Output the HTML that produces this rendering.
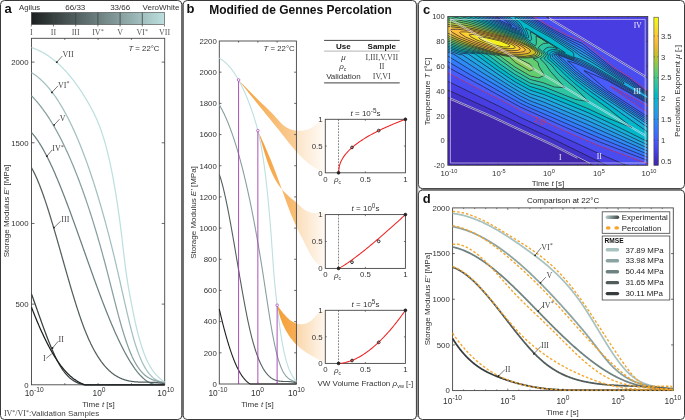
<!DOCTYPE html>
<html><head><meta charset="utf-8"><style>
html,body{margin:0;padding:0;background:#fff;}
svg{display:block;will-change:transform;}
</style></head><body>
<svg width="685" height="420" viewBox="0 0 685 420" font-family='"Liberation Sans", sans-serif'>
<rect width="685" height="420" fill="#fff"/>
<rect x="181.8" y="3" width="1.4" height="414" fill="#a0a0a0"/>
<rect x="416.4" y="3" width="2.0" height="414" fill="#a0a0a0"/>
<rect x="421" y="188.6" width="261" height="1.5" fill="#a0a0a0"/>
<rect x="0.5" y="0.5" width="181.3" height="419" rx="4" ry="4" fill="none" stroke="#3a3a3a" stroke-width="1"/>
<rect x="183.2" y="0.5" width="233.2" height="419" rx="4" ry="4" fill="none" stroke="#3a3a3a" stroke-width="1"/>
<rect x="418.4" y="0.5" width="266.1" height="188.1" rx="4" ry="4" fill="none" stroke="#3a3a3a" stroke-width="1"/>
<rect x="418.4" y="190.1" width="266.1" height="229.4" rx="4" ry="4" fill="none" stroke="#3a3a3a" stroke-width="1"/>
<text x="4.5" y="13" font-size="13" text-anchor="start" fill="#111" font-weight="bold" font-family='"Liberation Sans", sans-serif' >a</text>
<defs><linearGradient id="gA" x1="0" x2="1" y1="0" y2="0"><stop offset="0" stop-color="#1c1f1f"/><stop offset="1" stop-color="#bddfdf"/></linearGradient>
<linearGradient id="fan" x1="0" x2="1" y1="0" y2="0"><stop offset="0" stop-color="#f5a432"/><stop offset="0.5" stop-color="#fbc98a"/><stop offset="1" stop-color="#fde9d2" stop-opacity="0.9"/></linearGradient>
<linearGradient id="gExp" x1="0" x2="1" y1="0" y2="0"><stop offset="0" stop-color="#b7cfcf"/><stop offset="1" stop-color="#3a4242"/></linearGradient>
</defs>
<rect x="31.3" y="12.5" width="133.2" height="12" fill="url(#gA)" stroke="#444" stroke-width="0.6"/>
<line x1="31.3" y1="24.5" x2="31.3" y2="26.5" stroke="#444" stroke-width="0.7" />
<line x1="53.5" y1="12.5" x2="53.5" y2="24.5" stroke="#3c4444" stroke-width="0.8" />
<line x1="53.5" y1="24.5" x2="53.5" y2="26.5" stroke="#444" stroke-width="0.7" />
<line x1="75.7" y1="12.5" x2="75.7" y2="24.5" stroke="#3c4444" stroke-width="0.8" />
<line x1="75.7" y1="24.5" x2="75.7" y2="26.5" stroke="#444" stroke-width="0.7" />
<line x1="97.9" y1="12.5" x2="97.9" y2="24.5" stroke="#3c4444" stroke-width="0.8" />
<line x1="97.9" y1="24.5" x2="97.9" y2="26.5" stroke="#444" stroke-width="0.7" />
<line x1="120.1" y1="12.5" x2="120.1" y2="24.5" stroke="#3c4444" stroke-width="0.8" />
<line x1="120.1" y1="24.5" x2="120.1" y2="26.5" stroke="#444" stroke-width="0.7" />
<line x1="142.3" y1="12.5" x2="142.3" y2="24.5" stroke="#3c4444" stroke-width="0.8" />
<line x1="142.3" y1="24.5" x2="142.3" y2="26.5" stroke="#444" stroke-width="0.7" />
<line x1="164.5" y1="24.5" x2="164.5" y2="26.5" stroke="#444" stroke-width="0.7" />
<text x="31.3" y="34.6" font-size="8" text-anchor="middle" fill="#555" font-weight="normal" font-family='"Liberation Serif", serif' >I</text>
<text x="53.5" y="34.6" font-size="8" text-anchor="middle" fill="#555" font-weight="normal" font-family='"Liberation Serif", serif' >II</text>
<text x="75.7" y="34.6" font-size="8" text-anchor="middle" fill="#555" font-weight="normal" font-family='"Liberation Serif", serif' >III</text>
<text x="97.9" y="34.6" font-size="8" text-anchor="middle" fill="#555" font-weight="normal" font-family='"Liberation Serif", serif' >IV<tspan font-size="6" dy="-2">*</tspan></text>
<text x="120.1" y="34.6" font-size="8" text-anchor="middle" fill="#555" font-weight="normal" font-family='"Liberation Serif", serif' >V</text>
<text x="142.3" y="34.6" font-size="8" text-anchor="middle" fill="#555" font-weight="normal" font-family='"Liberation Serif", serif' >VI<tspan font-size="6" dy="-2">*</tspan></text>
<text x="164.5" y="34.6" font-size="8" text-anchor="middle" fill="#555" font-weight="normal" font-family='"Liberation Serif", serif' >VII</text>
<text x="19" y="10.2" font-size="7.8" text-anchor="start" fill="#333" font-weight="normal" font-family='"Liberation Sans", sans-serif' >Agilus</text>
<text x="75.3" y="10.2" font-size="8" text-anchor="middle" fill="#333" font-weight="normal" font-family='"Liberation Sans", sans-serif' >66/33</text>
<text x="120.2" y="10.2" font-size="8" text-anchor="middle" fill="#333" font-weight="normal" font-family='"Liberation Sans", sans-serif' >33/66</text>
<text x="142.6" y="10.2" font-size="8" text-anchor="start" fill="#333" font-weight="normal" font-family='"Liberation Sans", sans-serif' >VeroWhite</text>
<rect x="31.5" y="38.3" width="133.2" height="346.5" fill="none" stroke="#444" stroke-width="0.9"/>
<line x1="64.8" y1="384.8" x2="64.8" y2="383.2" stroke="#444" stroke-width="0.8" />
<line x1="64.8" y1="38.3" x2="64.8" y2="39.9" stroke="#444" stroke-width="0.8" />
<line x1="98.1" y1="384.8" x2="98.1" y2="383.2" stroke="#444" stroke-width="0.8" />
<line x1="98.1" y1="38.3" x2="98.1" y2="39.9" stroke="#444" stroke-width="0.8" />
<line x1="131.4" y1="384.8" x2="131.4" y2="383.2" stroke="#444" stroke-width="0.8" />
<line x1="131.4" y1="38.3" x2="131.4" y2="39.9" stroke="#444" stroke-width="0.8" />
<text x="28.5" y="387.6" font-size="7.8" text-anchor="end" fill="#333" font-weight="normal" font-family='"Liberation Sans", sans-serif' >0</text>
<line x1="31.5" y1="304.12" x2="34.5" y2="304.12" stroke="#444" stroke-width="0.8" />
<line x1="164.7" y1="304.12" x2="161.7" y2="304.12" stroke="#444" stroke-width="0.8" />
<text x="28.5" y="306.93" font-size="7.8" text-anchor="end" fill="#333" font-weight="normal" font-family='"Liberation Sans", sans-serif' >500</text>
<line x1="31.5" y1="223.45" x2="34.5" y2="223.45" stroke="#444" stroke-width="0.8" />
<line x1="164.7" y1="223.45" x2="161.7" y2="223.45" stroke="#444" stroke-width="0.8" />
<text x="28.5" y="226.25" font-size="7.8" text-anchor="end" fill="#333" font-weight="normal" font-family='"Liberation Sans", sans-serif' >1000</text>
<line x1="31.5" y1="142.78" x2="34.5" y2="142.78" stroke="#444" stroke-width="0.8" />
<line x1="164.7" y1="142.78" x2="161.7" y2="142.78" stroke="#444" stroke-width="0.8" />
<text x="28.5" y="145.58" font-size="7.8" text-anchor="end" fill="#333" font-weight="normal" font-family='"Liberation Sans", sans-serif' >1500</text>
<line x1="31.5" y1="62.1" x2="34.5" y2="62.1" stroke="#444" stroke-width="0.8" />
<line x1="164.7" y1="62.1" x2="161.7" y2="62.1" stroke="#444" stroke-width="0.8" />
<text x="28.5" y="64.9" font-size="7.8" text-anchor="end" fill="#333" font-weight="normal" font-family='"Liberation Sans", sans-serif' >2000</text>
<text x="34.2" y="396.2" font-size="8.4" text-anchor="middle" fill="#333" font-family='"Liberation Sans", sans-serif'>10<tspan font-size="6.7" dy="-3.8">-10</tspan></text>
<text x="99" y="396.2" font-size="8.4" text-anchor="middle" fill="#333" font-family='"Liberation Sans", sans-serif'>10<tspan font-size="6.7" dy="-3.8">0</tspan></text>
<text x="165.7" y="396.2" font-size="8.4" text-anchor="middle" fill="#333" font-family='"Liberation Sans", sans-serif'>10<tspan font-size="6.7" dy="-3.8">10</tspan></text>
<text x="98.5" y="407.3" font-size="8" text-anchor="middle" fill="#333" font-family='"Liberation Sans", sans-serif'>Time <tspan font-style="italic">t</tspan> [s]</text>
<text transform="translate(9.2,211) rotate(-90)" font-size="8" text-anchor="middle" fill="#333" font-family='"Liberation Sans", sans-serif'>Storage Modulus <tspan font-style="italic">E'</tspan> [MPa]</text>
<text x="159.5" y="50.8" font-size="7.8" text-anchor="end" fill="#333" font-family='"Liberation Sans", sans-serif'><tspan font-style="italic">T</tspan> = 22°C</text>
<text x="3.9" y="416" font-size="8" fill="#444" font-family='"Liberation Serif", serif'>IV<tspan font-size="6" dy="-2">*</tspan><tspan dy="2">/VI</tspan><tspan font-size="6" dy="-2">*</tspan><tspan dy="2">:</tspan><tspan font-family='"Liberation Sans", sans-serif'>Validation Samples</tspan></text>
<path d="M31.5,47.6 L31.83,47.71 L32.17,47.82 L32.5,47.93 L32.84,48.05 L33.17,48.17 L33.5,48.29 L33.84,48.41 L34.17,48.54 L34.5,48.66 L34.84,48.79 L35.17,48.93 L35.51,49.06 L35.84,49.19 L36.17,49.33 L36.51,49.47 L36.84,49.61 L37.18,49.76 L37.51,49.91 L37.84,50.05 L38.18,50.21 L38.51,50.36 L38.84,50.51 L39.18,50.67 L39.51,50.83 L39.85,50.99 L40.18,51.16 L40.51,51.33 L40.85,51.5 L41.18,51.67 L41.52,51.84 L41.85,52.02 L42.18,52.19 L42.52,52.38 L42.85,52.56 L43.18,52.74 L43.52,52.93 L43.85,53.12 L44.19,53.31 L44.52,53.51 L44.85,53.71 L45.19,53.91 L45.52,54.11 L45.85,54.31 L46.19,54.52 L46.52,54.73 L46.86,54.94 L47.19,55.16 L47.52,55.37 L47.86,55.59 L48.19,55.81 L48.53,56.04 L48.86,56.27 L49.19,56.49 L49.53,56.73 L49.86,56.96 L50.19,57.2 L50.53,57.44 L50.86,57.68 L51.2,57.92 L51.53,58.17 L51.86,58.42 L52.2,58.67 L52.53,58.93 L52.87,59.18 L53.2,59.44 L53.53,59.71 L53.87,59.97 L54.2,60.24 L54.53,60.51 L54.87,60.78 L55.2,61.06 L55.54,61.34 L55.87,61.62 L56.2,61.9 L56.54,62.19 L56.87,62.48 L57.21,62.77 L57.54,63.06 L57.87,63.36 L58.21,63.66 L58.54,63.96 L58.87,64.27 L59.21,64.58 L59.54,64.89 L59.88,65.2 L60.21,65.52 L60.54,65.84 L60.88,66.16 L61.21,66.48 L61.55,66.81 L61.88,67.14 L62.21,67.47 L62.55,67.81 L62.88,68.15 L63.21,68.49 L63.55,68.83 L63.88,69.18 L64.22,69.53 L64.55,69.89 L64.88,70.24 L65.22,70.6 L65.55,70.96 L65.88,71.33 L66.22,71.7 L66.55,72.07 L66.89,72.44 L67.22,72.82 L67.55,73.2 L67.89,73.58 L68.22,73.96 L68.56,74.35 L68.89,74.74 L69.22,75.14 L69.56,75.54 L69.89,75.94 L70.22,76.34 L70.56,76.75 L70.89,77.16 L71.23,77.57 L71.56,77.98 L71.89,78.4 L72.23,78.82 L72.56,79.25 L72.9,79.68 L73.23,80.11 L73.56,80.54 L73.9,80.98 L74.23,81.42 L74.56,81.86 L74.9,82.31 L75.23,82.76 L75.57,83.21 L75.9,83.67 L76.23,84.13 L76.57,84.59 L76.9,85.06 L77.24,85.52 L77.57,86 L77.9,86.47 L78.24,86.95 L78.57,87.43 L78.9,87.92 L79.24,88.4 L79.57,88.9 L79.91,89.39 L80.24,89.89 L80.57,90.39 L80.91,90.89 L81.24,91.4 L81.58,91.91 L81.91,92.43 L82.24,92.95 L82.58,93.47 L82.91,93.99 L83.24,94.52 L83.58,95.05 L83.91,95.58 L84.25,96.12 L84.58,96.66 L84.91,97.21 L85.25,97.76 L85.58,98.31 L85.92,98.86 L86.25,99.42 L86.58,99.98 L86.92,100.55 L87.25,101.12 L87.58,101.69 L87.92,102.26 L88.25,102.84 L88.59,103.42 L88.92,104.01 L89.25,104.6 L89.59,105.19 L89.92,105.79 L90.25,106.39 L90.59,106.99 L90.92,107.6 L91.26,108.22 L91.59,108.84 L91.92,109.46 L92.26,110.09 L92.59,110.73 L92.93,111.38 L93.26,112.03 L93.59,112.69 L93.93,113.36 L94.26,114.04 L94.59,114.72 L94.93,115.42 L95.26,116.12 L95.6,116.84 L95.93,117.56 L96.26,118.3 L96.6,119.05 L96.93,119.8 L97.27,120.58 L97.6,121.36 L97.93,122.16 L98.27,122.96 L98.6,123.79 L98.93,124.62 L99.27,125.48 L99.6,126.34 L99.94,127.22 L100.27,128.12 L100.6,129.03 L100.94,129.96 L101.27,130.91 L101.61,131.87 L101.94,132.85 L102.27,133.84 L102.61,134.86 L102.94,135.89 L103.27,136.95 L103.61,138.02 L103.94,139.11 L104.28,140.22 L104.61,141.36 L104.94,142.51 L105.28,143.69 L105.61,144.88 L105.95,146.1 L106.28,147.34 L106.61,148.61 L106.95,149.89 L107.28,151.2 L107.61,152.54 L107.95,153.9 L108.28,155.28 L108.62,156.69 L108.95,158.13 L109.28,159.59 L109.62,161.07 L109.95,162.59 L110.28,164.13 L110.62,165.69 L110.95,167.29 L111.29,168.91 L111.62,170.57 L111.95,172.25 L112.29,173.96 L112.62,175.7 L112.96,177.47 L113.29,179.27 L113.62,181.1 L113.96,182.97 L114.29,184.86 L114.62,186.79 L114.96,188.75 L115.29,190.74 L115.63,192.77 L115.96,194.83 L116.29,196.92 L116.63,199.05 L116.96,201.22 L117.3,203.41 L117.63,205.65 L117.96,207.92 L118.3,210.22 L118.63,212.57 L118.96,214.95 L119.3,217.37 L119.63,219.83 L119.97,222.33 L120.3,224.87 L120.63,227.45 L120.97,230.07 L121.3,232.74 L121.64,235.45 L121.97,238.2 L122.3,241 L122.64,243.84 L122.97,246.72 L123.3,249.61 L123.64,252.49 L123.97,255.37 L124.31,258.21 L124.64,261 L124.97,263.74 L125.31,266.4 L125.64,268.96 L125.98,271.44 L126.31,273.83 L126.64,276.13 L126.98,278.37 L127.31,280.53 L127.64,282.62 L127.98,284.66 L128.31,286.64 L128.65,288.57 L128.98,290.45 L129.31,292.3 L129.65,294.11 L129.98,295.9 L130.32,297.66 L130.65,299.41 L130.98,301.14 L131.32,302.87 L131.65,304.59 L131.98,306.3 L132.32,308 L132.65,309.68 L132.99,311.36 L133.32,313.01 L133.65,314.65 L133.99,316.27 L134.32,317.87 L134.65,319.44 L134.99,320.99 L135.32,322.52 L135.66,324.02 L135.99,325.49 L136.32,326.94 L136.66,328.35 L136.99,329.74 L137.33,331.1 L137.66,332.44 L137.99,333.75 L138.33,335.03 L138.66,336.29 L138.99,337.53 L139.33,338.74 L139.66,339.92 L140,341.08 L140.33,342.22 L140.66,343.33 L141,344.42 L141.33,345.49 L141.67,346.54 L142,347.56 L142.33,348.56 L142.67,349.54 L143,350.5 L143.33,351.43 L143.67,352.35 L144,353.24 L144.34,354.12 L144.67,354.98 L145,355.81 L145.34,356.63 L145.67,357.43 L146.01,358.21 L146.34,358.97 L146.67,359.72 L147.01,360.44 L147.34,361.15 L147.67,361.85 L148.01,362.52 L148.34,363.18 L148.68,363.83 L149.01,364.45 L149.34,365.07 L149.68,365.67 L150.01,366.25 L150.35,366.82 L150.68,367.37 L151.01,367.91 L151.35,368.44 L151.68,368.96 L152.01,369.46 L152.35,369.95 L152.68,370.43 L153.02,370.89 L153.35,371.35 L153.68,371.79 L154.02,372.22 L154.35,372.64 L154.68,373.05 L155.02,373.46 L155.35,373.85 L155.69,374.23 L156.02,374.6 L156.35,374.97 L156.69,375.32 L157.02,375.67 L157.36,376.01 L157.69,376.35 L158.02,376.67 L158.36,376.99 L158.69,377.31 L159.02,377.61 L159.36,377.91 L159.69,378.21 L160.03,378.5 L160.36,378.78 L160.69,379.07 L161.03,379.34 L161.36,379.61 L161.7,379.88 L162.03,380.15 L162.36,380.41 L162.7,380.67 L163.03,380.93 L163.36,381.19 L163.7,381.44 L164.03,381.69 L164.37,381.94 L164.7,382.19" fill="none" stroke="#bddfdf" stroke-width="1.25"/>
<path d="M31.5,72.68 L31.83,72.88 L32.17,73.08 L32.5,73.29 L32.84,73.5 L33.17,73.71 L33.5,73.93 L33.84,74.15 L34.17,74.38 L34.5,74.61 L34.84,74.84 L35.17,75.08 L35.51,75.32 L35.84,75.56 L36.17,75.81 L36.51,76.06 L36.84,76.32 L37.18,76.58 L37.51,76.84 L37.84,77.11 L38.18,77.38 L38.51,77.65 L38.84,77.93 L39.18,78.21 L39.51,78.5 L39.85,78.79 L40.18,79.08 L40.51,79.38 L40.85,79.68 L41.18,79.99 L41.52,80.3 L41.85,80.61 L42.18,80.93 L42.52,81.25 L42.85,81.57 L43.18,81.9 L43.52,82.24 L43.85,82.57 L44.19,82.91 L44.52,83.26 L44.85,83.61 L45.19,83.96 L45.52,84.32 L45.85,84.68 L46.19,85.04 L46.52,85.41 L46.86,85.79 L47.19,86.16 L47.52,86.55 L47.86,86.93 L48.19,87.32 L48.53,87.71 L48.86,88.11 L49.19,88.51 L49.53,88.92 L49.86,89.33 L50.19,89.74 L50.53,90.16 L50.86,90.59 L51.2,91.01 L51.53,91.44 L51.86,91.88 L52.2,92.32 L52.53,92.76 L52.87,93.21 L53.2,93.66 L53.53,94.12 L53.87,94.58 L54.2,95.04 L54.53,95.51 L54.87,95.99 L55.2,96.46 L55.54,96.95 L55.87,97.43 L56.2,97.92 L56.54,98.42 L56.87,98.92 L57.21,99.42 L57.54,99.93 L57.87,100.44 L58.21,100.96 L58.54,101.48 L58.87,102 L59.21,102.53 L59.54,103.07 L59.88,103.61 L60.21,104.15 L60.54,104.7 L60.88,105.25 L61.21,105.81 L61.55,106.37 L61.88,106.93 L62.21,107.5 L62.55,108.08 L62.88,108.65 L63.21,109.24 L63.55,109.83 L63.88,110.42 L64.22,111.01 L64.55,111.62 L64.88,112.22 L65.22,112.83 L65.55,113.45 L65.88,114.07 L66.22,114.69 L66.55,115.32 L66.89,115.95 L67.22,116.59 L67.55,117.23 L67.89,117.88 L68.22,118.53 L68.56,119.19 L68.89,119.85 L69.22,120.52 L69.56,121.19 L69.89,121.86 L70.22,122.54 L70.56,123.23 L70.89,123.92 L71.23,124.61 L71.56,125.31 L71.89,126.01 L72.23,126.72 L72.56,127.43 L72.9,128.15 L73.23,128.87 L73.56,129.6 L73.9,130.33 L74.23,131.07 L74.56,131.81 L74.9,132.56 L75.23,133.31 L75.57,134.07 L75.9,134.83 L76.23,135.6 L76.57,136.37 L76.9,137.14 L77.24,137.92 L77.57,138.71 L77.9,139.5 L78.24,140.29 L78.57,141.09 L78.9,141.9 L79.24,142.71 L79.57,143.52 L79.91,144.34 L80.24,145.17 L80.57,146 L80.91,146.83 L81.24,147.68 L81.58,148.52 L81.91,149.37 L82.24,150.23 L82.58,151.09 L82.91,151.95 L83.24,152.82 L83.58,153.7 L83.91,154.58 L84.25,155.46 L84.58,156.35 L84.91,157.25 L85.25,158.15 L85.58,159.05 L85.92,159.97 L86.25,160.88 L86.58,161.8 L86.92,162.73 L87.25,163.66 L87.58,164.6 L87.92,165.54 L88.25,166.49 L88.59,167.44 L88.92,168.4 L89.25,169.36 L89.59,170.33 L89.92,171.3 L90.25,172.28 L90.59,173.26 L90.92,174.25 L91.26,175.24 L91.59,176.24 L91.92,177.25 L92.26,178.26 L92.59,179.27 L92.93,180.29 L93.26,181.32 L93.59,182.35 L93.93,183.39 L94.26,184.43 L94.59,185.48 L94.93,186.53 L95.26,187.59 L95.6,188.65 L95.93,189.72 L96.26,190.8 L96.6,191.88 L96.93,192.96 L97.27,194.05 L97.6,195.15 L97.93,196.25 L98.27,197.36 L98.6,198.47 L98.93,199.59 L99.27,200.71 L99.6,201.84 L99.94,202.97 L100.27,204.11 L100.6,205.26 L100.94,206.41 L101.27,207.57 L101.61,208.73 L101.94,209.89 L102.27,211.07 L102.61,212.25 L102.94,213.43 L103.27,214.62 L103.61,215.82 L103.94,217.02 L104.28,218.22 L104.61,219.44 L104.94,220.65 L105.28,221.88 L105.61,223.11 L105.95,224.34 L106.28,225.58 L106.61,226.83 L106.95,228.08 L107.28,229.34 L107.61,230.6 L107.95,231.87 L108.28,233.15 L108.62,234.43 L108.95,235.72 L109.28,237.01 L109.62,238.31 L109.95,239.61 L110.28,240.92 L110.62,242.23 L110.95,243.56 L111.29,244.88 L111.62,246.22 L111.95,247.55 L112.29,248.9 L112.62,250.25 L112.96,251.61 L113.29,252.97 L113.62,254.34 L113.96,255.71 L114.29,257.09 L114.62,258.48 L114.96,259.87 L115.29,261.26 L115.63,262.67 L115.96,264.08 L116.29,265.49 L116.63,266.91 L116.96,268.34 L117.3,269.77 L117.63,271.21 L117.96,272.66 L118.3,274.11 L118.63,275.56 L118.96,277.02 L119.3,278.49 L119.63,279.95 L119.97,281.42 L120.3,282.9 L120.63,284.37 L120.97,285.85 L121.3,287.33 L121.64,288.81 L121.97,290.29 L122.3,291.77 L122.64,293.25 L122.97,294.73 L123.3,296.21 L123.64,297.69 L123.97,299.16 L124.31,300.64 L124.64,302.11 L124.97,303.58 L125.31,305.05 L125.64,306.51 L125.98,307.97 L126.31,309.42 L126.64,310.86 L126.98,312.3 L127.31,313.73 L127.64,315.16 L127.98,316.57 L128.31,317.98 L128.65,319.37 L128.98,320.76 L129.31,322.13 L129.65,323.49 L129.98,324.84 L130.32,326.18 L130.65,327.5 L130.98,328.81 L131.32,330.1 L131.65,331.38 L131.98,332.64 L132.32,333.89 L132.65,335.11 L132.99,336.32 L133.32,337.51 L133.65,338.68 L133.99,339.83 L134.32,340.96 L134.65,342.07 L134.99,343.16 L135.32,344.23 L135.66,345.28 L135.99,346.31 L136.32,347.32 L136.66,348.32 L136.99,349.29 L137.33,350.25 L137.66,351.19 L137.99,352.11 L138.33,353.02 L138.66,353.9 L138.99,354.77 L139.33,355.62 L139.66,356.45 L140,357.27 L140.33,358.07 L140.66,358.85 L141,359.62 L141.33,360.37 L141.67,361.1 L142,361.82 L142.33,362.52 L142.67,363.21 L143,363.88 L143.33,364.53 L143.67,365.18 L144,365.8 L144.34,366.41 L144.67,367.01 L145,367.59 L145.34,368.16 L145.67,368.71 L146.01,369.25 L146.34,369.77 L146.67,370.28 L147.01,370.78 L147.34,371.27 L147.67,371.74 L148.01,372.2 L148.34,372.64 L148.68,373.08 L149.01,373.5 L149.34,373.91 L149.68,374.3 L150.01,374.69 L150.35,375.06 L150.68,375.42 L151.01,375.77 L151.35,376.11 L151.68,376.44 L152.01,376.75 L152.35,377.06 L152.68,377.36 L153.02,377.64 L153.35,377.92 L153.68,378.18 L154.02,378.43 L154.35,378.68 L154.68,378.92 L155.02,379.14 L155.35,379.36 L155.69,379.57 L156.02,379.77 L156.35,379.96 L156.69,380.14 L157.02,380.31 L157.36,380.48 L157.69,380.63 L158.02,380.78 L158.36,380.93 L158.69,381.06 L159.02,381.19 L159.36,381.31 L159.69,381.42 L160.03,381.53 L160.36,381.63 L160.69,381.72 L161.03,381.81 L161.36,381.89 L161.7,381.96 L162.03,382.03 L162.36,382.09 L162.7,382.15 L163.03,382.2 L163.36,382.25 L163.7,382.29 L164.03,382.33 L164.37,382.37 L164.7,382.39" fill="none" stroke="#a2bfbf" stroke-width="1.25"/>
<path d="M31.5,95.77 L31.83,96.11 L32.17,96.45 L32.5,96.8 L32.84,97.15 L33.17,97.51 L33.5,97.87 L33.84,98.23 L34.17,98.59 L34.5,98.96 L34.84,99.33 L35.17,99.7 L35.51,100.08 L35.84,100.46 L36.17,100.85 L36.51,101.23 L36.84,101.62 L37.18,102.02 L37.51,102.41 L37.84,102.81 L38.18,103.22 L38.51,103.63 L38.84,104.04 L39.18,104.45 L39.51,104.87 L39.85,105.29 L40.18,105.71 L40.51,106.14 L40.85,106.57 L41.18,107 L41.52,107.44 L41.85,107.88 L42.18,108.33 L42.52,108.77 L42.85,109.22 L43.18,109.68 L43.52,110.14 L43.85,110.6 L44.19,111.06 L44.52,111.53 L44.85,112 L45.19,112.48 L45.52,112.96 L45.85,113.44 L46.19,113.93 L46.52,114.42 L46.86,114.91 L47.19,115.41 L47.52,115.91 L47.86,116.41 L48.19,116.92 L48.53,117.43 L48.86,117.95 L49.19,118.46 L49.53,118.99 L49.86,119.51 L50.19,120.04 L50.53,120.57 L50.86,121.11 L51.2,121.65 L51.53,122.2 L51.86,122.74 L52.2,123.29 L52.53,123.85 L52.87,124.41 L53.2,124.97 L53.53,125.54 L53.87,126.11 L54.2,126.68 L54.53,127.26 L54.87,127.84 L55.2,128.43 L55.54,129.02 L55.87,129.61 L56.2,130.2 L56.54,130.81 L56.87,131.41 L57.21,132.02 L57.54,132.63 L57.87,133.25 L58.21,133.86 L58.54,134.49 L58.87,135.12 L59.21,135.75 L59.54,136.38 L59.88,137.02 L60.21,137.66 L60.54,138.31 L60.88,138.96 L61.21,139.62 L61.55,140.28 L61.88,140.94 L62.21,141.61 L62.55,142.28 L62.88,142.95 L63.21,143.63 L63.55,144.31 L63.88,145 L64.22,145.69 L64.55,146.39 L64.88,147.08 L65.22,147.79 L65.55,148.49 L65.88,149.21 L66.22,149.92 L66.55,150.64 L66.89,151.36 L67.22,152.09 L67.55,152.82 L67.89,153.56 L68.22,154.3 L68.56,155.04 L68.89,155.79 L69.22,156.54 L69.56,157.3 L69.89,158.06 L70.22,158.82 L70.56,159.59 L70.89,160.37 L71.23,161.14 L71.56,161.93 L71.89,162.71 L72.23,163.5 L72.56,164.3 L72.9,165.09 L73.23,165.9 L73.56,166.7 L73.9,167.52 L74.23,168.33 L74.56,169.15 L74.9,169.98 L75.23,170.81 L75.57,171.64 L75.9,172.48 L76.23,173.32 L76.57,174.16 L76.9,175.01 L77.24,175.87 L77.57,176.73 L77.9,177.59 L78.24,178.46 L78.57,179.33 L78.9,180.21 L79.24,181.09 L79.57,181.98 L79.91,182.87 L80.24,183.76 L80.57,184.66 L80.91,185.56 L81.24,186.47 L81.58,187.39 L81.91,188.3 L82.24,189.22 L82.58,190.15 L82.91,191.08 L83.24,192.02 L83.58,192.96 L83.91,193.9 L84.25,194.85 L84.58,195.8 L84.91,196.76 L85.25,197.72 L85.58,198.69 L85.92,199.66 L86.25,200.64 L86.58,201.62 L86.92,202.61 L87.25,203.6 L87.58,204.59 L87.92,205.59 L88.25,206.6 L88.59,207.61 L88.92,208.62 L89.25,209.64 L89.59,210.66 L89.92,211.69 L90.25,212.72 L90.59,213.76 L90.92,214.8 L91.26,215.85 L91.59,216.9 L91.92,217.96 L92.26,219.02 L92.59,220.09 L92.93,221.16 L93.26,222.23 L93.59,223.31 L93.93,224.4 L94.26,225.49 L94.59,226.58 L94.93,227.68 L95.26,228.79 L95.6,229.9 L95.93,231.01 L96.26,232.13 L96.6,233.26 L96.93,234.38 L97.27,235.52 L97.6,236.66 L97.93,237.8 L98.27,238.95 L98.6,240.11 L98.93,241.26 L99.27,242.43 L99.6,243.6 L99.94,244.77 L100.27,245.95 L100.6,247.13 L100.94,248.32 L101.27,249.52 L101.61,250.72 L101.94,251.92 L102.27,253.13 L102.61,254.34 L102.94,255.56 L103.27,256.79 L103.61,258.01 L103.94,259.25 L104.28,260.49 L104.61,261.73 L104.94,262.98 L105.28,264.24 L105.61,265.5 L105.95,266.76 L106.28,268.03 L106.61,269.31 L106.95,270.59 L107.28,271.88 L107.61,273.17 L107.95,274.46 L108.28,275.76 L108.62,277.07 L108.95,278.38 L109.28,279.69 L109.62,281 L109.95,282.32 L110.28,283.64 L110.62,284.96 L110.95,286.28 L111.29,287.61 L111.62,288.93 L111.95,290.25 L112.29,291.58 L112.62,292.9 L112.96,294.22 L113.29,295.54 L113.62,296.86 L113.96,298.17 L114.29,299.49 L114.62,300.8 L114.96,302.1 L115.29,303.41 L115.63,304.7 L115.96,306 L116.29,307.28 L116.63,308.57 L116.96,309.84 L117.3,311.11 L117.63,312.37 L117.96,313.63 L118.3,314.88 L118.63,316.12 L118.96,317.35 L119.3,318.57 L119.63,319.78 L119.97,320.99 L120.3,322.18 L120.63,323.36 L120.97,324.53 L121.3,325.7 L121.64,326.85 L121.97,327.98 L122.3,329.11 L122.64,330.23 L122.97,331.33 L123.3,332.42 L123.64,333.5 L123.97,334.57 L124.31,335.63 L124.64,336.67 L124.97,337.7 L125.31,338.72 L125.64,339.72 L125.98,340.72 L126.31,341.7 L126.64,342.67 L126.98,343.62 L127.31,344.56 L127.64,345.49 L127.98,346.4 L128.31,347.3 L128.65,348.19 L128.98,349.06 L129.31,349.92 L129.65,350.77 L129.98,351.6 L130.32,352.41 L130.65,353.21 L130.98,354 L131.32,354.77 L131.65,355.53 L131.98,356.28 L132.32,357 L132.65,357.72 L132.99,358.41 L133.32,359.1 L133.65,359.77 L133.99,360.42 L134.32,361.06 L134.65,361.69 L134.99,362.3 L135.32,362.9 L135.66,363.49 L135.99,364.06 L136.32,364.62 L136.66,365.17 L136.99,365.71 L137.33,366.23 L137.66,366.74 L137.99,367.24 L138.33,367.72 L138.66,368.2 L138.99,368.66 L139.33,369.11 L139.66,369.55 L140,369.98 L140.33,370.4 L140.66,370.8 L141,371.2 L141.33,371.59 L141.67,371.96 L142,372.33 L142.33,372.68 L142.67,373.03 L143,373.37 L143.33,373.69 L143.67,374.01 L144,374.32 L144.34,374.62 L144.67,374.91 L145,375.19 L145.34,375.47 L145.67,375.74 L146.01,375.99 L146.34,376.24 L146.67,376.49 L147.01,376.72 L147.34,376.95 L147.67,377.17 L148.01,377.38 L148.34,377.59 L148.68,377.79 L149.01,377.98 L149.34,378.17 L149.68,378.35 L150.01,378.53 L150.35,378.7 L150.68,378.86 L151.01,379.02 L151.35,379.17 L151.68,379.32 L152.01,379.46 L152.35,379.6 L152.68,379.74 L153.02,379.87 L153.35,379.99 L153.68,380.11 L154.02,380.23 L154.35,380.34 L154.68,380.45 L155.02,380.56 L155.35,380.66 L155.69,380.76 L156.02,380.86 L156.35,380.96 L156.69,381.05 L157.02,381.14 L157.36,381.23 L157.69,381.31 L158.02,381.4 L158.36,381.48 L158.69,381.56 L159.02,381.64 L159.36,381.72 L159.69,381.79 L160.03,381.87 L160.36,381.95 L160.69,382.02 L161.03,382.1 L161.36,382.17 L161.7,382.25 L162.03,382.32 L162.36,382.4 L162.7,382.48 L163.03,382.55 L163.36,382.63 L163.7,382.71 L164.03,382.79 L164.37,382.87 L164.7,382.95" fill="none" stroke="#879f9f" stroke-width="1.25"/>
<path d="M31.5,132.56 L31.83,132.92 L32.17,133.3 L32.5,133.68 L32.84,134.07 L33.17,134.46 L33.5,134.86 L33.84,135.27 L34.17,135.69 L34.5,136.11 L34.84,136.54 L35.17,136.98 L35.51,137.42 L35.84,137.87 L36.17,138.33 L36.51,138.8 L36.84,139.27 L37.18,139.75 L37.51,140.23 L37.84,140.72 L38.18,141.22 L38.51,141.72 L38.84,142.23 L39.18,142.75 L39.51,143.27 L39.85,143.8 L40.18,144.34 L40.51,144.88 L40.85,145.43 L41.18,145.98 L41.52,146.54 L41.85,147.11 L42.18,147.68 L42.52,148.26 L42.85,148.84 L43.18,149.43 L43.52,150.02 L43.85,150.62 L44.19,151.23 L44.52,151.84 L44.85,152.46 L45.19,153.08 L45.52,153.71 L45.85,154.35 L46.19,154.98 L46.52,155.63 L46.86,156.28 L47.19,156.93 L47.52,157.59 L47.86,158.26 L48.19,158.93 L48.53,159.61 L48.86,160.29 L49.19,160.97 L49.53,161.66 L49.86,162.36 L50.19,163.06 L50.53,163.76 L50.86,164.47 L51.2,165.19 L51.53,165.91 L51.86,166.63 L52.2,167.36 L52.53,168.09 L52.87,168.83 L53.2,169.57 L53.53,170.31 L53.87,171.06 L54.2,171.82 L54.53,172.58 L54.87,173.34 L55.2,174.11 L55.54,174.88 L55.87,175.65 L56.2,176.43 L56.54,177.21 L56.87,178 L57.21,178.79 L57.54,179.58 L57.87,180.38 L58.21,181.18 L58.54,181.99 L58.87,182.8 L59.21,183.61 L59.54,184.43 L59.88,185.24 L60.21,186.07 L60.54,186.89 L60.88,187.72 L61.21,188.55 L61.55,189.39 L61.88,190.23 L62.21,191.07 L62.55,191.92 L62.88,192.76 L63.21,193.62 L63.55,194.47 L63.88,195.33 L64.22,196.19 L64.55,197.05 L64.88,197.91 L65.22,198.78 L65.55,199.65 L65.88,200.53 L66.22,201.4 L66.55,202.28 L66.89,203.16 L67.22,204.04 L67.55,204.93 L67.89,205.82 L68.22,206.71 L68.56,207.6 L68.89,208.49 L69.22,209.39 L69.56,210.29 L69.89,211.19 L70.22,212.09 L70.56,213 L70.89,213.9 L71.23,214.81 L71.56,215.72 L71.89,216.63 L72.23,217.55 L72.56,218.46 L72.9,219.38 L73.23,220.3 L73.56,221.22 L73.9,222.14 L74.23,223.06 L74.56,223.99 L74.9,224.91 L75.23,225.84 L75.57,226.77 L75.9,227.7 L76.23,228.63 L76.57,229.56 L76.9,230.49 L77.24,231.42 L77.57,232.36 L77.9,233.29 L78.24,234.23 L78.57,235.17 L78.9,236.11 L79.24,237.05 L79.57,237.98 L79.91,238.92 L80.24,239.86 L80.57,240.81 L80.91,241.75 L81.24,242.69 L81.58,243.63 L81.91,244.57 L82.24,245.52 L82.58,246.46 L82.91,247.4 L83.24,248.35 L83.58,249.29 L83.91,250.24 L84.25,251.18 L84.58,252.12 L84.91,253.07 L85.25,254.01 L85.58,254.95 L85.92,255.9 L86.25,256.84 L86.58,257.78 L86.92,258.72 L87.25,259.67 L87.58,260.61 L87.92,261.55 L88.25,262.49 L88.59,263.43 L88.92,264.37 L89.25,265.31 L89.59,266.24 L89.92,267.18 L90.25,268.12 L90.59,269.05 L90.92,269.99 L91.26,270.92 L91.59,271.85 L91.92,272.78 L92.26,273.71 L92.59,274.64 L92.93,275.57 L93.26,276.5 L93.59,277.42 L93.93,278.35 L94.26,279.27 L94.59,280.19 L94.93,281.11 L95.26,282.03 L95.6,282.94 L95.93,283.86 L96.26,284.77 L96.6,285.68 L96.93,286.59 L97.27,287.5 L97.6,288.4 L97.93,289.31 L98.27,290.21 L98.6,291.11 L98.93,292.01 L99.27,292.9 L99.6,293.8 L99.94,294.69 L100.27,295.58 L100.6,296.47 L100.94,297.35 L101.27,298.23 L101.61,299.11 L101.94,299.99 L102.27,300.86 L102.61,301.74 L102.94,302.61 L103.27,303.47 L103.61,304.34 L103.94,305.2 L104.28,306.06 L104.61,306.92 L104.94,307.77 L105.28,308.62 L105.61,309.47 L105.95,310.31 L106.28,311.15 L106.61,311.99 L106.95,312.83 L107.28,313.66 L107.61,314.49 L107.95,315.32 L108.28,316.14 L108.62,316.96 L108.95,317.78 L109.28,318.59 L109.62,319.4 L109.95,320.21 L110.28,321.02 L110.62,321.82 L110.95,322.61 L111.29,323.41 L111.62,324.2 L111.95,324.99 L112.29,325.77 L112.62,326.55 L112.96,327.32 L113.29,328.1 L113.62,328.87 L113.96,329.63 L114.29,330.39 L114.62,331.15 L114.96,331.9 L115.29,332.65 L115.63,333.4 L115.96,334.14 L116.29,334.88 L116.63,335.61 L116.96,336.34 L117.3,337.07 L117.63,337.79 L117.96,338.51 L118.3,339.22 L118.63,339.93 L118.96,340.63 L119.3,341.34 L119.63,342.03 L119.97,342.72 L120.3,343.41 L120.63,344.09 L120.97,344.77 L121.3,345.45 L121.64,346.12 L121.97,346.78 L122.3,347.44 L122.64,348.1 L122.97,348.75 L123.3,349.4 L123.64,350.04 L123.97,350.68 L124.31,351.31 L124.64,351.94 L124.97,352.56 L125.31,353.18 L125.64,353.79 L125.98,354.4 L126.31,355 L126.64,355.6 L126.98,356.19 L127.31,356.78 L127.64,357.36 L127.98,357.94 L128.31,358.51 L128.65,359.08 L128.98,359.64 L129.31,360.2 L129.65,360.75 L129.98,361.29 L130.32,361.83 L130.65,362.37 L130.98,362.9 L131.32,363.42 L131.65,363.94 L131.98,364.45 L132.32,364.96 L132.65,365.46 L132.99,365.96 L133.32,366.44 L133.65,366.93 L133.99,367.41 L134.32,367.88 L134.65,368.35 L134.99,368.81 L135.32,369.26 L135.66,369.71 L135.99,370.15 L136.32,370.59 L136.66,371.02 L136.99,371.45 L137.33,371.86 L137.66,372.28 L137.99,372.68 L138.33,373.08 L138.66,373.48 L138.99,373.86 L139.33,374.24 L139.66,374.62 L140,374.99 L140.33,375.35 L140.66,375.7 L141,376.05 L141.33,376.39 L141.67,376.73 L142,377.06 L142.33,377.38 L142.67,377.7 L143,378.01 L143.33,378.31 L143.67,378.6 L144,378.89 L144.34,379.17 L144.67,379.45 L145,379.71 L145.34,379.98 L145.67,380.23 L146.01,380.48 L146.34,380.72 L146.67,380.95 L147.01,381.17 L147.34,381.39 L147.67,381.6 L148.01,381.81 L148.34,382 L148.68,382.19 L149.01,382.37 L149.34,382.55 L149.68,382.71 L150.01,382.87 L150.35,383.03 L150.68,383.17 L151.01,383.31 L151.35,383.44 L151.68,383.56 L152.01,383.67 L152.35,383.78 L152.68,383.88 L153.02,383.97 L153.35,384.05 L153.68,384.13 L154.02,384.19 L154.35,384.25 L154.68,384.31 L155.02,384.35 L155.35,384.39 L155.69,384.41 L156.02,384.43 L156.35,384.44 L156.69,384.45 L157.02,384.45 L157.36,384.45 L157.69,384.45 L158.02,384.45 L158.36,384.45 L158.69,384.45 L159.02,384.45 L159.36,384.45 L159.69,384.45 L160.03,384.45 L160.36,384.45 L160.69,384.45 L161.03,384.45 L161.36,384.45 L161.7,384.45 L162.03,384.45 L162.36,384.45 L162.7,384.45 L163.03,384.45 L163.36,384.45 L163.7,384.45 L164.03,384.45 L164.37,384.45 L164.7,384.45" fill="none" stroke="#6c7f7f" stroke-width="1.25"/>
<path d="M31.5,167.81 L31.83,168.38 L32.17,168.97 L32.5,169.57 L32.84,170.19 L33.17,170.82 L33.5,171.46 L33.84,172.11 L34.17,172.77 L34.5,173.45 L34.84,174.14 L35.17,174.84 L35.51,175.55 L35.84,176.27 L36.17,177.01 L36.51,177.75 L36.84,178.51 L37.18,179.28 L37.51,180.06 L37.84,180.84 L38.18,181.64 L38.51,182.45 L38.84,183.27 L39.18,184.11 L39.51,184.95 L39.85,185.8 L40.18,186.66 L40.51,187.52 L40.85,188.4 L41.18,189.29 L41.52,190.19 L41.85,191.09 L42.18,192.01 L42.52,192.93 L42.85,193.86 L43.18,194.8 L43.52,195.75 L43.85,196.71 L44.19,197.67 L44.52,198.64 L44.85,199.62 L45.19,200.61 L45.52,201.6 L45.85,202.61 L46.19,203.61 L46.52,204.63 L46.86,205.65 L47.19,206.68 L47.52,207.72 L47.86,208.76 L48.19,209.81 L48.53,210.86 L48.86,211.92 L49.19,212.99 L49.53,214.06 L49.86,215.13 L50.19,216.22 L50.53,217.3 L50.86,218.4 L51.2,219.49 L51.53,220.59 L51.86,221.7 L52.2,222.81 L52.53,223.93 L52.87,225.05 L53.2,226.17 L53.53,227.3 L53.87,228.43 L54.2,229.56 L54.53,230.7 L54.87,231.84 L55.2,232.99 L55.54,234.14 L55.87,235.29 L56.2,236.44 L56.54,237.6 L56.87,238.75 L57.21,239.92 L57.54,241.08 L57.87,242.24 L58.21,243.41 L58.54,244.58 L58.87,245.75 L59.21,246.92 L59.54,248.09 L59.88,249.27 L60.21,250.44 L60.54,251.62 L60.88,252.79 L61.21,253.97 L61.55,255.15 L61.88,256.33 L62.21,257.51 L62.55,258.68 L62.88,259.86 L63.21,261.04 L63.55,262.22 L63.88,263.39 L64.22,264.57 L64.55,265.75 L64.88,266.92 L65.22,268.09 L65.55,269.26 L65.88,270.43 L66.22,271.6 L66.55,272.77 L66.89,273.94 L67.22,275.1 L67.55,276.26 L67.89,277.42 L68.22,278.58 L68.56,279.73 L68.89,280.88 L69.22,282.03 L69.56,283.17 L69.89,284.32 L70.22,285.45 L70.56,286.59 L70.89,287.72 L71.23,288.85 L71.56,289.97 L71.89,291.09 L72.23,292.21 L72.56,293.32 L72.9,294.43 L73.23,295.53 L73.56,296.63 L73.9,297.72 L74.23,298.81 L74.56,299.89 L74.9,300.97 L75.23,302.04 L75.57,303.11 L75.9,304.17 L76.23,305.23 L76.57,306.27 L76.9,307.32 L77.24,308.35 L77.57,309.38 L77.9,310.41 L78.24,311.42 L78.57,312.43 L78.9,313.44 L79.24,314.43 L79.57,315.42 L79.91,316.4 L80.24,317.37 L80.57,318.34 L80.91,319.3 L81.24,320.25 L81.58,321.19 L81.91,322.12 L82.24,323.04 L82.58,323.96 L82.91,324.87 L83.24,325.77 L83.58,326.66 L83.91,327.54 L84.25,328.41 L84.58,329.27 L84.91,330.12 L85.25,330.96 L85.58,331.8 L85.92,332.62 L86.25,333.44 L86.58,334.24 L86.92,335.04 L87.25,335.83 L87.58,336.61 L87.92,337.38 L88.25,338.14 L88.59,338.89 L88.92,339.64 L89.25,340.38 L89.59,341.1 L89.92,341.82 L90.25,342.53 L90.59,343.23 L90.92,343.93 L91.26,344.61 L91.59,345.29 L91.92,345.96 L92.26,346.62 L92.59,347.27 L92.93,347.92 L93.26,348.55 L93.59,349.18 L93.93,349.8 L94.26,350.42 L94.59,351.02 L94.93,351.62 L95.26,352.21 L95.6,352.79 L95.93,353.36 L96.26,353.93 L96.6,354.49 L96.93,355.04 L97.27,355.59 L97.6,356.12 L97.93,356.65 L98.27,357.17 L98.6,357.69 L98.93,358.2 L99.27,358.7 L99.6,359.19 L99.94,359.68 L100.27,360.16 L100.6,360.63 L100.94,361.1 L101.27,361.56 L101.61,362.01 L101.94,362.46 L102.27,362.89 L102.61,363.33 L102.94,363.75 L103.27,364.17 L103.61,364.59 L103.94,364.99 L104.28,365.39 L104.61,365.79 L104.94,366.17 L105.28,366.56 L105.61,366.93 L105.95,367.3 L106.28,367.66 L106.61,368.02 L106.95,368.37 L107.28,368.72 L107.61,369.06 L107.95,369.39 L108.28,369.72 L108.62,370.04 L108.95,370.36 L109.28,370.67 L109.62,370.97 L109.95,371.27 L110.28,371.57 L110.62,371.86 L110.95,372.14 L111.29,372.42 L111.62,372.69 L111.95,372.96 L112.29,373.22 L112.62,373.48 L112.96,373.73 L113.29,373.98 L113.62,374.22 L113.96,374.46 L114.29,374.7 L114.62,374.92 L114.96,375.15 L115.29,375.37 L115.63,375.58 L115.96,375.79 L116.29,376 L116.63,376.2 L116.96,376.39 L117.3,376.58 L117.63,376.77 L117.96,376.96 L118.3,377.13 L118.63,377.31 L118.96,377.48 L119.3,377.65 L119.63,377.81 L119.97,377.97 L120.3,378.12 L120.63,378.27 L120.97,378.42 L121.3,378.56 L121.64,378.7 L121.97,378.84 L122.3,378.97 L122.64,379.1 L122.97,379.22 L123.3,379.34 L123.64,379.46 L123.97,379.58 L124.31,379.69 L124.64,379.8 L124.97,379.9 L125.31,380 L125.64,380.1 L125.98,380.2 L126.31,380.29 L126.64,380.38 L126.98,380.47 L127.31,380.55 L127.64,380.63 L127.98,380.71 L128.31,380.78 L128.65,380.86 L128.98,380.93 L129.31,380.99 L129.65,381.06 L129.98,381.12 L130.32,381.18 L130.65,381.24 L130.98,381.3 L131.32,381.35 L131.65,381.4 L131.98,381.45 L132.32,381.49 L132.65,381.54 L132.99,381.58 L133.32,381.62 L133.65,381.66 L133.99,381.7 L134.32,381.73 L134.65,381.77 L134.99,381.8 L135.32,381.83 L135.66,381.86 L135.99,381.88 L136.32,381.91 L136.66,381.93 L136.99,381.95 L137.33,381.97 L137.66,381.99 L137.99,382.01 L138.33,382.03 L138.66,382.05 L138.99,382.06 L139.33,382.07 L139.66,382.09 L140,382.1 L140.33,382.11 L140.66,382.12 L141,382.13 L141.33,382.14 L141.67,382.15 L142,382.15 L142.33,382.16 L142.67,382.17 L143,382.17 L143.33,382.18 L143.67,382.18 L144,382.19 L144.34,382.19 L144.67,382.19 L145,382.2 L145.34,382.2 L145.67,382.2 L146.01,382.21 L146.34,382.21 L146.67,382.21 L147.01,382.22 L147.34,382.22 L147.67,382.22 L148.01,382.23 L148.34,382.23 L148.68,382.24 L149.01,382.24 L149.34,382.25 L149.68,382.25 L150.01,382.26 L150.35,382.27 L150.68,382.28 L151.01,382.28 L151.35,382.29 L151.68,382.3 L152.01,382.32 L152.35,382.33 L152.68,382.34 L153.02,382.35 L153.35,382.37 L153.68,382.39 L154.02,382.4 L154.35,382.42 L154.68,382.44 L155.02,382.46 L155.35,382.48 L155.69,382.51 L156.02,382.53 L156.35,382.56 L156.69,382.59 L157.02,382.62 L157.36,382.65 L157.69,382.68 L158.02,382.72 L158.36,382.76 L158.69,382.79 L159.02,382.83 L159.36,382.88 L159.69,382.92 L160.03,382.97 L160.36,383.02 L160.69,383.07 L161.03,383.12 L161.36,383.18 L161.7,383.24 L162.03,383.3 L162.36,383.36 L162.7,383.42 L163.03,383.49 L163.36,383.56 L163.7,383.63 L164.03,383.71 L164.37,383.79 L164.7,383.87" fill="none" stroke="#525f5f" stroke-width="1.25"/>
<path d="M31.5,293.95 L31.83,294.88 L32.17,295.81 L32.5,296.74 L32.84,297.67 L33.17,298.61 L33.5,299.54 L33.84,300.48 L34.17,301.42 L34.5,302.36 L34.84,303.3 L35.17,304.25 L35.51,305.19 L35.84,306.14 L36.17,307.08 L36.51,308.02 L36.84,308.97 L37.18,309.91 L37.51,310.86 L37.84,311.8 L38.18,312.75 L38.51,313.69 L38.84,314.63 L39.18,315.57 L39.51,316.51 L39.85,317.45 L40.18,318.38 L40.51,319.32 L40.85,320.25 L41.18,321.18 L41.52,322.11 L41.85,323.04 L42.18,323.96 L42.52,324.89 L42.85,325.81 L43.18,326.72 L43.52,327.64 L43.85,328.55 L44.19,329.45 L44.52,330.35 L44.85,331.25 L45.19,332.15 L45.52,333.04 L45.85,333.93 L46.19,334.81 L46.52,335.69 L46.86,336.56 L47.19,337.43 L47.52,338.3 L47.86,339.16 L48.19,340.01 L48.53,340.86 L48.86,341.7 L49.19,342.54 L49.53,343.37 L49.86,344.2 L50.19,345.02 L50.53,345.83 L50.86,346.64 L51.2,347.44 L51.53,348.23 L51.86,349.01 L52.2,349.79 L52.53,350.56 L52.87,351.33 L53.2,352.09 L53.53,352.83 L53.87,353.58 L54.2,354.31 L54.53,355.03 L54.87,355.75 L55.2,356.46 L55.54,357.16 L55.87,357.85 L56.2,358.53 L56.54,359.2 L56.87,359.86 L57.21,360.52 L57.54,361.16 L57.87,361.79 L58.21,362.42 L58.54,363.03 L58.87,363.63 L59.21,364.23 L59.54,364.81 L59.88,365.38 L60.21,365.94 L60.54,366.49 L60.88,367.03 L61.21,367.56 L61.55,368.08 L61.88,368.59 L62.21,369.09 L62.55,369.57 L62.88,370.05 L63.21,370.52 L63.55,370.98 L63.88,371.43 L64.22,371.86 L64.55,372.29 L64.88,372.71 L65.22,373.12 L65.55,373.52 L65.88,373.92 L66.22,374.3 L66.55,374.67 L66.89,375.04 L67.22,375.39 L67.55,375.74 L67.89,376.08 L68.22,376.41 L68.56,376.74 L68.89,377.05 L69.22,377.36 L69.56,377.66 L69.89,377.95 L70.22,378.24 L70.56,378.52 L70.89,378.79 L71.23,379.05 L71.56,379.3 L71.89,379.55 L72.23,379.79 L72.56,380.03 L72.9,380.26 L73.23,380.48 L73.56,380.69 L73.9,380.9 L74.23,381.1 L74.56,381.3 L74.9,381.49 L75.23,381.67 L75.57,381.85 L75.9,382.02 L76.23,382.19 L76.57,382.35 L76.9,382.51 L77.24,382.66 L77.57,382.81 L77.9,382.95 L78.24,383.09 L78.57,383.22 L78.9,383.34 L79.24,383.47 L79.57,383.58 L79.91,383.7 L80.24,383.81 L80.57,383.91 L80.91,384.01 L81.24,384.11 L81.58,384.2 L81.91,384.3 L82.24,384.38 L82.58,384.46 L82.91,384.54 L83.24,384.62 L83.58,384.69 L83.91,384.77 L84.25,384.8 L84.58,384.8 L84.91,384.8 L85.25,384.8 L85.58,384.8 L85.92,384.8 L86.25,384.8 L86.58,384.8 L86.92,384.8 L87.25,384.8 L87.58,384.8 L87.92,384.8 L88.25,384.8 L88.59,384.8 L88.92,384.8 L89.25,384.8 L89.59,384.8 L89.92,384.8 L90.25,384.8 L90.59,384.8 L90.92,384.8 L91.26,384.8 L91.59,384.8 L91.92,384.8 L92.26,384.8 L92.59,384.8 L92.93,384.8 L93.26,384.8 L93.59,384.8 L93.93,384.8 L94.26,384.8 L94.59,384.8 L94.93,384.8 L95.26,384.8 L95.6,384.8 L95.93,384.8 L96.26,384.8 L96.6,384.8 L96.93,384.8 L97.27,384.8 L97.6,384.8 L97.93,384.8 L98.27,384.8 L98.6,384.8 L98.93,384.8 L99.27,384.8 L99.6,384.8 L99.94,384.8 L100.27,384.8 L100.6,384.8 L100.94,384.8 L101.27,384.8 L101.61,384.8 L101.94,384.8 L102.27,384.8 L102.61,384.8 L102.94,384.8 L103.27,384.8 L103.61,384.8 L103.94,384.8 L104.28,384.8 L104.61,384.8 L104.94,384.8 L105.28,384.8 L105.61,384.8 L105.95,384.8 L106.28,384.8 L106.61,384.8 L106.95,384.8 L107.28,384.8 L107.61,384.8 L107.95,384.8 L108.28,384.8 L108.62,384.8 L108.95,384.8 L109.28,384.8 L109.62,384.8 L109.95,384.8 L110.28,384.8 L110.62,384.8 L110.95,384.8 L111.29,384.8 L111.62,384.8 L111.95,384.8 L112.29,384.8 L112.62,384.8 L112.96,384.8 L113.29,384.8 L113.62,384.8 L113.96,384.8 L114.29,384.8 L114.62,384.8 L114.96,384.8 L115.29,384.8 L115.63,384.8 L115.96,384.8 L116.29,384.8 L116.63,384.8 L116.96,384.8 L117.3,384.8 L117.63,384.8 L117.96,384.8 L118.3,384.8 L118.63,384.8 L118.96,384.8 L119.3,384.8 L119.63,384.8 L119.97,384.8 L120.3,384.8 L120.63,384.8 L120.97,384.8 L121.3,384.8 L121.64,384.8 L121.97,384.8 L122.3,384.8 L122.64,384.8 L122.97,384.8 L123.3,384.8 L123.64,384.8 L123.97,384.8 L124.31,384.8 L124.64,384.8 L124.97,384.8 L125.31,384.8 L125.64,384.8 L125.98,384.8 L126.31,384.8 L126.64,384.8 L126.98,384.8 L127.31,384.8 L127.64,384.8 L127.98,384.8 L128.31,384.8 L128.65,384.8 L128.98,384.8 L129.31,384.8 L129.65,384.8 L129.98,384.8 L130.32,384.8 L130.65,384.8 L130.98,384.8 L131.32,384.8 L131.65,384.8 L131.98,384.8 L132.32,384.8 L132.65,384.8 L132.99,384.8 L133.32,384.8 L133.65,384.8 L133.99,384.8 L134.32,384.8 L134.65,384.8 L134.99,384.8 L135.32,384.8 L135.66,384.8 L135.99,384.8 L136.32,384.8 L136.66,384.8 L136.99,384.8 L137.33,384.8 L137.66,384.8 L137.99,384.8 L138.33,384.8 L138.66,384.8 L138.99,384.8 L139.33,384.8 L139.66,384.8 L140,384.8 L140.33,384.8 L140.66,384.8 L141,384.8 L141.33,384.8 L141.67,384.8 L142,384.8 L142.33,384.8 L142.67,384.8 L143,384.8 L143.33,384.8 L143.67,384.8 L144,384.8 L144.34,384.8 L144.67,384.8 L145,384.8 L145.34,384.8 L145.67,384.8 L146.01,384.8 L146.34,384.8 L146.67,384.8 L147.01,384.8 L147.34,384.8 L147.67,384.8 L148.01,384.8 L148.34,384.8 L148.68,384.8 L149.01,384.8 L149.34,384.8 L149.68,384.8 L150.01,384.8 L150.35,384.8 L150.68,384.8 L151.01,384.8 L151.35,384.8 L151.68,384.8 L152.01,384.8 L152.35,384.8 L152.68,384.8 L153.02,384.8 L153.35,384.8 L153.68,384.8 L154.02,384.8 L154.35,384.8 L154.68,384.8 L155.02,384.8 L155.35,384.8 L155.69,384.8 L156.02,384.8 L156.35,384.8 L156.69,384.8 L157.02,384.8 L157.36,384.8 L157.69,384.8 L158.02,384.8 L158.36,384.8 L158.69,384.8 L159.02,384.8 L159.36,384.8 L159.69,384.8 L160.03,384.8 L160.36,384.8 L160.69,384.8 L161.03,384.8 L161.36,384.8 L161.7,384.8 L162.03,384.8 L162.36,384.8 L162.7,384.8 L163.03,384.8 L163.36,384.8 L163.7,384.8 L164.03,384.8 L164.37,384.8 L164.7,384.8" fill="none" stroke="#373f3f" stroke-width="1.25"/>
<path d="M31.5,307.33 L31.83,308.2 L32.17,309.06 L32.5,309.91 L32.84,310.77 L33.17,311.62 L33.5,312.46 L33.84,313.3 L34.17,314.14 L34.5,314.97 L34.84,315.79 L35.17,316.62 L35.51,317.44 L35.84,318.25 L36.17,319.06 L36.51,319.86 L36.84,320.67 L37.18,321.46 L37.51,322.25 L37.84,323.04 L38.18,323.82 L38.51,324.6 L38.84,325.38 L39.18,326.15 L39.51,326.91 L39.85,327.67 L40.18,328.43 L40.51,329.18 L40.85,329.92 L41.18,330.67 L41.52,331.4 L41.85,332.14 L42.18,332.86 L42.52,333.59 L42.85,334.3 L43.18,335.02 L43.52,335.73 L43.85,336.43 L44.19,337.13 L44.52,337.83 L44.85,338.52 L45.19,339.2 L45.52,339.88 L45.85,340.56 L46.19,341.23 L46.52,341.89 L46.86,342.55 L47.19,343.21 L47.52,343.86 L47.86,344.51 L48.19,345.15 L48.53,345.78 L48.86,346.42 L49.19,347.04 L49.53,347.66 L49.86,348.28 L50.19,348.89 L50.53,349.5 L50.86,350.1 L51.2,350.69 L51.53,351.28 L51.86,351.87 L52.2,352.45 L52.53,353.03 L52.87,353.6 L53.2,354.16 L53.53,354.72 L53.87,355.28 L54.2,355.83 L54.53,356.37 L54.87,356.91 L55.2,357.44 L55.54,357.97 L55.87,358.5 L56.2,359.01 L56.54,359.53 L56.87,360.03 L57.21,360.54 L57.54,361.03 L57.87,361.52 L58.21,362.01 L58.54,362.49 L58.87,362.97 L59.21,363.44 L59.54,363.9 L59.88,364.36 L60.21,364.81 L60.54,365.26 L60.88,365.7 L61.21,366.14 L61.55,366.57 L61.88,366.99 L62.21,367.41 L62.55,367.83 L62.88,368.24 L63.21,368.64 L63.55,369.04 L63.88,369.43 L64.22,369.82 L64.55,370.21 L64.88,370.58 L65.22,370.95 L65.55,371.32 L65.88,371.68 L66.22,372.04 L66.55,372.39 L66.89,372.74 L67.22,373.08 L67.55,373.42 L67.89,373.75 L68.22,374.08 L68.56,374.4 L68.89,374.72 L69.22,375.03 L69.56,375.34 L69.89,375.64 L70.22,375.94 L70.56,376.23 L70.89,376.52 L71.23,376.8 L71.56,377.08 L71.89,377.36 L72.23,377.63 L72.56,377.9 L72.9,378.16 L73.23,378.41 L73.56,378.67 L73.9,378.91 L74.23,379.16 L74.56,379.4 L74.9,379.63 L75.23,379.86 L75.57,380.09 L75.9,380.31 L76.23,380.53 L76.57,380.74 L76.9,380.95 L77.24,381.16 L77.57,381.36 L77.9,381.56 L78.24,381.75 L78.57,381.94 L78.9,382.13 L79.24,382.31 L79.57,382.49 L79.91,382.66 L80.24,382.83 L80.57,383 L80.91,383.16 L81.24,383.32 L81.58,383.47 L81.91,383.62 L82.24,383.77 L82.58,383.91 L82.91,384.06 L83.24,384.19 L83.58,384.33 L83.91,384.46 L84.25,384.58 L84.58,384.7 L84.91,384.8 L85.25,384.8 L85.58,384.8 L85.92,384.8 L86.25,384.8 L86.58,384.8 L86.92,384.8 L87.25,384.8 L87.58,384.8 L87.92,384.8 L88.25,384.8 L88.59,384.8 L88.92,384.8 L89.25,384.8 L89.59,384.8 L89.92,384.8 L90.25,384.8 L90.59,384.8 L90.92,384.8 L91.26,384.8 L91.59,384.8 L91.92,384.8 L92.26,384.8 L92.59,384.8 L92.93,384.8 L93.26,384.8 L93.59,384.8 L93.93,384.8 L94.26,384.8 L94.59,384.8 L94.93,384.8 L95.26,384.8 L95.6,384.8 L95.93,384.8 L96.26,384.8 L96.6,384.8 L96.93,384.8 L97.27,384.8 L97.6,384.8 L97.93,384.8 L98.27,384.8 L98.6,384.8 L98.93,384.8 L99.27,384.8 L99.6,384.8 L99.94,384.8 L100.27,384.8 L100.6,384.8 L100.94,384.8 L101.27,384.8 L101.61,384.8 L101.94,384.8 L102.27,384.8 L102.61,384.8 L102.94,384.8 L103.27,384.8 L103.61,384.8 L103.94,384.8 L104.28,384.8 L104.61,384.8 L104.94,384.8 L105.28,384.8 L105.61,384.8 L105.95,384.8 L106.28,384.8 L106.61,384.8 L106.95,384.8 L107.28,384.8 L107.61,384.8 L107.95,384.8 L108.28,384.8 L108.62,384.8 L108.95,384.8 L109.28,384.8 L109.62,384.8 L109.95,384.8 L110.28,384.8 L110.62,384.8 L110.95,384.8 L111.29,384.8 L111.62,384.8 L111.95,384.8 L112.29,384.8 L112.62,384.8 L112.96,384.8 L113.29,384.8 L113.62,384.8 L113.96,384.8 L114.29,384.8 L114.62,384.8 L114.96,384.8 L115.29,384.8 L115.63,384.8 L115.96,384.8 L116.29,384.8 L116.63,384.8 L116.96,384.8 L117.3,384.8 L117.63,384.8 L117.96,384.8 L118.3,384.8 L118.63,384.8 L118.96,384.8 L119.3,384.8 L119.63,384.8 L119.97,384.8 L120.3,384.8 L120.63,384.8 L120.97,384.8 L121.3,384.8 L121.64,384.8 L121.97,384.8 L122.3,384.8 L122.64,384.8 L122.97,384.8 L123.3,384.8 L123.64,384.8 L123.97,384.8 L124.31,384.8 L124.64,384.8 L124.97,384.8 L125.31,384.8 L125.64,384.8 L125.98,384.8 L126.31,384.8 L126.64,384.8 L126.98,384.8 L127.31,384.8 L127.64,384.8 L127.98,384.8 L128.31,384.8 L128.65,384.8 L128.98,384.8 L129.31,384.8 L129.65,384.8 L129.98,384.8 L130.32,384.8 L130.65,384.8 L130.98,384.8 L131.32,384.8 L131.65,384.8 L131.98,384.8 L132.32,384.8 L132.65,384.8 L132.99,384.8 L133.32,384.8 L133.65,384.8 L133.99,384.8 L134.32,384.8 L134.65,384.8 L134.99,384.8 L135.32,384.8 L135.66,384.8 L135.99,384.8 L136.32,384.8 L136.66,384.8 L136.99,384.8 L137.33,384.8 L137.66,384.8 L137.99,384.8 L138.33,384.8 L138.66,384.8 L138.99,384.8 L139.33,384.8 L139.66,384.8 L140,384.8 L140.33,384.8 L140.66,384.8 L141,384.8 L141.33,384.8 L141.67,384.8 L142,384.8 L142.33,384.8 L142.67,384.8 L143,384.8 L143.33,384.8 L143.67,384.8 L144,384.8 L144.34,384.8 L144.67,384.8 L145,384.8 L145.34,384.8 L145.67,384.8 L146.01,384.8 L146.34,384.8 L146.67,384.8 L147.01,384.8 L147.34,384.8 L147.67,384.8 L148.01,384.8 L148.34,384.8 L148.68,384.8 L149.01,384.8 L149.34,384.8 L149.68,384.8 L150.01,384.8 L150.35,384.8 L150.68,384.8 L151.01,384.8 L151.35,384.8 L151.68,384.8 L152.01,384.8 L152.35,384.8 L152.68,384.8 L153.02,384.8 L153.35,384.8 L153.68,384.8 L154.02,384.8 L154.35,384.8 L154.68,384.8 L155.02,384.8 L155.35,384.8 L155.69,384.8 L156.02,384.8 L156.35,384.8 L156.69,384.8 L157.02,384.8 L157.36,384.8 L157.69,384.8 L158.02,384.8 L158.36,384.8 L158.69,384.8 L159.02,384.8 L159.36,384.8 L159.69,384.8 L160.03,384.8 L160.36,384.8 L160.69,384.8 L161.03,384.8 L161.36,384.8 L161.7,384.8 L162.03,384.8 L162.36,384.8 L162.7,384.8 L163.03,384.8 L163.36,384.8 L163.7,384.8 L164.03,384.8 L164.37,384.8 L164.7,384.8" fill="none" stroke="#1c1f1f" stroke-width="1.25"/>
<line x1="56.8" y1="62.2" x2="62.3" y2="56" stroke="#222" stroke-width="0.6" />
<circle cx="56.8" cy="62.2" r="0.9" fill="#222"/>
<text x="62.5" y="57.3" font-size="8" text-anchor="start" fill="#444" font-weight="normal" font-family='"Liberation Serif", serif' >VII</text>
<line x1="51.9" y1="92.4" x2="58" y2="85.8" stroke="#222" stroke-width="0.6" />
<circle cx="51.9" cy="92.4" r="0.9" fill="#222"/>
<text x="58" y="87.7" font-size="8" text-anchor="start" fill="#444" font-weight="normal" font-family='"Liberation Serif", serif' >VI<tspan font-size="6" dy="-2.5">*</tspan></text>
<line x1="54.2" y1="124.9" x2="59.5" y2="119.2" stroke="#222" stroke-width="0.6" />
<circle cx="54.2" cy="124.9" r="0.9" fill="#222"/>
<text x="59.8" y="121.1" font-size="8" text-anchor="start" fill="#444" font-weight="normal" font-family='"Liberation Serif", serif' >V</text>
<line x1="46.9" y1="156.2" x2="52.2" y2="149.8" stroke="#222" stroke-width="0.6" />
<circle cx="46.9" cy="156.2" r="0.9" fill="#222"/>
<text x="52.3" y="151.2" font-size="8" text-anchor="start" fill="#444" font-weight="normal" font-family='"Liberation Serif", serif' >IV<tspan font-size="6" dy="-2.5">*</tspan></text>
<line x1="54" y1="227.6" x2="60.8" y2="221" stroke="#222" stroke-width="0.6" />
<circle cx="54" cy="227.6" r="0.9" fill="#222"/>
<text x="61.3" y="222.3" font-size="8" text-anchor="start" fill="#444" font-weight="normal" font-family='"Liberation Serif", serif' >III</text>
<line x1="52.5" y1="348" x2="58.3" y2="341.2" stroke="#222" stroke-width="0.6" />
<circle cx="52.5" cy="348" r="0.9" fill="#222"/>
<text x="58.6" y="342.1" font-size="8" text-anchor="start" fill="#444" font-weight="normal" font-family='"Liberation Serif", serif' >II</text>
<line x1="46.2" y1="358.3" x2="51.8" y2="353.8" stroke="#222" stroke-width="0.6" />
<text x="42.9" y="361" font-size="8" text-anchor="start" fill="#444" font-weight="normal" font-family='"Liberation Serif", serif' >I</text>
<text x="186.5" y="13.1" font-size="13" text-anchor="start" fill="#111" font-weight="bold" font-family='"Liberation Sans", sans-serif' >b</text>
<text x="300.5" y="13.7" font-size="12" text-anchor="middle" fill="#111" font-weight="bold" font-family='"Liberation Sans", sans-serif' >Modified de Gennes Percolation</text>
<defs><clipPath id="cin"><rect x="200" y="0" width="96.5" height="420"/></clipPath><clipPath id="cout"><rect x="296.5" y="0" width="40" height="420"/></clipPath>
<linearGradient id="fi0" gradientUnits="userSpaceOnUse" x1="238.5" x2="296.5" y1="0" y2="0"><stop offset="0" stop-color="#f59e35" stop-opacity="1"/><stop offset="1" stop-color="#f59e35" stop-opacity="0.50"/></linearGradient>
<linearGradient id="fo0" gradientUnits="userSpaceOnUse" x1="296.5" x2="325.3" y1="0" y2="0"><stop offset="0" stop-color="#f59e35" stop-opacity="0.27"/><stop offset="1" stop-color="#f59e35" stop-opacity="0.04"/></linearGradient>
<linearGradient id="fi1" gradientUnits="userSpaceOnUse" x1="257.9" x2="296.5" y1="0" y2="0"><stop offset="0" stop-color="#f59e35" stop-opacity="1"/><stop offset="1" stop-color="#f59e35" stop-opacity="0.66"/></linearGradient>
<linearGradient id="fo1" gradientUnits="userSpaceOnUse" x1="296.5" x2="325.3" y1="0" y2="0"><stop offset="0" stop-color="#f59e35" stop-opacity="0.34"/><stop offset="1" stop-color="#f59e35" stop-opacity="0.06"/></linearGradient>
<linearGradient id="fi2" gradientUnits="userSpaceOnUse" x1="277.5" x2="296.5" y1="0" y2="0"><stop offset="0" stop-color="#f59e35" stop-opacity="1"/><stop offset="1" stop-color="#f59e35" stop-opacity="0.83"/></linearGradient>
<linearGradient id="fo2" gradientUnits="userSpaceOnUse" x1="296.5" x2="325.3" y1="0" y2="0"><stop offset="0" stop-color="#f59e35" stop-opacity="0.42"/><stop offset="1" stop-color="#f59e35" stop-opacity="0.08"/></linearGradient>
</defs>
<path d="M238.57,79.96 L240.53,81.99 L242.48,84.01 L244.44,86.03 L246.41,88.05 L248.39,90.07 L250.37,92.07 L252.36,94.08 L254.36,96.07 L256.36,98.05 L258.38,100.02 L260.4,101.97 L262.43,103.91 L264.47,105.84 L266.51,107.76 L268.54,109.7 L270.56,111.67 L272.54,113.68 L274.5,115.75 L276.41,117.88 L278.31,120.03 L280.24,122.15 L282.25,124.14 L284.37,125.97 L286.65,127.54 L289.14,128.81 L291.79,129.76 L294.57,130.41 L297.43,130.76 L300.32,130.83 L303.19,130.6 L305.98,130.04 L308.65,129.13 L311.15,127.86 L313.49,126.28 L315.74,124.56 L317.99,122.85 L320.33,121.3 L322.84,120.06 L325.6,119.3 L325.6,172.8 L322.47,171.63 L319.44,170.27 L316.53,168.74 L313.71,167.04 L310.99,165.19 L308.36,163.21 L305.82,161.11 L303.36,158.91 L300.98,156.62 L298.68,154.24 L296.44,151.81 L294.27,149.33 L292.14,146.8 L290.06,144.25 L288.01,141.67 L285.98,139.08 L283.95,136.48 L281.92,133.89 L279.87,131.31 L277.81,128.74 L275.73,126.18 L273.65,123.63 L271.57,121.08 L269.48,118.53 L267.39,115.98 L265.31,113.43 L263.23,110.87 L261.15,108.31 L259.08,105.75 L257.01,103.19 L254.94,100.62 L252.88,98.05 L250.83,95.48 L248.77,92.9 L246.72,90.32 L244.68,87.74 L242.64,85.15 L240.61,82.56 L238.57,79.96Z" fill="url(#fi0)" clip-path="url(#cin)"/>
<path d="M238.57,79.96 L240.53,81.99 L242.48,84.01 L244.44,86.03 L246.41,88.05 L248.39,90.07 L250.37,92.07 L252.36,94.08 L254.36,96.07 L256.36,98.05 L258.38,100.02 L260.4,101.97 L262.43,103.91 L264.47,105.84 L266.51,107.76 L268.54,109.7 L270.56,111.67 L272.54,113.68 L274.5,115.75 L276.41,117.88 L278.31,120.03 L280.24,122.15 L282.25,124.14 L284.37,125.97 L286.65,127.54 L289.14,128.81 L291.79,129.76 L294.57,130.41 L297.43,130.76 L300.32,130.83 L303.19,130.6 L305.98,130.04 L308.65,129.13 L311.15,127.86 L313.49,126.28 L315.74,124.56 L317.99,122.85 L320.33,121.3 L322.84,120.06 L325.6,119.3 L325.6,172.8 L322.47,171.63 L319.44,170.27 L316.53,168.74 L313.71,167.04 L310.99,165.19 L308.36,163.21 L305.82,161.11 L303.36,158.91 L300.98,156.62 L298.68,154.24 L296.44,151.81 L294.27,149.33 L292.14,146.8 L290.06,144.25 L288.01,141.67 L285.98,139.08 L283.95,136.48 L281.92,133.89 L279.87,131.31 L277.81,128.74 L275.73,126.18 L273.65,123.63 L271.57,121.08 L269.48,118.53 L267.39,115.98 L265.31,113.43 L263.23,110.87 L261.15,108.31 L259.08,105.75 L257.01,103.19 L254.94,100.62 L252.88,98.05 L250.83,95.48 L248.77,92.9 L246.72,90.32 L244.68,87.74 L242.64,85.15 L240.61,82.56 L238.57,79.96Z" fill="url(#fo0)" clip-path="url(#cout)"/>
<path d="M257.85,130.6 L258.73,133.33 L259.6,136.1 L260.45,138.92 L261.29,141.77 L262.13,144.65 L262.98,147.55 L263.84,150.47 L264.72,153.39 L265.63,156.31 L266.57,159.22 L267.55,162.11 L268.59,164.98 L269.67,167.81 L270.82,170.61 L272.03,173.37 L273.33,176.07 L274.7,178.71 L276.16,181.28 L277.72,183.77 L279.38,186.18 L281.15,188.51 L283.04,190.73 L285.05,192.85 L287.19,194.87 L289.41,196.81 L291.69,198.71 L293.97,200.62 L296.23,202.57 L298.42,204.58 L300.62,206.59 L302.89,208.48 L305.34,210.14 L308.01,211.48 L310.86,212.42 L313.79,212.91 L316.75,212.92 L319.71,212.64 L322.66,212.26 L325.6,212 L325.6,268.4 L321.68,266.77 L318.35,264.56 L315.52,261.87 L313.08,258.8 L310.95,255.45 L309.02,251.92 L307.2,248.3 L305.39,244.69 L303.57,241.11 L301.75,237.56 L299.96,234.01 L298.2,230.45 L296.49,226.86 L294.84,223.23 L293.26,219.57 L291.73,215.88 L290.24,212.17 L288.8,208.44 L287.4,204.7 L286.03,200.95 L284.67,197.2 L283.33,193.44 L281.99,189.68 L280.65,185.93 L279.3,182.17 L277.94,178.42 L276.54,174.69 L275.12,170.96 L273.68,167.23 L272.21,163.52 L270.71,159.82 L269.19,156.13 L267.65,152.45 L266.08,148.78 L264.48,145.12 L262.86,141.48 L261.21,137.84 L259.54,134.21 L257.85,130.6Z" fill="url(#fi1)" clip-path="url(#cin)"/>
<path d="M257.85,130.6 L258.73,133.33 L259.6,136.1 L260.45,138.92 L261.29,141.77 L262.13,144.65 L262.98,147.55 L263.84,150.47 L264.72,153.39 L265.63,156.31 L266.57,159.22 L267.55,162.11 L268.59,164.98 L269.67,167.81 L270.82,170.61 L272.03,173.37 L273.33,176.07 L274.7,178.71 L276.16,181.28 L277.72,183.77 L279.38,186.18 L281.15,188.51 L283.04,190.73 L285.05,192.85 L287.19,194.87 L289.41,196.81 L291.69,198.71 L293.97,200.62 L296.23,202.57 L298.42,204.58 L300.62,206.59 L302.89,208.48 L305.34,210.14 L308.01,211.48 L310.86,212.42 L313.79,212.91 L316.75,212.92 L319.71,212.64 L322.66,212.26 L325.6,212 L325.6,268.4 L321.68,266.77 L318.35,264.56 L315.52,261.87 L313.08,258.8 L310.95,255.45 L309.02,251.92 L307.2,248.3 L305.39,244.69 L303.57,241.11 L301.75,237.56 L299.96,234.01 L298.2,230.45 L296.49,226.86 L294.84,223.23 L293.26,219.57 L291.73,215.88 L290.24,212.17 L288.8,208.44 L287.4,204.7 L286.03,200.95 L284.67,197.2 L283.33,193.44 L281.99,189.68 L280.65,185.93 L279.3,182.17 L277.94,178.42 L276.54,174.69 L275.12,170.96 L273.68,167.23 L272.21,163.52 L270.71,159.82 L269.19,156.13 L267.65,152.45 L266.08,148.78 L264.48,145.12 L262.86,141.48 L261.21,137.84 L259.54,134.21 L257.85,130.6Z" fill="url(#fo1)" clip-path="url(#cout)"/>
<path d="M277.12,305.25 L278,306.34 L278.89,307.49 L279.8,308.68 L280.73,309.9 L281.69,311.14 L282.67,312.39 L283.68,313.64 L284.72,314.87 L285.8,316.07 L286.91,317.23 L288.06,318.35 L289.25,319.4 L290.49,320.38 L291.78,321.27 L293.11,322.07 L294.5,322.76 L295.94,323.33 L297.44,323.77 L298.99,324.07 L300.57,324.22 L302.15,324.22 L303.71,324.06 L305.23,323.74 L306.69,323.25 L308.09,322.6 L309.42,321.81 L310.7,320.91 L311.92,319.91 L313.09,318.84 L314.22,317.7 L315.31,316.53 L316.37,315.36 L317.44,314.22 L318.55,313.15 L319.72,312.2 L320.99,311.39 L322.37,310.79 L323.9,310.41 L325.6,310.3 L325.6,363.4 L323.83,362.41 L322.05,361.44 L320.26,360.48 L318.47,359.52 L316.69,358.55 L314.9,357.58 L313.12,356.6 L311.36,355.6 L309.61,354.57 L307.88,353.51 L306.17,352.41 L304.49,351.27 L302.84,350.09 L301.22,348.85 L299.65,347.57 L298.12,346.23 L296.64,344.84 L295.21,343.4 L293.84,341.9 L292.52,340.36 L291.26,338.76 L290.05,337.13 L288.89,335.45 L287.78,333.73 L286.73,331.98 L285.72,330.19 L284.77,328.38 L283.87,326.54 L283.01,324.67 L282.21,322.78 L281.45,320.87 L280.75,318.95 L280.09,317.01 L279.48,315.06 L278.92,313.1 L278.4,311.14 L277.93,309.18 L277.5,307.21 L277.12,305.25Z" fill="url(#fi2)" clip-path="url(#cin)"/>
<path d="M277.12,305.25 L278,306.34 L278.89,307.49 L279.8,308.68 L280.73,309.9 L281.69,311.14 L282.67,312.39 L283.68,313.64 L284.72,314.87 L285.8,316.07 L286.91,317.23 L288.06,318.35 L289.25,319.4 L290.49,320.38 L291.78,321.27 L293.11,322.07 L294.5,322.76 L295.94,323.33 L297.44,323.77 L298.99,324.07 L300.57,324.22 L302.15,324.22 L303.71,324.06 L305.23,323.74 L306.69,323.25 L308.09,322.6 L309.42,321.81 L310.7,320.91 L311.92,319.91 L313.09,318.84 L314.22,317.7 L315.31,316.53 L316.37,315.36 L317.44,314.22 L318.55,313.15 L319.72,312.2 L320.99,311.39 L322.37,310.79 L323.9,310.41 L325.6,310.3 L325.6,363.4 L323.83,362.41 L322.05,361.44 L320.26,360.48 L318.47,359.52 L316.69,358.55 L314.9,357.58 L313.12,356.6 L311.36,355.6 L309.61,354.57 L307.88,353.51 L306.17,352.41 L304.49,351.27 L302.84,350.09 L301.22,348.85 L299.65,347.57 L298.12,346.23 L296.64,344.84 L295.21,343.4 L293.84,341.9 L292.52,340.36 L291.26,338.76 L290.05,337.13 L288.89,335.45 L287.78,333.73 L286.73,331.98 L285.72,330.19 L284.77,328.38 L283.87,326.54 L283.01,324.67 L282.21,322.78 L281.45,320.87 L280.75,318.95 L280.09,317.01 L279.48,315.06 L278.92,313.1 L278.4,311.14 L277.93,309.18 L277.5,307.21 L277.12,305.25Z" fill="url(#fo2)" clip-path="url(#cout)"/>
<rect x="219.3" y="41.0" width="77.09999999999997" height="343.0" fill="none" stroke="#444" stroke-width="0.9"/>
<line x1="238.57" y1="384" x2="238.57" y2="382.4" stroke="#444" stroke-width="0.8" />
<line x1="238.57" y1="41" x2="238.57" y2="42.6" stroke="#444" stroke-width="0.8" />
<line x1="257.85" y1="384" x2="257.85" y2="382.4" stroke="#444" stroke-width="0.8" />
<line x1="257.85" y1="41" x2="257.85" y2="42.6" stroke="#444" stroke-width="0.8" />
<line x1="277.12" y1="384" x2="277.12" y2="382.4" stroke="#444" stroke-width="0.8" />
<line x1="277.12" y1="41" x2="277.12" y2="42.6" stroke="#444" stroke-width="0.8" />
<text x="216.8" y="386.8" font-size="7.8" text-anchor="end" fill="#333" font-weight="normal" font-family='"Liberation Sans", sans-serif' >0</text>
<line x1="219.3" y1="352.82" x2="221.5" y2="352.82" stroke="#444" stroke-width="0.8" />
<line x1="296.4" y1="352.82" x2="294.2" y2="352.82" stroke="#444" stroke-width="0.8" />
<text x="216.8" y="355.62" font-size="7.8" text-anchor="end" fill="#333" font-weight="normal" font-family='"Liberation Sans", sans-serif' >200</text>
<line x1="219.3" y1="321.64" x2="221.5" y2="321.64" stroke="#444" stroke-width="0.8" />
<line x1="296.4" y1="321.64" x2="294.2" y2="321.64" stroke="#444" stroke-width="0.8" />
<text x="216.8" y="324.44" font-size="7.8" text-anchor="end" fill="#333" font-weight="normal" font-family='"Liberation Sans", sans-serif' >400</text>
<line x1="219.3" y1="290.45" x2="221.5" y2="290.45" stroke="#444" stroke-width="0.8" />
<line x1="296.4" y1="290.45" x2="294.2" y2="290.45" stroke="#444" stroke-width="0.8" />
<text x="216.8" y="293.25" font-size="7.8" text-anchor="end" fill="#333" font-weight="normal" font-family='"Liberation Sans", sans-serif' >600</text>
<line x1="219.3" y1="259.27" x2="221.5" y2="259.27" stroke="#444" stroke-width="0.8" />
<line x1="296.4" y1="259.27" x2="294.2" y2="259.27" stroke="#444" stroke-width="0.8" />
<text x="216.8" y="262.07" font-size="7.8" text-anchor="end" fill="#333" font-weight="normal" font-family='"Liberation Sans", sans-serif' >800</text>
<line x1="219.3" y1="228.09" x2="221.5" y2="228.09" stroke="#444" stroke-width="0.8" />
<line x1="296.4" y1="228.09" x2="294.2" y2="228.09" stroke="#444" stroke-width="0.8" />
<text x="216.8" y="230.89" font-size="7.8" text-anchor="end" fill="#333" font-weight="normal" font-family='"Liberation Sans", sans-serif' >1000</text>
<line x1="219.3" y1="196.91" x2="221.5" y2="196.91" stroke="#444" stroke-width="0.8" />
<line x1="296.4" y1="196.91" x2="294.2" y2="196.91" stroke="#444" stroke-width="0.8" />
<text x="216.8" y="199.71" font-size="7.8" text-anchor="end" fill="#333" font-weight="normal" font-family='"Liberation Sans", sans-serif' >1200</text>
<line x1="219.3" y1="165.73" x2="221.5" y2="165.73" stroke="#444" stroke-width="0.8" />
<line x1="296.4" y1="165.73" x2="294.2" y2="165.73" stroke="#444" stroke-width="0.8" />
<text x="216.8" y="168.53" font-size="7.8" text-anchor="end" fill="#333" font-weight="normal" font-family='"Liberation Sans", sans-serif' >1400</text>
<line x1="219.3" y1="134.55" x2="221.5" y2="134.55" stroke="#444" stroke-width="0.8" />
<line x1="296.4" y1="134.55" x2="294.2" y2="134.55" stroke="#444" stroke-width="0.8" />
<text x="216.8" y="137.35" font-size="7.8" text-anchor="end" fill="#333" font-weight="normal" font-family='"Liberation Sans", sans-serif' >1600</text>
<line x1="219.3" y1="103.36" x2="221.5" y2="103.36" stroke="#444" stroke-width="0.8" />
<line x1="296.4" y1="103.36" x2="294.2" y2="103.36" stroke="#444" stroke-width="0.8" />
<text x="216.8" y="106.16" font-size="7.8" text-anchor="end" fill="#333" font-weight="normal" font-family='"Liberation Sans", sans-serif' >1800</text>
<line x1="219.3" y1="72.18" x2="221.5" y2="72.18" stroke="#444" stroke-width="0.8" />
<line x1="296.4" y1="72.18" x2="294.2" y2="72.18" stroke="#444" stroke-width="0.8" />
<text x="216.8" y="74.98" font-size="7.8" text-anchor="end" fill="#333" font-weight="normal" font-family='"Liberation Sans", sans-serif' >2000</text>
<text x="216.8" y="43.8" font-size="7.8" text-anchor="end" fill="#333" font-weight="normal" font-family='"Liberation Sans", sans-serif' >2200</text>
<text x="217.9" y="396.2" font-size="8.4" text-anchor="middle" fill="#333" font-family='"Liberation Sans", sans-serif'>10<tspan font-size="6.7" dy="-3.8">-10</tspan></text>
<text x="257.55" y="396.2" font-size="8.4" text-anchor="middle" fill="#333" font-family='"Liberation Sans", sans-serif'>10<tspan font-size="6.7" dy="-3.8">0</tspan></text>
<text x="296.4" y="396.2" font-size="8.4" text-anchor="middle" fill="#333" font-family='"Liberation Sans", sans-serif'>10<tspan font-size="6.7" dy="-3.8">10</tspan></text>
<text x="257.5" y="407.1" font-size="8" text-anchor="middle" fill="#333" font-family='"Liberation Sans", sans-serif'>Time <tspan font-style="italic">t</tspan> [s]</text>
<text transform="translate(195.8,212.5) rotate(-90)" font-size="8" text-anchor="middle" fill="#333" font-family='"Liberation Sans", sans-serif'>Storage Modulus <tspan font-style="italic">E'</tspan> [MPa]</text>
<text x="294.7" y="50.8" font-size="7.8" text-anchor="end" fill="#333" font-family='"Liberation Sans", sans-serif'><tspan font-style="italic">T</tspan> = 22°C</text>
<path d="M219.3,58.17 L219.56,58.31 L219.82,58.46 L220.07,58.61 L220.33,58.76 L220.59,58.92 L220.85,59.08 L221.11,59.24 L221.36,59.41 L221.62,59.58 L221.88,59.76 L222.14,59.94 L222.39,60.12 L222.65,60.31 L222.91,60.5 L223.17,60.69 L223.43,60.89 L223.68,61.09 L223.94,61.3 L224.2,61.51 L224.46,61.72 L224.72,61.94 L224.97,62.16 L225.23,62.39 L225.49,62.62 L225.75,62.85 L226,63.09 L226.26,63.33 L226.52,63.57 L226.78,63.82 L227.04,64.08 L227.29,64.34 L227.55,64.6 L227.81,64.87 L228.07,65.14 L228.33,65.41 L228.58,65.69 L228.84,65.97 L229.1,66.26 L229.36,66.55 L229.61,66.85 L229.87,67.15 L230.13,67.46 L230.39,67.76 L230.65,68.08 L230.9,68.4 L231.16,68.72 L231.42,69.05 L231.68,69.38 L231.94,69.71 L232.19,70.05 L232.45,70.4 L232.71,70.75 L232.97,71.1 L233.22,71.46 L233.48,71.82 L233.74,72.19 L234,72.56 L234.26,72.94 L234.51,73.32 L234.77,73.71 L235.03,74.1 L235.29,74.49 L235.55,74.9 L235.8,75.3 L236.06,75.71 L236.32,76.13 L236.58,76.55 L236.83,76.97 L237.09,77.4 L237.35,77.83 L237.61,78.27 L237.87,78.72 L238.12,79.17 L238.38,79.62 L238.64,80.08 L238.9,80.54 L239.16,81.01 L239.41,81.48 L239.67,81.96 L239.93,82.45 L240.19,82.94 L240.44,83.43 L240.7,83.93 L240.96,84.43 L241.22,84.94 L241.48,85.46 L241.73,85.98 L241.99,86.5 L242.25,87.03 L242.51,87.57 L242.77,88.11 L243.02,88.66 L243.28,89.21 L243.54,89.77 L243.8,90.33 L244.05,90.9 L244.31,91.47 L244.57,92.05 L244.83,92.63 L245.09,93.22 L245.34,93.81 L245.6,94.41 L245.86,95.02 L246.12,95.63 L246.38,96.25 L246.63,96.87 L246.89,97.5 L247.15,98.13 L247.41,98.77 L247.66,99.42 L247.92,100.07 L248.18,100.72 L248.44,101.38 L248.7,102.05 L248.95,102.72 L249.21,103.4 L249.47,104.09 L249.73,104.78 L249.99,105.47 L250.24,106.18 L250.5,106.88 L250.76,107.6 L251.02,108.32 L251.27,109.04 L251.53,109.77 L251.79,110.51 L252.05,111.26 L252.31,112 L252.56,112.76 L252.82,113.52 L253.08,114.29 L253.34,115.06 L253.6,115.84 L253.85,116.63 L254.11,117.43 L254.37,118.24 L254.63,119.06 L254.88,119.89 L255.14,120.74 L255.4,121.6 L255.66,122.47 L255.92,123.36 L256.17,124.26 L256.43,125.18 L256.69,126.12 L256.95,127.08 L257.21,128.06 L257.46,129.06 L257.72,130.08 L257.98,131.13 L258.24,132.19 L258.49,133.28 L258.75,134.4 L259.01,135.54 L259.27,136.71 L259.53,137.91 L259.78,139.14 L260.04,140.39 L260.3,141.68 L260.56,143 L260.82,144.35 L261.07,145.73 L261.33,147.15 L261.59,148.6 L261.85,150.09 L262.1,151.61 L262.36,153.18 L262.62,154.78 L262.88,156.42 L263.14,158.1 L263.39,159.82 L263.65,161.58 L263.91,163.39 L264.17,165.24 L264.43,167.14 L264.68,169.08 L264.94,171.06 L265.2,173.1 L265.46,175.18 L265.71,177.31 L265.97,179.5 L266.23,181.73 L266.49,184.01 L266.75,186.35 L267,188.74 L267.26,191.19 L267.52,193.69 L267.78,196.25 L268.04,198.86 L268.29,201.53 L268.55,204.27 L268.81,207.06 L269.07,209.91 L269.32,212.82 L269.58,215.8 L269.84,218.84 L270.1,221.95 L270.36,225.12 L270.61,228.36 L270.87,231.68 L271.13,235.06 L271.39,238.52 L271.65,242.06 L271.9,245.67 L272.16,249.35 L272.42,253.07 L272.68,256.8 L272.93,260.49 L273.19,264.11 L273.45,267.63 L273.71,271.01 L273.97,274.23 L274.22,277.31 L274.48,280.24 L274.74,283.05 L275,285.74 L275.26,288.34 L275.51,290.84 L275.77,293.27 L276.03,295.64 L276.29,297.95 L276.54,300.22 L276.8,302.47 L277.06,304.7 L277.32,306.91 L277.58,309.11 L277.83,311.29 L278.09,313.44 L278.35,315.57 L278.61,317.66 L278.87,319.72 L279.12,321.74 L279.38,323.71 L279.64,325.64 L279.9,327.53 L280.15,329.36 L280.41,331.15 L280.67,332.89 L280.93,334.59 L281.19,336.24 L281.44,337.85 L281.7,339.42 L281.96,340.94 L282.22,342.43 L282.48,343.87 L282.73,345.27 L282.99,346.63 L283.25,347.96 L283.51,349.25 L283.76,350.5 L284.02,351.71 L284.28,352.89 L284.54,354.03 L284.8,355.14 L285.05,356.22 L285.31,357.26 L285.57,358.27 L285.83,359.25 L286.09,360.2 L286.34,361.12 L286.6,362.01 L286.86,362.87 L287.12,363.71 L287.37,364.52 L287.63,365.3 L287.89,366.05 L288.15,366.79 L288.41,367.49 L288.66,368.18 L288.92,368.84 L289.18,369.48 L289.44,370.1 L289.7,370.7 L289.95,371.27 L290.21,371.83 L290.47,372.38 L290.73,372.9 L290.98,373.41 L291.24,373.9 L291.5,374.38 L291.76,374.84 L292.02,375.28 L292.27,375.72 L292.53,376.14 L292.79,376.55 L293.05,376.95 L293.31,377.34 L293.56,377.72 L293.82,378.09 L294.08,378.46 L294.34,378.81 L294.59,379.16 L294.85,379.5 L295.11,379.84 L295.37,380.18 L295.63,380.51 L295.88,380.83 L296.14,381.16 L296.4,381.48" fill="none" stroke="#bddfdf" stroke-width="1.1"/>
<path d="M219.3,104.71 L219.56,105.15 L219.82,105.6 L220.07,106.05 L220.33,106.51 L220.59,106.98 L220.85,107.45 L221.11,107.92 L221.36,108.4 L221.62,108.89 L221.88,109.38 L222.14,109.87 L222.39,110.38 L222.65,110.89 L222.91,111.4 L223.17,111.92 L223.43,112.45 L223.68,112.98 L223.94,113.51 L224.2,114.06 L224.46,114.61 L224.72,115.16 L224.97,115.72 L225.23,116.29 L225.49,116.86 L225.75,117.44 L226,118.02 L226.26,118.61 L226.52,119.21 L226.78,119.81 L227.04,120.42 L227.29,121.03 L227.55,121.65 L227.81,122.28 L228.07,122.91 L228.33,123.55 L228.58,124.19 L228.84,124.85 L229.1,125.5 L229.36,126.17 L229.61,126.84 L229.87,127.51 L230.13,128.19 L230.39,128.88 L230.65,129.58 L230.9,130.28 L231.16,130.98 L231.42,131.7 L231.68,132.42 L231.94,133.15 L232.19,133.88 L232.45,134.62 L232.71,135.36 L232.97,136.12 L233.22,136.87 L233.48,137.64 L233.74,138.41 L234,139.19 L234.26,139.98 L234.51,140.77 L234.77,141.57 L235.03,142.37 L235.29,143.18 L235.55,144 L235.8,144.83 L236.06,145.66 L236.32,146.5 L236.58,147.34 L236.83,148.2 L237.09,149.06 L237.35,149.92 L237.61,150.8 L237.87,151.68 L238.12,152.56 L238.38,153.46 L238.64,154.36 L238.9,155.26 L239.16,156.18 L239.41,157.1 L239.67,158.03 L239.93,158.97 L240.19,159.91 L240.44,160.86 L240.7,161.82 L240.96,162.78 L241.22,163.75 L241.48,164.73 L241.73,165.72 L241.99,166.71 L242.25,167.71 L242.51,168.72 L242.77,169.73 L243.02,170.75 L243.28,171.78 L243.54,172.82 L243.8,173.86 L244.05,174.92 L244.31,175.98 L244.57,177.04 L244.83,178.12 L245.09,179.2 L245.34,180.29 L245.6,181.38 L245.86,182.49 L246.12,183.6 L246.38,184.72 L246.63,185.84 L246.89,186.98 L247.15,188.12 L247.41,189.27 L247.66,190.43 L247.92,191.59 L248.18,192.76 L248.44,193.94 L248.7,195.13 L248.95,196.33 L249.21,197.53 L249.47,198.74 L249.73,199.96 L249.99,201.19 L250.24,202.43 L250.5,203.67 L250.76,204.92 L251.02,206.18 L251.27,207.45 L251.53,208.72 L251.79,210.01 L252.05,211.3 L252.31,212.6 L252.56,213.9 L252.82,215.22 L253.08,216.54 L253.34,217.87 L253.6,219.21 L253.85,220.56 L254.11,221.92 L254.37,223.28 L254.63,224.65 L254.88,226.03 L255.14,227.42 L255.4,228.82 L255.66,230.23 L255.92,231.64 L256.17,233.06 L256.43,234.49 L256.69,235.93 L256.95,237.38 L257.21,238.84 L257.46,240.3 L257.72,241.77 L257.98,243.26 L258.24,244.75 L258.49,246.24 L258.75,247.75 L259.01,249.27 L259.27,250.79 L259.53,252.32 L259.78,253.87 L260.04,255.42 L260.3,256.98 L260.56,258.54 L260.82,260.12 L261.07,261.71 L261.33,263.3 L261.59,264.9 L261.85,266.51 L262.1,268.13 L262.36,269.76 L262.62,271.4 L262.88,273.05 L263.14,274.71 L263.39,276.37 L263.65,278.04 L263.91,279.72 L264.17,281.41 L264.43,283.1 L264.68,284.8 L264.94,286.5 L265.2,288.21 L265.46,289.91 L265.71,291.62 L265.97,293.33 L266.23,295.03 L266.49,296.74 L266.75,298.44 L267,300.13 L267.26,301.83 L267.52,303.51 L267.78,305.19 L268.04,306.87 L268.29,308.53 L268.55,310.19 L268.81,311.83 L269.07,313.47 L269.32,315.09 L269.58,316.7 L269.84,318.29 L270.1,319.87 L270.36,321.43 L270.61,322.98 L270.87,324.51 L271.13,326.02 L271.39,327.51 L271.65,328.98 L271.9,330.43 L272.16,331.87 L272.42,333.28 L272.68,334.67 L272.93,336.04 L273.19,337.39 L273.45,338.72 L273.71,340.03 L273.97,341.31 L274.22,342.57 L274.48,343.82 L274.74,345.03 L275,346.23 L275.26,347.4 L275.51,348.55 L275.77,349.67 L276.03,350.77 L276.29,351.85 L276.54,352.9 L276.8,353.92 L277.06,354.93 L277.32,355.9 L277.58,356.85 L277.83,357.77 L278.09,358.67 L278.35,359.55 L278.61,360.4 L278.87,361.22 L279.12,362.02 L279.38,362.8 L279.64,363.55 L279.9,364.29 L280.15,365 L280.41,365.69 L280.67,366.35 L280.93,367 L281.19,367.62 L281.44,368.23 L281.7,368.81 L281.96,369.38 L282.22,369.93 L282.48,370.45 L282.73,370.96 L282.99,371.46 L283.25,371.93 L283.51,372.39 L283.76,372.83 L284.02,373.25 L284.28,373.66 L284.54,374.05 L284.8,374.43 L285.05,374.79 L285.31,375.14 L285.57,375.48 L285.83,375.8 L286.09,376.11 L286.34,376.4 L286.6,376.69 L286.86,376.96 L287.12,377.22 L287.37,377.47 L287.63,377.71 L287.89,377.93 L288.15,378.15 L288.41,378.36 L288.66,378.56 L288.92,378.75 L289.18,378.93 L289.44,379.1 L289.7,379.27 L289.95,379.43 L290.21,379.58 L290.47,379.73 L290.73,379.87 L290.98,380 L291.24,380.13 L291.5,380.25 L291.76,380.37 L292.02,380.49 L292.27,380.6 L292.53,380.71 L292.79,380.82 L293.05,380.92 L293.31,381.02 L293.56,381.12 L293.82,381.22 L294.08,381.31 L294.34,381.41 L294.59,381.51 L294.85,381.61 L295.11,381.7 L295.37,381.8 L295.63,381.9 L295.88,382.01 L296.14,382.11 L296.4,382.22" fill="none" stroke="#879f9f" stroke-width="1.1"/>
<path d="M219.3,174.33 L219.56,175.07 L219.82,175.84 L220.07,176.63 L220.33,177.44 L220.59,178.27 L220.85,179.13 L221.11,180 L221.36,180.9 L221.62,181.81 L221.88,182.75 L222.14,183.7 L222.39,184.68 L222.65,185.67 L222.91,186.68 L223.17,187.71 L223.43,188.76 L223.68,189.82 L223.94,190.9 L224.2,192 L224.46,193.11 L224.72,194.25 L224.97,195.39 L225.23,196.56 L225.49,197.73 L225.75,198.93 L226,200.13 L226.26,201.35 L226.52,202.59 L226.78,203.84 L227.04,205.1 L227.29,206.37 L227.55,207.66 L227.81,208.96 L228.07,210.27 L228.33,211.59 L228.58,212.93 L228.84,214.27 L229.1,215.63 L229.36,216.99 L229.61,218.37 L229.87,219.76 L230.13,221.15 L230.39,222.55 L230.65,223.97 L230.9,225.39 L231.16,226.81 L231.42,228.25 L231.68,229.69 L231.94,231.14 L232.19,232.6 L232.45,234.06 L232.71,235.53 L232.97,237 L233.22,238.48 L233.48,239.97 L233.74,241.46 L234,242.95 L234.26,244.45 L234.51,245.95 L234.77,247.45 L235.03,248.96 L235.29,250.47 L235.55,251.98 L235.8,253.5 L236.06,255.01 L236.32,256.53 L236.58,258.05 L236.83,259.57 L237.09,261.09 L237.35,262.61 L237.61,264.12 L237.87,265.64 L238.12,267.16 L238.38,268.68 L238.64,270.19 L238.9,271.7 L239.16,273.21 L239.41,274.72 L239.67,276.22 L239.93,277.72 L240.19,279.22 L240.44,280.72 L240.7,282.2 L240.96,283.69 L241.22,285.17 L241.48,286.64 L241.73,288.11 L241.99,289.57 L242.25,291.03 L242.51,292.48 L242.77,293.92 L243.02,295.36 L243.28,296.79 L243.54,298.21 L243.8,299.62 L244.05,301.02 L244.31,302.42 L244.57,303.8 L244.83,305.18 L245.09,306.54 L245.34,307.9 L245.6,309.24 L245.86,310.58 L246.12,311.9 L246.38,313.21 L246.63,314.51 L246.89,315.8 L247.15,317.07 L247.41,318.34 L247.66,319.58 L247.92,320.82 L248.18,322.04 L248.44,323.25 L248.7,324.44 L248.95,325.62 L249.21,326.78 L249.47,327.93 L249.73,329.06 L249.99,330.17 L250.24,331.27 L250.5,332.36 L250.76,333.42 L251.02,334.48 L251.27,335.51 L251.53,336.53 L251.79,337.54 L252.05,338.53 L252.31,339.5 L252.56,340.47 L252.82,341.41 L253.08,342.34 L253.34,343.26 L253.6,344.16 L253.85,345.05 L254.11,345.92 L254.37,346.78 L254.63,347.63 L254.88,348.46 L255.14,349.27 L255.4,350.08 L255.66,350.87 L255.92,351.65 L256.17,352.41 L256.43,353.16 L256.69,353.9 L256.95,354.62 L257.21,355.33 L257.46,356.03 L257.72,356.72 L257.98,357.39 L258.24,358.05 L258.49,358.7 L258.75,359.34 L259.01,359.96 L259.27,360.57 L259.53,361.17 L259.78,361.76 L260.04,362.34 L260.3,362.91 L260.56,363.46 L260.82,364.01 L261.07,364.54 L261.33,365.06 L261.59,365.57 L261.85,366.07 L262.1,366.56 L262.36,367.04 L262.62,367.51 L262.88,367.96 L263.14,368.41 L263.39,368.85 L263.65,369.28 L263.91,369.69 L264.17,370.1 L264.43,370.5 L264.68,370.89 L264.94,371.27 L265.2,371.64 L265.46,372 L265.71,372.35 L265.97,372.7 L266.23,373.03 L266.49,373.36 L266.75,373.67 L267,373.98 L267.26,374.28 L267.52,374.57 L267.78,374.86 L268.04,375.13 L268.29,375.4 L268.55,375.66 L268.81,375.92 L269.07,376.16 L269.32,376.4 L269.58,376.63 L269.84,376.85 L270.1,377.07 L270.36,377.28 L270.61,377.48 L270.87,377.68 L271.13,377.87 L271.39,378.05 L271.65,378.22 L271.9,378.39 L272.16,378.56 L272.42,378.72 L272.68,378.87 L272.93,379.01 L273.19,379.16 L273.45,379.29 L273.71,379.42 L273.97,379.54 L274.22,379.66 L274.48,379.78 L274.74,379.89 L275,379.99 L275.26,380.09 L275.51,380.18 L275.77,380.27 L276.03,380.36 L276.29,380.44 L276.54,380.52 L276.8,380.59 L277.06,380.66 L277.32,380.73 L277.58,380.79 L277.83,380.85 L278.09,380.9 L278.35,380.95 L278.61,381 L278.87,381.04 L279.12,381.09 L279.38,381.13 L279.64,381.16 L279.9,381.2 L280.15,381.23 L280.41,381.25 L280.67,381.28 L280.93,381.31 L281.19,381.33 L281.44,381.35 L281.7,381.37 L281.96,381.38 L282.22,381.4 L282.48,381.41 L282.73,381.42 L282.99,381.43 L283.25,381.44 L283.51,381.45 L283.76,381.46 L284.02,381.46 L284.28,381.47 L284.54,381.48 L284.8,381.48 L285.05,381.49 L285.31,381.49 L285.57,381.49 L285.83,381.5 L286.09,381.5 L286.34,381.51 L286.6,381.51 L286.86,381.52 L287.12,381.52 L287.37,381.53 L287.63,381.54 L287.89,381.55 L288.15,381.56 L288.41,381.57 L288.66,381.58 L288.92,381.59 L289.18,381.61 L289.44,381.62 L289.7,381.64 L289.95,381.66 L290.21,381.68 L290.47,381.71 L290.73,381.73 L290.98,381.76 L291.24,381.79 L291.5,381.83 L291.76,381.86 L292.02,381.9 L292.27,381.94 L292.53,381.99 L292.79,382.04 L293.05,382.09 L293.31,382.14 L293.56,382.2 L293.82,382.26 L294.08,382.33 L294.34,382.4 L294.59,382.47 L294.85,382.55 L295.11,382.63 L295.37,382.71 L295.63,382.8 L295.88,382.9 L296.14,383 L296.4,383.1" fill="none" stroke="#525f5f" stroke-width="1.1"/>
<path d="M219.3,309.14 L219.56,310.26 L219.82,311.37 L220.07,312.47 L220.33,313.56 L220.59,314.65 L220.85,315.72 L221.11,316.8 L221.36,317.86 L221.62,318.92 L221.88,319.96 L222.14,321 L222.39,322.04 L222.65,323.06 L222.91,324.08 L223.17,325.09 L223.43,326.1 L223.68,327.09 L223.94,328.08 L224.2,329.06 L224.46,330.03 L224.72,330.99 L224.97,331.95 L225.23,332.89 L225.49,333.83 L225.75,334.76 L226,335.69 L226.26,336.6 L226.52,337.51 L226.78,338.41 L227.04,339.3 L227.29,340.18 L227.55,341.05 L227.81,341.92 L228.07,342.78 L228.33,343.63 L228.58,344.47 L228.84,345.3 L229.1,346.12 L229.36,346.94 L229.61,347.74 L229.87,348.54 L230.13,349.33 L230.39,350.11 L230.65,350.88 L230.9,351.64 L231.16,352.4 L231.42,353.14 L231.68,353.88 L231.94,354.61 L232.19,355.32 L232.45,356.03 L232.71,356.73 L232.97,357.43 L233.22,358.11 L233.48,358.78 L233.74,359.45 L234,360.1 L234.26,360.75 L234.51,361.38 L234.77,362.01 L235.03,362.63 L235.29,363.24 L235.55,363.84 L235.8,364.43 L236.06,365.01 L236.32,365.58 L236.58,366.14 L236.83,366.69 L237.09,367.23 L237.35,367.76 L237.61,368.29 L237.87,368.8 L238.12,369.31 L238.38,369.8 L238.64,370.29 L238.9,370.77 L239.16,371.24 L239.41,371.7 L239.67,372.15 L239.93,372.6 L240.19,373.03 L240.44,373.46 L240.7,373.88 L240.96,374.29 L241.22,374.69 L241.48,375.08 L241.73,375.46 L241.99,375.84 L242.25,376.21 L242.51,376.57 L242.77,376.92 L243.02,377.27 L243.28,377.61 L243.54,377.94 L243.8,378.26 L244.05,378.57 L244.31,378.88 L244.57,379.18 L244.83,379.47 L245.09,379.76 L245.34,380.03 L245.6,380.31 L245.86,380.57 L246.12,380.83 L246.38,381.08 L246.63,381.32 L246.89,381.55 L247.15,381.78 L247.41,382.01 L247.66,382.22 L247.92,382.43 L248.18,382.64 L248.44,382.83 L248.7,383.02 L248.95,383.21 L249.21,383.39 L249.47,383.56 L249.73,383.72 L249.99,383.88 L250.24,384 L250.5,384 L250.76,384 L251.02,384 L251.27,384 L251.53,384 L251.79,384 L252.05,384 L252.31,384 L252.56,384 L252.82,384 L253.08,384 L253.34,384 L253.6,384 L253.85,384 L254.11,384 L254.37,384 L254.63,384 L254.88,384 L255.14,384 L255.4,384 L255.66,384 L255.92,384 L256.17,384 L256.43,384 L256.69,384 L256.95,384 L257.21,384 L257.46,384 L257.72,384 L257.98,384 L258.24,384 L258.49,384 L258.75,384 L259.01,384 L259.27,384 L259.53,384 L259.78,384 L260.04,384 L260.3,384 L260.56,384 L260.82,384 L261.07,384 L261.33,384 L261.59,384 L261.85,384 L262.1,384 L262.36,384 L262.62,384 L262.88,384 L263.14,384 L263.39,384 L263.65,384 L263.91,384 L264.17,384 L264.43,384 L264.68,384 L264.94,384 L265.2,384 L265.46,384 L265.71,384 L265.97,384 L266.23,384 L266.49,384 L266.75,384 L267,384 L267.26,384 L267.52,384 L267.78,384 L268.04,384 L268.29,384 L268.55,384 L268.81,384 L269.07,384 L269.32,384 L269.58,384 L269.84,384 L270.1,384 L270.36,384 L270.61,384 L270.87,384 L271.13,384 L271.39,384 L271.65,384 L271.9,384 L272.16,384 L272.42,384 L272.68,384 L272.93,384 L273.19,384 L273.45,384 L273.71,384 L273.97,384 L274.22,384 L274.48,384 L274.74,384 L275,384 L275.26,384 L275.51,384 L275.77,384 L276.03,384 L276.29,384 L276.54,384 L276.8,384 L277.06,384 L277.32,384 L277.58,384 L277.83,384 L278.09,384 L278.35,384 L278.61,384 L278.87,384 L279.12,384 L279.38,384 L279.64,384 L279.9,384 L280.15,384 L280.41,384 L280.67,384 L280.93,384 L281.19,384 L281.44,384 L281.7,384 L281.96,384 L282.22,384 L282.48,384 L282.73,384 L282.99,384 L283.25,384 L283.51,384 L283.76,384 L284.02,384 L284.28,384 L284.54,384 L284.8,384 L285.05,384 L285.31,384 L285.57,384 L285.83,384 L286.09,384 L286.34,384 L286.6,384 L286.86,384 L287.12,384 L287.37,384 L287.63,384 L287.89,384 L288.15,384 L288.41,384 L288.66,384 L288.92,384 L289.18,384 L289.44,384 L289.7,384 L289.95,384 L290.21,384 L290.47,384 L290.73,384 L290.98,384 L291.24,384 L291.5,384 L291.76,384 L292.02,384 L292.27,384 L292.53,384 L292.79,384 L293.05,384 L293.31,384 L293.56,384 L293.82,384 L294.08,384 L294.34,384 L294.59,384 L294.85,384 L295.11,384 L295.37,384 L295.63,384 L295.88,384 L296.14,384 L296.4,384" fill="none" stroke="#1c1f1f" stroke-width="1.1"/>
<line x1="238.57" y1="79.96" x2="238.57" y2="384" stroke="#a040b0" stroke-width="0.9" />
<circle cx="238.57" cy="79.96" r="1.3" fill="#fff" stroke="#a040b0" stroke-width="0.7"/>
<line x1="257.85" y1="130.6" x2="257.85" y2="384" stroke="#a040b0" stroke-width="0.9" />
<circle cx="257.85" cy="130.6" r="1.3" fill="#fff" stroke="#a040b0" stroke-width="0.7"/>
<line x1="277.12" y1="305.25" x2="277.12" y2="384" stroke="#a040b0" stroke-width="0.9" />
<circle cx="277.12" cy="305.25" r="1.3" fill="#fff" stroke="#a040b0" stroke-width="0.7"/>
<rect x="325.3" y="119.3" width="80.1" height="53.5" fill="#fff" stroke="#444" stroke-width="0.9"/>
<line x1="365.35" y1="172.8" x2="365.35" y2="171.3" stroke="#444" stroke-width="0.7" />
<line x1="365.35" y1="119.3" x2="365.35" y2="120.8" stroke="#444" stroke-width="0.7" />
<line x1="325.3" y1="146.05" x2="326.8" y2="146.05" stroke="#444" stroke-width="0.7" />
<line x1="405.4" y1="146.05" x2="403.9" y2="146.05" stroke="#444" stroke-width="0.7" />
<line x1="338.52" y1="119.3" x2="338.52" y2="172.8" stroke="#444" stroke-width="0.65" stroke-dasharray="1.8,1.2"/>
<path d="M338.52,172.8 L339.36,165.94 L340.21,163.29 L341.06,161.3 L341.9,159.63 L342.75,158.18 L343.6,156.87 L344.44,155.67 L345.29,154.56 L346.14,153.53 L346.98,152.55 L347.83,151.62 L348.68,150.74 L349.52,149.89 L350.37,149.08 L351.22,148.3 L352.06,147.54 L352.91,146.81 L353.76,146.1 L354.6,145.42 L355.45,144.75 L356.3,144.1 L357.14,143.46 L357.99,142.84 L358.84,142.24 L359.68,141.65 L360.53,141.07 L361.38,140.5 L362.22,139.94 L363.07,139.4 L363.92,138.86 L364.76,138.33 L365.61,137.81 L366.46,137.3 L367.3,136.8 L368.15,136.31 L369,135.82 L369.84,135.34 L370.69,134.87 L371.53,134.41 L372.38,133.95 L373.23,133.49 L374.07,133.04 L374.92,132.6 L375.77,132.17 L376.61,131.73 L377.46,131.31 L378.31,130.89 L379.15,130.47 L380,130.06 L380.85,129.65 L381.69,129.25 L382.54,128.85 L383.39,128.45 L384.23,128.06 L385.08,127.67 L385.93,127.29 L386.77,126.91 L387.62,126.53 L388.47,126.16 L389.31,125.79 L390.16,125.42 L391.01,125.06 L391.85,124.7 L392.7,124.34 L393.55,123.99 L394.39,123.64 L395.24,123.29 L396.09,122.94 L396.93,122.6 L397.78,122.26 L398.63,121.92 L399.47,121.58 L400.32,121.25 L401.17,120.92 L402.01,120.59 L402.86,120.26 L403.71,119.94 L404.55,119.62 L405.4,119.3" fill="none" stroke="#ee2222" stroke-width="1.05"/>
<circle cx="338.52" cy="172.8" r="1.35" fill="#222" stroke="#222" stroke-width="0.95"/>
<circle cx="352" cy="147.43" r="1.35" fill="none" stroke="#222" stroke-width="0.95"/>
<circle cx="378.7" cy="130.61" r="1.35" fill="none" stroke="#222" stroke-width="0.95"/>
<circle cx="405.4" cy="119.3" r="1.35" fill="#222" stroke="#222" stroke-width="0.95"/>
<text x="322.6" y="175.6" font-size="7.8" text-anchor="end" fill="#333" font-weight="normal" font-family='"Liberation Sans", sans-serif' >0</text>
<text x="322.6" y="148.85" font-size="7.8" text-anchor="end" fill="#333" font-weight="normal" font-family='"Liberation Sans", sans-serif' >0.5</text>
<text x="322.6" y="122.1" font-size="7.8" text-anchor="end" fill="#333" font-weight="normal" font-family='"Liberation Sans", sans-serif' >1</text>
<text x="365.5" y="116" font-size="8" text-anchor="middle" fill="#333" font-family='"Liberation Sans", sans-serif'><tspan font-style="italic">t</tspan> = 10<tspan font-size="6.4" dy="-3.4">-5</tspan><tspan dy="3.4">s</tspan></text>
<text x="325.3" y="181.6" font-size="7.8" text-anchor="middle" fill="#333" font-weight="normal" font-family='"Liberation Sans", sans-serif' >0</text>
<text x="365.35" y="181.6" font-size="7.8" text-anchor="middle" fill="#333" font-weight="normal" font-family='"Liberation Sans", sans-serif' >0.5</text>
<text x="405.4" y="181.6" font-size="7.8" text-anchor="middle" fill="#333" font-weight="normal" font-family='"Liberation Sans", sans-serif' >1</text>
<text x="337.52" y="182.1" font-size="8" text-anchor="middle" fill="#333" font-family='"Liberation Sans", sans-serif' font-style="italic">ρ<tspan font-size="5" dy="2" font-style="normal">c</tspan></text>
<rect x="325.3" y="214.6" width="80.1" height="53.8" fill="#fff" stroke="#444" stroke-width="0.9"/>
<line x1="365.35" y1="268.4" x2="365.35" y2="266.9" stroke="#444" stroke-width="0.7" />
<line x1="365.35" y1="214.6" x2="365.35" y2="216.1" stroke="#444" stroke-width="0.7" />
<line x1="325.3" y1="241.5" x2="326.8" y2="241.5" stroke="#444" stroke-width="0.7" />
<line x1="405.4" y1="241.5" x2="403.9" y2="241.5" stroke="#444" stroke-width="0.7" />
<line x1="338.52" y1="214.6" x2="338.52" y2="268.4" stroke="#444" stroke-width="0.65" stroke-dasharray="1.8,1.2"/>
<path d="M338.52,268.4 L339.36,268.05 L340.21,267.62 L341.06,267.15 L341.9,266.66 L342.75,266.15 L343.6,265.62 L344.44,265.09 L345.29,264.54 L346.14,263.98 L346.98,263.41 L347.83,262.83 L348.68,262.24 L349.52,261.65 L350.37,261.05 L351.22,260.44 L352.06,259.82 L352.91,259.21 L353.76,258.58 L354.6,257.95 L355.45,257.32 L356.3,256.68 L357.14,256.03 L357.99,255.38 L358.84,254.73 L359.68,254.07 L360.53,253.41 L361.38,252.75 L362.22,252.08 L363.07,251.41 L363.92,250.73 L364.76,250.05 L365.61,249.37 L366.46,248.68 L367.3,248 L368.15,247.3 L369,246.61 L369.84,245.91 L370.69,245.21 L371.53,244.51 L372.38,243.8 L373.23,243.09 L374.07,242.38 L374.92,241.67 L375.77,240.95 L376.61,240.24 L377.46,239.51 L378.31,238.79 L379.15,238.07 L380,237.34 L380.85,236.61 L381.69,235.88 L382.54,235.14 L383.39,234.4 L384.23,233.67 L385.08,232.92 L385.93,232.18 L386.77,231.44 L387.62,230.69 L388.47,229.94 L389.31,229.19 L390.16,228.44 L391.01,227.68 L391.85,226.93 L392.7,226.17 L393.55,225.41 L394.39,224.65 L395.24,223.89 L396.09,223.12 L396.93,222.35 L397.78,221.59 L398.63,220.82 L399.47,220.04 L400.32,219.27 L401.17,218.5 L402.01,217.72 L402.86,216.94 L403.71,216.16 L404.55,215.38 L405.4,214.6" fill="none" stroke="#ee2222" stroke-width="1.05"/>
<circle cx="338.52" cy="268.4" r="1.35" fill="#222" stroke="#222" stroke-width="0.95"/>
<circle cx="352" cy="262.21" r="1.35" fill="none" stroke="#222" stroke-width="0.95"/>
<circle cx="378.7" cy="241.36" r="1.35" fill="none" stroke="#222" stroke-width="0.95"/>
<circle cx="405.4" cy="214.6" r="1.35" fill="#222" stroke="#222" stroke-width="0.95"/>
<text x="322.6" y="271.2" font-size="7.8" text-anchor="end" fill="#333" font-weight="normal" font-family='"Liberation Sans", sans-serif' >0</text>
<text x="322.6" y="244.3" font-size="7.8" text-anchor="end" fill="#333" font-weight="normal" font-family='"Liberation Sans", sans-serif' >0.5</text>
<text x="322.6" y="217.4" font-size="7.8" text-anchor="end" fill="#333" font-weight="normal" font-family='"Liberation Sans", sans-serif' >1</text>
<text x="365.5" y="211.3" font-size="8" text-anchor="middle" fill="#333" font-family='"Liberation Sans", sans-serif'><tspan font-style="italic">t</tspan> = 10<tspan font-size="6.4" dy="-3.4">0</tspan><tspan dy="3.4">s</tspan></text>
<text x="325.3" y="277.2" font-size="7.8" text-anchor="middle" fill="#333" font-weight="normal" font-family='"Liberation Sans", sans-serif' >0</text>
<text x="365.35" y="277.2" font-size="7.8" text-anchor="middle" fill="#333" font-weight="normal" font-family='"Liberation Sans", sans-serif' >0.5</text>
<text x="405.4" y="277.2" font-size="7.8" text-anchor="middle" fill="#333" font-weight="normal" font-family='"Liberation Sans", sans-serif' >1</text>
<text x="337.52" y="277.7" font-size="8" text-anchor="middle" fill="#333" font-family='"Liberation Sans", sans-serif' font-style="italic">ρ<tspan font-size="5" dy="2" font-style="normal">c</tspan></text>
<rect x="325.3" y="310.3" width="80.1" height="53.1" fill="#fff" stroke="#444" stroke-width="0.9"/>
<line x1="365.35" y1="363.4" x2="365.35" y2="361.9" stroke="#444" stroke-width="0.7" />
<line x1="365.35" y1="310.3" x2="365.35" y2="311.8" stroke="#444" stroke-width="0.7" />
<line x1="325.3" y1="336.85" x2="326.8" y2="336.85" stroke="#444" stroke-width="0.7" />
<line x1="405.4" y1="336.85" x2="403.9" y2="336.85" stroke="#444" stroke-width="0.7" />
<line x1="338.52" y1="310.3" x2="338.52" y2="363.4" stroke="#444" stroke-width="0.65" stroke-dasharray="1.8,1.2"/>
<path d="M338.52,363.4 L339.36,363.38 L340.21,363.33 L341.06,363.25 L341.9,363.15 L342.75,363.03 L343.6,362.89 L344.44,362.72 L345.29,362.54 L346.14,362.34 L346.98,362.11 L347.83,361.87 L348.68,361.61 L349.52,361.34 L350.37,361.04 L351.22,360.73 L352.06,360.4 L352.91,360.06 L353.76,359.69 L354.6,359.32 L355.45,358.92 L356.3,358.51 L357.14,358.08 L357.99,357.64 L358.84,357.18 L359.68,356.71 L360.53,356.22 L361.38,355.71 L362.22,355.19 L363.07,354.66 L363.92,354.11 L364.76,353.54 L365.61,352.96 L366.46,352.37 L367.3,351.76 L368.15,351.13 L369,350.5 L369.84,349.84 L370.69,349.18 L371.53,348.5 L372.38,347.8 L373.23,347.09 L374.07,346.37 L374.92,345.63 L375.77,344.88 L376.61,344.12 L377.46,343.34 L378.31,342.55 L379.15,341.74 L380,340.92 L380.85,340.09 L381.69,339.25 L382.54,338.39 L383.39,337.51 L384.23,336.63 L385.08,335.73 L385.93,334.82 L386.77,333.89 L387.62,332.95 L388.47,332 L389.31,331.04 L390.16,330.06 L391.01,329.07 L391.85,328.07 L392.7,327.05 L393.55,326.02 L394.39,324.98 L395.24,323.93 L396.09,322.86 L396.93,321.78 L397.78,320.69 L398.63,319.58 L399.47,318.47 L400.32,317.34 L401.17,316.2 L402.01,315.04 L402.86,313.87 L403.71,312.7 L404.55,311.5 L405.4,310.3" fill="none" stroke="#ee2222" stroke-width="1.05"/>
<circle cx="338.52" cy="363.4" r="1.35" fill="#222" stroke="#222" stroke-width="0.95"/>
<circle cx="352" cy="360.52" r="1.35" fill="none" stroke="#222" stroke-width="0.95"/>
<circle cx="378.7" cy="342.39" r="1.35" fill="none" stroke="#222" stroke-width="0.95"/>
<circle cx="405.4" cy="310.3" r="1.35" fill="#222" stroke="#222" stroke-width="0.95"/>
<text x="322.6" y="366.2" font-size="7.8" text-anchor="end" fill="#333" font-weight="normal" font-family='"Liberation Sans", sans-serif' >0</text>
<text x="322.6" y="339.65" font-size="7.8" text-anchor="end" fill="#333" font-weight="normal" font-family='"Liberation Sans", sans-serif' >0.5</text>
<text x="322.6" y="313.1" font-size="7.8" text-anchor="end" fill="#333" font-weight="normal" font-family='"Liberation Sans", sans-serif' >1</text>
<text x="365.5" y="307" font-size="8" text-anchor="middle" fill="#333" font-family='"Liberation Sans", sans-serif'><tspan font-style="italic">t</tspan> = 10<tspan font-size="6.4" dy="-3.4">5</tspan><tspan dy="3.4">s</tspan></text>
<text x="325.3" y="372.2" font-size="7.8" text-anchor="middle" fill="#333" font-weight="normal" font-family='"Liberation Sans", sans-serif' >0</text>
<text x="365.35" y="372.2" font-size="7.8" text-anchor="middle" fill="#333" font-weight="normal" font-family='"Liberation Sans", sans-serif' >0.5</text>
<text x="405.4" y="372.2" font-size="7.8" text-anchor="middle" fill="#333" font-weight="normal" font-family='"Liberation Sans", sans-serif' >1</text>
<text x="337.52" y="372.7" font-size="8" text-anchor="middle" fill="#333" font-family='"Liberation Sans", sans-serif' font-style="italic">ρ<tspan font-size="5" dy="2" font-style="normal">c</tspan></text>
<text x="365.3" y="385.6" font-size="8" text-anchor="middle" fill="#333" font-family='"Liberation Sans", sans-serif'>VW Volume Fraction <tspan font-style="italic">ρ</tspan><tspan font-size="5.5" dy="2">vw</tspan><tspan dy="-2"> [-]</tspan></text>
<line x1="324.1" y1="40.4" x2="399.7" y2="40.4" stroke="#333" stroke-width="0.9" />
<line x1="324.1" y1="51.1" x2="399.7" y2="51.1" stroke="#666" stroke-width="0.5" />
<line x1="324.1" y1="82.9" x2="399.7" y2="82.9" stroke="#666" stroke-width="1.4" />
<text x="343.4" y="48.8" font-size="8" text-anchor="middle" fill="#111" font-weight="bold" font-family='"Liberation Sans", sans-serif' >Use</text>
<text x="381.8" y="48.8" font-size="8" text-anchor="middle" fill="#111" font-weight="bold" font-family='"Liberation Sans", sans-serif' >Sample</text>
<text x="343.4" y="59.5" font-size="8" text-anchor="middle" fill="#333" font-weight="normal" font-family='"Liberation Sans", sans-serif' font-style="italic" >μ</text>
<text x="381.8" y="59.5" font-size="8" text-anchor="middle" fill="#444" font-weight="normal" font-family='"Liberation Serif", serif' >I,III,V,VII</text>
<text x="342.8" y="68.7" font-size="8" text-anchor="middle" fill="#333" font-family='"Liberation Sans", sans-serif' font-style="italic">ρ<tspan font-size="5" dy="2" font-style="normal">c</tspan></text>
<text x="381.8" y="68.7" font-size="8" text-anchor="middle" fill="#444" font-weight="normal" font-family='"Liberation Serif", serif' >II</text>
<text x="343.4" y="78.7" font-size="8" text-anchor="middle" fill="#333" font-weight="normal" font-family='"Liberation Sans", sans-serif' >Validation</text>
<text x="381.8" y="78.7" font-size="8" text-anchor="middle" fill="#444" font-weight="normal" font-family='"Liberation Serif", serif' >IV,VI</text>
<text x="423" y="14.2" font-size="13" text-anchor="start" fill="#111" font-weight="bold" font-family='"Liberation Sans", sans-serif' >c</text>
<clipPath id="hc"><rect x="447.8" y="16.5" width="200.0" height="148.8"/></clipPath>
<filter id="hb" x="0" y="0" width="1" height="1"><feGaussianBlur stdDeviation="0.18"/></filter>
<g clip-path="url(#hc)"><g filter="url(#hb)">
<rect x="447.8" y="16.5" width="200.0" height="148.8" fill="#3f28ad"/>
<path d="M448.3,90.1 489.8,109.1 519.8,123.7 549.8,137.4 606.6,165.3 592.7,165.3 547.3,142 546.3,142 534.3,136 533.3,136 528.8,133.5 527.8,133.5 522.3,130.5 521.3,130.5 496.8,118.6 495.8,118.6 489.3,115.1 488.3,115.1 485.8,113.6 484.8,113.6 482.3,112.1 481.3,112.1 477.8,110.1 476.8,110.1 474.3,108.6 473.3,108.6 470.8,107.1 469.8,107.1 467.3,105.7 466.3,105.6 463.8,104.2 462.8,104.2 459.3,102.2 458.3,102.2 455.8,100.7 454.8,100.7 452.3,99.2 451.3,99.2 448.8,97.7 447.8,97.7 447.8,89.9Z" fill="#4331c7"/>
<path d="M546.3,16.5 647.8,16.5 647.8,78.1 545.9,16.5ZM448.3,81.5 499.8,106.6 520.3,117.3 599.8,154 626.3,165.3 606.6,165.3 549.8,137.4 519.8,123.7 489.8,109.1 447.8,89.9 447.8,81.3Z" fill="#463ee0"/>
<path d="M533.8,16.5 545.9,16.5 546.8,16.9 551.8,20.3 563.3,26.8 565.8,28.8 574.8,33.8 577.3,35.8 588.8,42.2 591.3,44.2 600.3,49.2 602.8,51.2 611.8,56.2 612.8,57.2 614.3,57.7 616.8,59.7 625.8,64.6 628.3,66.6 637.3,71.6 638.3,72.6 639.8,73.1 644.8,76.6 646.3,77.1 647.8,78.1 647.8,91.2 629.3,76.8 613.8,67.3 600.8,56 582.3,40.9 566.8,34.9 549.3,26 533.7,16.5ZM447.9,72.7 474.8,87 500.1,99.6 522.8,111.8 575.3,135.7 598.8,145.7 647.8,163.7 647.8,165.3 626.3,165.3 599.8,154 520.3,117.3 499.8,106.6 447.8,81.3 447.8,72.7ZM609.8,86.1 609.8,86.2ZM610.8,86.4 647.8,106 647.8,112.9 610.4,86.7Z" fill="#484df0"/>
<path d="M494.3,16.5 496.3,16.5 500.3,19 499.8,19.2 494.1,16.5ZM530.8,16.5 533.8,16.5 549.3,26 566.8,34.9 582.3,40.9 600.8,56 613.8,67.3 630.8,77.9 647.3,90.7 647.8,91.2 647.8,92.3 629.8,78.8 613.3,68.5 582.3,43.6 566.8,36.8 549.8,27.8 530.7,16.5ZM500.8,19.3 500.5,19.5ZM501.8,20 501.7,20ZM448.2,67.3 520.3,107 574.8,131.4 599.8,142 647.8,160.5 647.8,163.7 647.3,163.6 599.8,146.1 575.3,135.7 520.8,110.9 500.1,99.6 474.8,87 447.8,72.7 447.8,67.1ZM583.3,70.2 583.3,70.2ZM584.3,70.6 607.8,80.7 647.8,103.4 647.8,106 613.3,87.5 610.8,86.4 610.4,86.7 647.8,112.9 647.8,116.8 607.7,90.7 583.9,70.7ZM609.8,86.2 609.8,86.1Z" fill="#475cfa"/>
<path d="M491.3,16.5 494.1,16.5 499.8,19.2 500.3,19 496.3,16.5 498.8,16.5 505.3,20.7 511.8,25.5 511.3,25.6 491.1,16.5ZM500.5,19.5 500.8,19.3ZM501.7,20 501.8,20ZM528.3,16.5 530.7,16.5 549.8,27.8 566.8,36.8 582.3,43.6 613.3,68.5 630.3,79.2 647.8,92.3 647.8,93.2 629.8,80.2 613.3,69.9 582.3,46.3 566.8,38.7 550.3,29.6 528,16.5ZM512.3,25.8 512.1,26ZM566.8,60.3 566.7,60.3ZM567.8,60.7 580.3,65.3 593.8,71.8 647.8,102.3 647.8,103.4 607.8,80.7 584.3,70.6 583.9,70.7 607.7,90.7 647.8,116.8 647.8,118.7 613.3,96.4 593.8,83 580.5,72.7 567.4,60.8ZM583.3,70.2 583.3,70.2ZM448.3,61.8 474.8,77.4 520.3,103.3 530.3,108 599.8,138.1 647.8,157.4 647.8,160.5 600.3,142.2 574.8,131.4 520.3,107 447.8,67.1 447.8,61.5Z" fill="#416bfe"/>
<path d="M488.3,16.5 491.1,16.5 511.3,25.6 511.8,25.5 505.3,20.7 498.8,16.5 501.2,16.5 514.8,26 517.3,28.4 516.8,28.7 513.3,27.6 488,16.5ZM512.1,26 512.3,25.8ZM525.8,16.5 528,16.5 550.3,29.6 566.8,38.7 582.3,46.3 613.3,69.9 630.3,80.6 647.8,93.2 647.8,94.2 629.8,81.7 613.3,71.4 582.3,49 550.3,31.2 525.3,16.5ZM517.8,28.9 517.8,28.9ZM558.3,55.1 575.3,61.4 590.3,68.6 612.8,81 647.8,101.2 647.8,102.3 593.8,71.8 580.3,65.3 574.8,63 567.4,60.8 580.5,72.7 593.8,83 613.3,96.4 647.8,118.7 647.8,120.5 613.3,98.3 593.8,85 575.3,71.1 563.4,59.8 557.9,55.3ZM566.7,60.3 566.8,60.3ZM448.3,56.2 478.2,74.7 520.3,99.6 530.3,104.5 543.8,109.8 599.8,134.1 647.8,154.3 647.8,157.4 599.8,138.1 530.3,108 520.3,103.3 474.8,77.4 447.8,61.5 447.8,55.9Z" fill="#327bfc"/>
<path d="M484.8,16.5 488,16.5 513.3,27.6 516.8,28.7 517.3,28.4 514.8,26 501.2,16.5 503.5,16.5 515.3,24.7 518.3,27.7 519.9,30.4 519.3,30.6 513.3,28.7 484.7,16.5ZM517.8,28.9 517.8,28.9ZM522.8,16.5 525.3,16.5 550.3,31.2 582.3,49 613.3,71.4 629.8,81.7 647.8,94.2 647.8,95.1 629.8,83.1 613.3,72.8 590.3,56.7 582.8,52 522.7,16.5ZM448.2,52.3 453.9,54.3 487,75.7 520.3,95.9 529.8,100.7 543.8,106 588.8,125.2 647.8,151.2 647.8,154.3 599.8,134.1 543.8,109.8 530.3,104.5 520.3,99.6 477.3,74.2 447.8,55.9 447.8,52.2ZM557.8,54.2 573.3,60.1 574.3,59.8 579.8,62 589.8,66.9 647.8,100.1 647.8,101.2 612.8,81 589.8,68.3 574.8,61.2 558.8,55.2 557.9,55.3 563.4,59.8 574.8,70.7 589.3,81.7 612.8,97.9 647.8,120.5 647.8,122.4 594.3,87.4 575.3,73.3 556,55.3 555.6,54.8 557.4,54.3Z" fill="#2d8af4"/>
<path d="M481.3,16.5 484.7,16.5 513.3,28.7 519.3,30.6 519.9,30.4 518.3,27.7 515.3,24.7 503.5,16.5 505.9,16.5 514.8,22.6 517.8,25.1 520.9,29.9 521.9,31.9 521.8,32.5 512.8,29.6 481.2,16.5ZM520.3,16.5 522.7,16.5 582.8,52 590.3,56.7 613.3,72.8 629.8,83.1 647.8,95.1 647.8,96 613.3,74.3 590.3,59 579.8,53 572,47.4 520.2,16.5ZM448.2,50.8 459.3,54.5 462.4,54.8 487.6,71.7 510.1,86.2 519.8,92 529.8,97.1 543.8,102.1 588.8,121.1 628.3,139 647.8,148.1 647.8,151.2 588.8,125.2 543.8,106 529.8,100.7 520.3,95.9 487,75.7 453.9,54.3 447.8,52.2 447.8,50.7ZM557.3,53.2 558.3,53.2 573.8,59.4 574.3,58.6 579.8,60.5 589.8,65.5 647.8,99 647.8,100.1 594.3,69.3 580.3,62.2 574.3,59.8 573.8,60.2 572.8,59.9 558.3,54.2 555.6,54.8 575.3,73.3 594.3,87.4 647.8,122.4 647.8,124.3 594.3,89.4 575.3,75.6 554.6,56.3 553.8,54.8 556.8,53.3Z" fill="#2798ea"/>
<path d="M477.8,16.5 481.2,16.5 512.8,29.6 521.8,32.5 521.9,31.9 520.9,29.9 517.8,25.1 514.8,22.6 505.9,16.5 508.2,16.5 514.8,20.9 518.3,23.8 522.1,29.4 524.3,34.5 512.8,30.7 477.4,16.5ZM517.8,16.5 520.2,16.5 571.8,47.2 579.8,53 590.3,59 613.3,74.3 647.8,96 647.8,99 593.8,67.7 580.3,60.7 574.3,58.6 573.8,59.4 573.3,59.2 558.3,53.2 556.3,53.5 553.8,54.8 556.5,58.3 575.3,75.6 594.3,89.4 647.8,124.3 647.8,127.5 621.2,109.1 593.8,91.1 575.3,77.8 552.8,57.3 551.8,54.3 554.3,52.8 557.8,52 573.3,58.3 573.8,58.5 574.3,57.4 579.8,59 590.3,64.3 621.8,82.7 624,83.7 624,82.7 622.8,81.7 590.3,61.3 580.3,56 572.3,49.7 550.3,35.7 534.8,27 517.7,16.5ZM448.3,49.3 459.8,53.1 468.3,54 493.9,71.7 510.6,82.7 519.8,88.3 529.8,93.6 543.3,98.1 564.8,107 588.8,117.1 610.8,127.2 647.8,144.9 647.8,148.1 588.8,121.1 543.8,102.1 529.8,97.1 519.8,92 510.1,86.2 487.6,71.7 462.4,54.8 459.3,54.5 447.8,50.7 447.8,49.2Z" fill="#20a5e3"/>
<path d="M473.8,16.5 477.4,16.5 512.8,30.7 524.3,34.5 522.1,29.4 518.3,23.8 514.8,20.9 508.2,16.5 515.1,16.5 515.3,19.5 517.8,21.1 520.7,24 524.9,31.4 526.4,35.4 526.3,36.3 512.3,31.6 473.3,16.5ZM515.8,16.5 517.7,16.5 534.8,27 550.3,35.7 572.3,49.7 580.3,56 590.3,61.3 624,82.7 623.8,83.7 621.8,82.7 590.3,64.3 579.8,59 574.3,57.4 573.8,58.5 573.3,58.3 557.8,52 554.3,52.8 551.8,54.3 552.8,57.3 575.3,77.8 593.8,91.1 621.2,109.1 647.8,127.5 647.8,132.1 588.8,90.3 574.3,79.2 551.3,58.8 550.4,57.8 550.5,55.8 549.5,53.8 551.3,52.2 553.3,51.3 555.8,50.9 558.3,51.1 573.3,57.4 573.8,57.3 573.7,53.3 573,52.3 550.3,37.3 534.8,28.7 515.3,16.5ZM448.3,47.8 460.3,51.8 474.9,53.8 495.5,68.8 509.5,78.2 515.3,82 529.8,90 543.8,94.5 589.3,113.3 617.8,126.8 647.8,141.8 647.8,144.9 588.8,117.1 543.8,98.3 529.8,93.6 519.8,88.3 508.2,81.2 468.8,54.3 467.8,53.8 459.8,53.1 447.8,49.2 447.8,47.6Z" fill="#14b0d8"/>
<path d="M468.3,16.5 473.3,16.5 512.3,31.6 526.3,36.3 526.4,35.4 524.9,31.4 520.7,24 517.8,21.1 515.3,19.5 515.3,16.5 534.8,28.7 550.3,37.3 572.3,51.8 573.7,53.3 573.8,57.3 571.8,56.9 558.3,51.1 556.3,50.9 552.8,51.5 549.8,53.4 549.5,53.8 550.5,55.8 550.4,57.8 554.9,62.3 575.3,80 593.8,94 647.8,132.1 647.8,141.8 617.3,126.6 588.8,113 543.8,94.5 529.8,90 515.3,82 509.5,78.2 495.5,68.8 474.9,53.8 460.3,51.8 447.8,47.6 447.8,46.1 460.8,50.5 480.5,53.8 499.8,67.8 514.8,78 529.8,86.4 543.3,90.5 564.8,99 588.8,109 608.8,118.5 631.3,127.5 632,127.5 608.8,109.1 589.3,95 574.9,83.7 565,74.7 558.2,67.8 547.5,58.3 548.4,55.8 546.8,52.3 549.3,50.5 552.3,49.4 555.8,49.5 558.3,50.1 564.3,52.6 564.6,52.3 562.5,50.8 526.3,28.4 525.5,28.4 527.4,32.4 528.7,36.9 528.5,37.9 527.8,38.1 468.2,16.5ZM564.7,52.8 565.3,52.8 564.8,52.7Z" fill="#01b8c8"/>
<path d="M460.3,16.5 468.2,16.5 469.8,16.9 527.8,38.1 528.5,37.9 528.7,36.9 527.4,32.4 525.5,28.4 525.8,28.3 561,49.8 564.6,52.3 564.3,52.6 557.8,49.9 555.3,49.4 551.8,49.5 548.6,50.8 546.8,52.3 548.4,55.8 547.5,58.3 558.2,67.8 565,74.7 574.8,83.6 589.3,95 608.8,109.1 631.8,127.7 608.8,118.5 588.8,109 564.8,99 543.3,90.5 529.8,86.4 514.8,78 499.8,67.8 480.5,53.8 460.8,50.5 447.8,46.1 447.8,44.5 461.3,49.1 487,54.3 500.3,64.3 514.8,74.3 529.8,82.9 543.8,86.8 575.8,99.6 588.6,101.6 575.9,88.7 559.8,74.9 555.9,70.7 552.2,65.8 544.2,58.8 543.9,58.3 545.7,56.8 546.3,55.4 545.8,53.8 543.5,50.8 545.2,48.8 547.3,47.5 549.3,47.1 552.3,47.2 556.8,48.4 557.4,48.4 556.6,47.9 530.8,31.8 530.3,31.9 531.7,38.9 530.3,41.2 527.8,39.3 503.3,30.5 469.3,18.6 460.1,16.5ZM564.8,52.7 565.3,52.8 564.7,52.8Z" fill="#18bfb6"/>
<path d="M451.3,16.5 460.1,16.5 469.3,18.6 523.3,37.6 528,39.4 530.3,41.2 531.7,38.9 530.3,31.9 530.8,31.8 541.8,38.4 557.4,48.4 550.3,47.1 547.3,47.5 545.3,48.7 543.5,50.8 545.8,53.8 546.3,55.8 543.9,58.3 544.2,58.8 552.2,65.8 555.9,70.7 560.3,75.4 576.9,89.7 588.6,101.6 588.3,101.9 575.8,99.6 543.8,86.8 529.8,82.9 514.8,74.3 500.3,64.3 487,54.3 461.3,49.1 447.8,44.5 447.8,42.9 461.3,47.6 492.7,54.8 493.9,55.3 514.8,70.6 529.8,79.3 543.3,82.8 554.3,87 564.3,87.6 564.6,87.2 549.5,70.2 545.3,63.8 540.2,58.8 543.5,56.3 544.1,55.3 544.1,54.3 542.5,51.8 538.2,47.9 539.9,45.9 543.3,43.5 547.8,43.1 541.8,38.9 536.1,35.9 536.4,42.4 535.9,45.4 535.3,45.9 525.3,39.6 504.8,32.2 468.8,20.3 451.2,16.5ZM548.1,43.4 548.3,43.4Z" fill="#2fc5a2"/>
<path d="M448.3,16.5 451.2,16.5 468.8,20.3 502.8,31.5 524.9,39.4 535.3,45.9 535.9,45.4 536.4,42.4 536.1,35.9 541.8,38.9 547.8,43.1 543.3,43.5 539.9,45.9 538.2,47.9 542.5,51.8 544.1,54.3 544.1,55.3 543.5,56.3 540.2,58.8 545.3,63.8 549.5,70.2 564.6,87.2 564.3,87.6 554.3,87 543.3,82.8 529.8,79.3 514.8,70.6 493.9,55.3 492.7,54.8 461.3,47.6 447.8,42.9 447.8,41.2 461.8,46.2 499.6,55.8 514.8,66.9 530.3,75.9 538.8,77.9 544.5,75.2 538.9,66.3 538,62.3 533.2,58.8 537.3,57.9 540.3,56.6 542,54.8 541.8,53.3 538.3,49.6 530.8,44.5 523.1,39.9 504.3,33.2 468.3,22 447.8,17.8 447.8,16.5ZM548.3,43.4 548.1,43.4Z" fill="#42ca8b"/>
<path d="M448.3,17.9 468.3,22 504.3,33.2 523.1,39.9 534.8,47.1 540.3,51.3 542.1,54.3 541.3,55.8 539.3,57.1 533.2,58.8 538,62.3 538.9,66.3 544.5,75.2 538.3,77.9 529.8,75.7 514.8,66.9 499.6,55.8 461.8,46.2 447.8,41.2 447.8,39.5 462.3,44.8 495,53.8 509.5,56.8 515.3,62.5 529.8,71.1 533.9,69.3 530.5,64.8 528.8,63.3 527.8,63.3 527.3,62.7 516.8,57.8 531.2,57.8 534.8,57.3 538.3,55.8 539.8,54.3 539.7,52.8 537.5,50.3 534.2,47.9 521.2,40.4 507.8,35.5 468.3,23.9 447.8,19.8 447.8,17.8Z" fill="#63cd70"/>
<path d="M448.3,19.9 467.8,23.8 502.8,33.9 520.8,40.2 532.8,46.9 536.9,49.8 539.4,52.3 539.8,54.3 538.3,55.8 534.8,57.3 531.2,57.8 516.8,57.8 527.3,62.7 527.8,63.3 528.8,63.3 530.5,64.8 533.9,69.3 529.8,71.1 515.3,62.5 509.5,56.8 495,53.8 462.3,44.8 447.8,39.5 447.8,37.6 462.8,43.4 486.3,50.6 500.3,54.3 513.3,56.5 527.3,57.1 532.3,56.5 535.8,55.4 537.7,53.8 537.5,52.3 535.8,50.3 531.8,47.4 518.8,40.7 505.3,35.8 467.8,25.7 447.8,22 447.8,19.8Z" fill="#89cb52"/>
<path d="M448.3,22.1 467.8,25.7 501.3,34.6 518.1,40.4 529.3,45.9 534.6,49.3 537.5,52.3 537.7,53.8 535.3,55.6 530.8,56.8 524.3,57.2 516.3,56.8 507.8,55.7 492.3,52.3 462.8,43.4 447.8,37.6 447.8,35.6 463.1,41.9 481.8,48.4 497.1,52.8 509.8,55.3 523.3,56.3 529.6,55.8 533.4,54.8 535.4,53.3 535.4,51.8 532.3,48.9 528.2,46.4 516.3,40.9 502.8,36.2 472.8,28.6 447.8,24.4 447.8,22Z" fill="#afc637"/>
<path d="M448.2,24.5 468.3,27.7 493.8,33.7 511,38.9 525.4,44.9 530.8,47.9 534.6,50.8 535.6,52.8 534.3,54.3 529.6,55.8 523.8,56.3 509.8,55.3 495.2,52.3 467.1,43.4 447.8,35.6 447.8,33.1 460.1,38.9 476,44.9 495.3,50.9 506.3,53.3 513.8,54.2 520.3,54.4 525.8,54 529.3,52.8 530.6,51.3 529.8,49.8 526.6,47.4 522.2,44.9 511.8,40.4 499.3,36.3 469.8,29.4 457.8,27.4 447.8,26.4 447.8,24.4Z" fill="#d0bf27"/>
<path d="M448.3,26.4 464.3,28.4 482.3,32 501.8,37 515.6,41.9 526.6,47.4 529.3,49.3 530.6,51.3 529.3,52.8 526.5,53.8 521.8,54.4 516.3,54.4 506.3,53.3 496.3,51.2 478.3,45.7 461.3,39.4 447.8,33.1 447.8,26.4ZM450.8,29.4 450.4,30.4 452.4,32.4 460.4,36.9 473.6,42.4 489.3,47.7 499.3,50.5 508.3,52.1 517.3,52.6 523.3,51.7 525,50.8 525.4,49.8 524.4,48.4 521.7,46.4 513.7,42.4 502.3,38.3 485.8,34 469.8,30.7 457.3,29.2 450.8,29.4Z" fill="#ecba32"/>
<path d="M450.8,29.4 457.3,29.2 469.8,30.7 485.8,34 502.3,38.3 513.7,42.4 521.7,46.4 524.4,48.4 525.4,49.8 525,50.8 523.3,51.7 517.3,52.6 508.3,52.1 499.3,50.5 489.3,47.7 473.6,42.4 460.4,36.9 452.4,32.4 450.4,30.4 450.8,29.4ZM460.6,31.9 459.7,32.4 460.2,33.4 465.5,36.9 475.6,41.4 487.3,45.6 497.8,48.7 503.8,49.9 511.3,50.7 517.3,50.4 519.1,49.8 520.3,48.8 519,46.9 512.9,43.4 503.3,39.7 490.8,36.3 477.3,33.5 466.8,31.9 460.8,31.9Z" fill="#febf3b"/>
<path d="M460.8,31.9 466.8,31.9 477.3,33.5 490.8,36.3 503.3,39.7 512.9,43.4 519,46.9 520.3,48.8 519.1,49.8 517.3,50.4 511.3,50.7 503.8,49.9 497.8,48.7 487.3,45.6 475.6,41.4 465.5,36.9 460.2,33.4 459.7,32.4 460.6,31.9ZM469.2,34.9 471,36.9 476.7,39.9 485.5,43.4 496.4,46.9 502.3,48.2 507.8,48.8 512.3,48.7 514.9,47.9 515.2,47.4 514.7,46.4 511.7,44.4 500.3,39.9 480.3,35.4 472.8,34.5 469.3,34.8Z" fill="#fccf30"/>
<path d="M469.3,34.8 472.8,34.5 480.3,35.4 500.3,39.9 511.7,44.4 514.7,46.4 515.2,47.4 514.9,47.9 512.3,48.7 507.8,48.8 502.3,48.2 496.4,46.9 485.5,43.4 476.7,39.9 471,36.9 469.2,34.9ZM478.6,37.4 479.9,38.9 483.8,40.9 495.8,45.2 503.3,46.9 506.8,47 509.3,46.6 510.1,45.9 508.5,44.4 500.3,41 486.7,37.9 481.8,37.2 478.8,37.3Z" fill="#f6e028"/>
<path d="M478.8,37.3 481.8,37.2 486.7,37.9 500.3,41 508.5,44.4 510.1,45.9 509.3,46.6 506.8,47 503.3,46.9 495.8,45.2 483.8,40.9 479.9,38.9 478.6,37.4Z" fill="#f6f01f"/>
<path d="M592.7,165.3 547.3,142 546.3,142 534.3,136 533.3,136 528.8,133.5 527.8,133.5 522.3,130.5 521.3,130.5 496.8,118.6 495.8,118.6 489.3,115.1 488.3,115.1 485.8,113.6 484.8,113.6 482.3,112.1 481.3,112.1 477.8,110.1 476.8,110.1 474.3,108.6 473.3,108.6 470.8,107.1 469.8,107.1 467.3,105.7 466.3,105.6 463.8,104.2 462.8,104.2 459.3,102.2 458.3,102.2 455.8,100.7 454.8,100.7 452.3,99.2 451.3,99.2 448.8,97.7 447.8,97.7" fill="none" stroke="#151515" stroke-width="0.6" stroke-opacity="0.92"/>
<path d="M606.6,165.3 549.8,137.4 519.8,123.7 489.8,109.1 447.8,89.9" fill="none" stroke="#151515" stroke-width="0.6" stroke-opacity="0.92"/>
<path d="M545.9,16.5 647.8,78.1M626.3,165.3 599.8,154 520.3,117.3 499.8,106.6 447.8,81.3" fill="none" stroke="#151515" stroke-width="0.6" stroke-opacity="0.92"/>
<path d="M533.7,16.5 549.3,26 566.8,34.9 582.3,40.9 600.8,56 613.8,67.3 629.3,76.8 647.8,91.2M647.8,106 613.3,87.5 610.8,86.4 610.4,86.7 647.8,112.9M647.8,163.7 598.8,145.7 575.3,135.7 522.8,111.8 500.1,99.6 474.8,87 447.8,72.7M609.8,86.1 610,86.2" fill="none" stroke="#d83050" stroke-width="0.9" stroke-dasharray="2.2,1"/>
<path d="M494.1,16.5 499.8,19.2 500.3,19 496.3,16.5M530.7,16.5 549.8,27.8 566.8,36.8 582.3,43.6 613.3,68.5 629.8,78.8 647.8,92.3M647.8,103.4 607.8,80.7 584.3,70.6 583.9,70.7 607.7,90.7 647.8,116.8M647.8,160.5 599.8,142 574.8,131.4 520.3,107 447.8,67.1M500.8,19.3 500.5,19.5 501.1,19.5M501.8,20 501.8,20M583.3,70.2 583.3,70.2" fill="none" stroke="#151515" stroke-width="0.6" stroke-opacity="0.92"/>
<path d="M491.1,16.5 511.3,25.6 511.8,25.5 505.3,20.7 498.8,16.5M528,16.5 550.3,29.6 566.8,38.7 582.3,46.3 613.3,69.9 629.8,80.2 647.8,93.2M647.8,102.3 593.8,71.8 580.3,65.3 574.8,63 567.4,60.8 580.5,72.7 593.8,83 613.3,96.4 647.8,118.7M647.8,157.4 599.8,138.1 530.3,108 520.3,103.3 474.8,77.4 447.8,61.5M512.3,25.8 512.5,26M566.8,60.3 566.8,60.3" fill="none" stroke="#151515" stroke-width="0.6" stroke-opacity="0.92"/>
<path d="M488,16.5 513.3,27.6 516.8,28.7 517.3,28.4 514.8,26 501.2,16.5M525.3,16.5 550.3,31.2 582.3,49 613.3,71.4 629.8,81.7 647.8,94.2M647.8,101.2 612.8,81 590.3,68.6 574.9,61.3 558.8,55.2 557.9,55.3 563.4,59.8 575.3,71.1 593.8,85 613.3,98.3 647.8,120.5M647.8,154.3 599.8,134.1 543.8,109.8 530.3,104.5 520.3,99.6 477.3,74.2 447.8,55.9M517.8,28.9 517.8,28.9" fill="none" stroke="#151515" stroke-width="0.6" stroke-opacity="0.92"/>
<path d="M484.7,16.5 513.3,28.7 519.3,30.6 519.9,30.4 518.3,27.7 515.3,24.7 503.5,16.5M522.7,16.5 582.8,52 590.3,56.7 613.3,72.8 629.8,83.1 647.8,95.1M647.8,100.1 594.3,69.3 580.3,62.2 574.3,59.8 573.8,60.2 572.8,59.9 558.3,54.2 555.6,54.8 574.8,72.9 589.2,83.7 612.8,99.8 647.8,122.4M647.8,151.2 588.8,125.2 543.8,106 529.8,100.7 519.8,95.7 512.1,91.1 480.7,71.7 453.9,54.3 447.8,52.2" fill="none" stroke="#151515" stroke-width="0.6" stroke-opacity="0.92"/>
<path d="M481.2,16.5 512.8,29.6 521.8,32.5 521.9,31.9 520.9,29.9 517.8,25.1 514.8,22.6 505.9,16.5M520.2,16.5 572,47.4 579.8,53 590.3,59 613.3,74.3 647.8,96M647.8,99 593.8,67.7 580.3,60.7 574.3,58.6 573.8,59.4 573.3,59.2 558.3,53.2 556.3,53.5 553.8,54.8 554.8,56.5 560.7,62.3 577.5,77.2 594.3,89.4 647.8,124.3M647.8,148.1 588.8,121.1 543.8,102.1 529.8,97.1 519.8,92 510.1,86.2 487.6,71.7 462.4,54.8 459.3,54.5 447.8,50.7" fill="none" stroke="#151515" stroke-width="0.6" stroke-opacity="0.92"/>
<path d="M477.4,16.5 512.8,30.7 524.3,34.5 522.1,29.4 518.3,23.8 514.8,20.9 508.2,16.5M517.7,16.5 534.8,27 550.3,35.7 572.3,49.7 580.3,56 590.3,61.3 622.8,81.7 624,82.7 624,83.7 621.8,82.7 590.3,64.3 579.8,59 574.3,57.4 573.8,58.5 573.3,58.3 557.8,52 554.3,52.8 551.8,54.3 552.8,57.3 575.3,77.8 593.8,91.1 621.2,109.1 647.8,127.5M647.8,144.9 588.8,117.1 543.8,98.3 529.8,93.6 519.8,88.3 508.2,81.2 468.8,54.3 467.8,53.8 459.8,53.1 447.8,49.2" fill="none" stroke="#151515" stroke-width="0.6" stroke-opacity="0.92"/>
<path d="M473.3,16.5 512.3,31.6 526.3,36.3 526.4,35.4 524.9,31.4 520.7,24 517.8,21.1 515.3,19.5 515.1,16.5M515.3,16.5 534.8,28.7 550.3,37.3 573,52.3 573.7,53.3 573.8,57.3 573.3,57.4 558.3,51.1 555.8,50.9 553.3,51.3 551.3,52.2 549.5,53.8 550.5,55.8 550.4,57.8 551.3,58.8 574.3,79.2 588.8,90.3 647.8,132.1M647.8,141.8 617.3,126.6 588.8,113 543.8,94.5 529.8,90 515.3,82 509.5,78.2 495.5,68.8 474.9,53.8 460.3,51.8 447.8,47.6" fill="none" stroke="#151515" stroke-width="0.6" stroke-opacity="0.92"/>
<path d="M468.2,16.5 527.8,38.1 528.5,37.9 528.7,36.9 527.4,32.4 525.5,28.4 526.3,28.4 562.5,50.8 564.6,52.3 564.3,52.6 558.3,50.1 555.8,49.5 552.3,49.4 549.3,50.5 546.8,52.3 548.4,55.8 547.5,58.3 558.2,67.8 565,74.7 574.9,83.7 589.3,95 608.8,109.1 632,127.5 631.3,127.5 608.8,118.5 588.8,109 564.8,99 543.3,90.5 529.8,86.4 514.8,78 499.8,67.8 480.5,53.8 460.8,50.5 447.8,46.1M564.8,52.7 565.3,52.8 564.7,52.8" fill="none" stroke="#151515" stroke-width="0.6" stroke-opacity="0.92"/>
<path d="M460.1,16.5 469.3,18.6 503.3,30.5 527.8,39.3 530.3,41.2 531.7,38.9 530.3,31.9 530.8,31.8 556.6,47.9 557.4,48.4 556.8,48.4 552.3,47.2 549.3,47.1 547.3,47.5 545.2,48.8 543.5,50.8 545.8,53.8 546.3,55.4 545.7,56.8 543.9,58.3 544.2,58.8 552.2,65.8 555.9,70.7 559.8,74.9 575.9,88.7 588.6,101.6 575.8,99.6 543.8,86.8 529.8,82.9 514.8,74.3 500.3,64.3 487,54.3 461.3,49.1 447.8,44.5" fill="none" stroke="#151515" stroke-width="0.6" stroke-opacity="0.92"/>
<path d="M451.2,16.5 468.8,20.3 504.8,32.2 525.3,39.6 535.3,45.9 535.9,45.4 536.4,42.4 536.1,35.9 541.8,38.9 547.8,43.1 543.3,43.5 539.9,45.9 538.2,47.9 542.5,51.8 544.1,54.3 544.1,55.3 543.5,56.3 540.2,58.8 545.3,63.8 550.3,71.2 564.6,87.2 564.3,87.6 554.3,87 543.3,82.8 530.3,79.5 514.8,70.6 493.9,55.3 461.3,47.6 447.8,42.9M548.3,43.4 548.1,43.4" fill="none" stroke="#151515" stroke-width="0.6" stroke-opacity="0.92"/>
<path d="M447.8,17.8 468.8,22.2 503.3,32.8 523.8,40.3 536.3,48.1 541.5,52.8 542,54.8 540.7,56.3 537.3,57.9 533.2,58.8 538,62.3 538.9,66.3 544.5,75.2 538.8,77.9 530.3,75.9 514.8,66.9 499.6,55.8 461.8,46.2 447.8,41.2" fill="none" stroke="#151515" stroke-width="0.6" stroke-opacity="0.92"/>
<path d="M447.8,19.8 468.3,23.9 501.3,33.4 517.3,38.9 521.2,40.4 533.8,47.6 538.6,51.3 539.9,53.8 538.3,55.8 533.8,57.5 527.3,58 516.8,57.8 527.3,62.7 527.8,63.3 528.8,63.3 530.5,64.8 533.9,69.3 529.8,71.1 515.3,62.5 509.5,56.8 495,53.8 462.3,44.8 447.8,39.5" fill="none" stroke="#151515" stroke-width="0.6" stroke-opacity="0.92"/>
<path d="M447.8,22 470.3,26.3 493.3,32.3 508.3,36.8 518.3,40.5 528.8,45.7 535.2,49.8 537.2,51.8 537.8,53.3 536.8,54.8 534.8,55.8 527.8,57.1 517.3,56.9 505.3,55.3 495.3,53.1 475.3,47.4 462.3,43.3 447.8,37.6" fill="none" stroke="#151515" stroke-width="0.6" stroke-opacity="0.92"/>
<path d="M447.8,24.4 460.3,26.2 475.3,29.2 491.8,33.2 505.8,37.1 518.8,41.9 527.3,45.8 533.5,49.8 535.3,51.7 535.6,52.8 534.3,54.3 531.9,55.3 524.3,56.3 513.8,55.8 503.8,54.3 491.7,51.3 475.7,46.4 460.4,40.9 447.8,35.6" fill="none" stroke="#151515" stroke-width="0.6" stroke-opacity="0.92"/>
<path d="M447.8,26.4 458.3,27.4 470.8,29.6 486.8,33.1 502.3,37.1 513.1,40.9 522.2,44.9 528.1,48.4 529.8,49.8 530.6,51.3 529.8,52.5 527.8,53.5 520.8,54.4 511.3,54 500.3,52.2 486.8,48.4 471.7,43.4 457.7,37.9 447.8,33.1" fill="none" stroke="#151515" stroke-width="0.6" stroke-opacity="0.92"/>
<path d="M450.8,29.4 457.3,29.2 469.8,30.7 485.8,34 502.3,38.3 513.7,42.4 521.7,46.4 524.4,48.4 525.4,49.8 525,50.8 523.3,51.7 517.3,52.6 508.3,52.1 499.3,50.5 489.3,47.7 473.6,42.4 460.4,36.9 452.4,32.4 450.4,30.4 450.8,29.4" fill="none" stroke="#151515" stroke-width="0.6" stroke-opacity="0.92"/>
<path d="M460.8,31.9 466.8,31.9 477.3,33.5 490.8,36.3 503.3,39.7 512.9,43.4 519,46.9 520.3,48.8 519.1,49.8 517.3,50.4 511.3,50.7 503.8,49.9 497.8,48.7 487.3,45.6 475.6,41.4 465.5,36.9 460.2,33.4 459.7,32.4 460.6,31.9" fill="none" stroke="#151515" stroke-width="0.6" stroke-opacity="0.92"/>
<path d="M469.3,34.8 472.8,34.5 480.3,35.4 500.3,39.9 511.7,44.4 514.7,46.4 515.2,47.4 514.9,47.9 512.3,48.7 507.8,48.8 502.3,48.2 496.4,46.9 485.5,43.4 476.7,39.9 471,36.9 469.2,34.9" fill="none" stroke="#151515" stroke-width="0.6" stroke-opacity="0.92"/>
<path d="M478.8,37.3 481.8,37.2 486.7,37.9 500.3,41 508.5,44.4 510.1,45.9 509.3,46.6 506.8,47 503.3,46.9 495.8,45.2 483.8,40.9 479.9,38.9 478.6,37.4" fill="none" stroke="#151515" stroke-width="0.6" stroke-opacity="0.92"/>
</g></g>
<path d="M450.4,19.4 L645.2,19.4 L645.2,163 L450.4,163Z" stroke="#f4f0ff" stroke-opacity="0.85" stroke-width="0.7" fill="none"/>
<path d="M450.4,18.49 L645.2,134.79" stroke="#f4f0ff" stroke-opacity="0.85" stroke-width="0.7" fill="none"/>
<path d="M450.4,19.99 L645.2,136.29" stroke="#f4f0ff" stroke-opacity="0.85" stroke-width="0.7" fill="none"/>
<path d="M549,17.54 L645.2,75.74" stroke="#f4f0ff" stroke-opacity="0.85" stroke-width="0.7" fill="none"/>
<path d="M549,19.04 L645.2,77.24" stroke="#f4f0ff" stroke-opacity="0.85" stroke-width="0.7" fill="none"/>
<path d="M450.4,98.01 L463.09,103.47 L475.78,108.93 L488.47,114.39 L501.16,120.3 L513.85,126.26 L526.55,132.14 L539.24,137.93 L551.93,143.83 L564.62,150.31 L577.31,156.79 L590,163.31" stroke="#f4f0ff" stroke-opacity="0.85" stroke-width="0.7" fill="none"/>
<path d="M450.4,99.51 L463.09,104.97 L475.78,110.43 L488.47,115.89 L501.16,121.8 L513.85,127.76 L526.55,133.64 L539.24,139.43 L551.93,145.33 L564.62,151.81 L577.31,158.29" stroke="#f4f0ff" stroke-opacity="0.85" stroke-width="0.7" fill="none"/>
<text x="637.8" y="28" font-size="7.5" text-anchor="middle" fill="#f4f0ff" font-family='"Liberation Serif", serif'>IV</text>
<text x="637.3" y="93.8" font-size="7.5" text-anchor="middle" fill="#f4f0ff" font-family='"Liberation Serif", serif'>III</text>
<text x="599.2" y="158.8" font-size="7.5" text-anchor="middle" fill="#f4f0ff" font-family='"Liberation Serif", serif'>II</text>
<text x="560.2" y="159.8" font-size="7.5" text-anchor="middle" fill="#f4f0ff" font-family='"Liberation Serif", serif'>I</text>
<text x="540" y="123.6" font-size="8" text-anchor="middle" fill="#d83050" font-family='"Liberation Sans", sans-serif' transform="rotate(22 540 120)">1.0</text>
<rect x="447.8" y="16.5" width="199.99999999999994" height="148.8" fill="none" stroke="#333" stroke-width="0.8"/>
<line x1="457.8" y1="165.3" x2="457.8" y2="164.3" stroke="#333" stroke-width="0.6" />
<line x1="457.8" y1="16.5" x2="457.8" y2="17.5" stroke="#333" stroke-width="0.6" />
<line x1="467.8" y1="165.3" x2="467.8" y2="164.3" stroke="#333" stroke-width="0.6" />
<line x1="467.8" y1="16.5" x2="467.8" y2="17.5" stroke="#333" stroke-width="0.6" />
<line x1="477.8" y1="165.3" x2="477.8" y2="164.3" stroke="#333" stroke-width="0.6" />
<line x1="477.8" y1="16.5" x2="477.8" y2="17.5" stroke="#333" stroke-width="0.6" />
<line x1="487.8" y1="165.3" x2="487.8" y2="164.3" stroke="#333" stroke-width="0.6" />
<line x1="487.8" y1="16.5" x2="487.8" y2="17.5" stroke="#333" stroke-width="0.6" />
<line x1="497.8" y1="165.3" x2="497.8" y2="163.7" stroke="#333" stroke-width="0.6" />
<line x1="497.8" y1="16.5" x2="497.8" y2="18.1" stroke="#333" stroke-width="0.6" />
<line x1="507.8" y1="165.3" x2="507.8" y2="164.3" stroke="#333" stroke-width="0.6" />
<line x1="507.8" y1="16.5" x2="507.8" y2="17.5" stroke="#333" stroke-width="0.6" />
<line x1="517.8" y1="165.3" x2="517.8" y2="164.3" stroke="#333" stroke-width="0.6" />
<line x1="517.8" y1="16.5" x2="517.8" y2="17.5" stroke="#333" stroke-width="0.6" />
<line x1="527.8" y1="165.3" x2="527.8" y2="164.3" stroke="#333" stroke-width="0.6" />
<line x1="527.8" y1="16.5" x2="527.8" y2="17.5" stroke="#333" stroke-width="0.6" />
<line x1="537.8" y1="165.3" x2="537.8" y2="164.3" stroke="#333" stroke-width="0.6" />
<line x1="537.8" y1="16.5" x2="537.8" y2="17.5" stroke="#333" stroke-width="0.6" />
<line x1="547.8" y1="165.3" x2="547.8" y2="163.7" stroke="#333" stroke-width="0.6" />
<line x1="547.8" y1="16.5" x2="547.8" y2="18.1" stroke="#333" stroke-width="0.6" />
<line x1="557.8" y1="165.3" x2="557.8" y2="164.3" stroke="#333" stroke-width="0.6" />
<line x1="557.8" y1="16.5" x2="557.8" y2="17.5" stroke="#333" stroke-width="0.6" />
<line x1="567.8" y1="165.3" x2="567.8" y2="164.3" stroke="#333" stroke-width="0.6" />
<line x1="567.8" y1="16.5" x2="567.8" y2="17.5" stroke="#333" stroke-width="0.6" />
<line x1="577.8" y1="165.3" x2="577.8" y2="164.3" stroke="#333" stroke-width="0.6" />
<line x1="577.8" y1="16.5" x2="577.8" y2="17.5" stroke="#333" stroke-width="0.6" />
<line x1="587.8" y1="165.3" x2="587.8" y2="164.3" stroke="#333" stroke-width="0.6" />
<line x1="587.8" y1="16.5" x2="587.8" y2="17.5" stroke="#333" stroke-width="0.6" />
<line x1="597.8" y1="165.3" x2="597.8" y2="163.7" stroke="#333" stroke-width="0.6" />
<line x1="597.8" y1="16.5" x2="597.8" y2="18.1" stroke="#333" stroke-width="0.6" />
<line x1="607.8" y1="165.3" x2="607.8" y2="164.3" stroke="#333" stroke-width="0.6" />
<line x1="607.8" y1="16.5" x2="607.8" y2="17.5" stroke="#333" stroke-width="0.6" />
<line x1="617.8" y1="165.3" x2="617.8" y2="164.3" stroke="#333" stroke-width="0.6" />
<line x1="617.8" y1="16.5" x2="617.8" y2="17.5" stroke="#333" stroke-width="0.6" />
<line x1="627.8" y1="165.3" x2="627.8" y2="164.3" stroke="#333" stroke-width="0.6" />
<line x1="627.8" y1="16.5" x2="627.8" y2="17.5" stroke="#333" stroke-width="0.6" />
<line x1="637.8" y1="165.3" x2="637.8" y2="164.3" stroke="#333" stroke-width="0.6" />
<line x1="637.8" y1="16.5" x2="637.8" y2="17.5" stroke="#333" stroke-width="0.6" />
<text x="444.8" y="168.1" font-size="7.6" text-anchor="end" fill="#333" font-weight="normal" font-family='"Liberation Sans", sans-serif' >-20</text>
<line x1="447.8" y1="140.5" x2="449.6" y2="140.5" stroke="#333" stroke-width="0.6" />
<line x1="647.8" y1="140.5" x2="646" y2="140.5" stroke="#333" stroke-width="0.6" />
<text x="444.8" y="143.3" font-size="7.6" text-anchor="end" fill="#333" font-weight="normal" font-family='"Liberation Sans", sans-serif' >0</text>
<line x1="447.8" y1="115.7" x2="449.6" y2="115.7" stroke="#333" stroke-width="0.6" />
<line x1="647.8" y1="115.7" x2="646" y2="115.7" stroke="#333" stroke-width="0.6" />
<text x="444.8" y="118.5" font-size="7.6" text-anchor="end" fill="#333" font-weight="normal" font-family='"Liberation Sans", sans-serif' >20</text>
<line x1="447.8" y1="90.9" x2="449.6" y2="90.9" stroke="#333" stroke-width="0.6" />
<line x1="647.8" y1="90.9" x2="646" y2="90.9" stroke="#333" stroke-width="0.6" />
<text x="444.8" y="93.7" font-size="7.6" text-anchor="end" fill="#333" font-weight="normal" font-family='"Liberation Sans", sans-serif' >40</text>
<line x1="447.8" y1="66.1" x2="449.6" y2="66.1" stroke="#333" stroke-width="0.6" />
<line x1="647.8" y1="66.1" x2="646" y2="66.1" stroke="#333" stroke-width="0.6" />
<text x="444.8" y="68.9" font-size="7.6" text-anchor="end" fill="#333" font-weight="normal" font-family='"Liberation Sans", sans-serif' >60</text>
<line x1="447.8" y1="41.3" x2="449.6" y2="41.3" stroke="#333" stroke-width="0.6" />
<line x1="647.8" y1="41.3" x2="646" y2="41.3" stroke="#333" stroke-width="0.6" />
<text x="444.8" y="44.1" font-size="7.6" text-anchor="end" fill="#333" font-weight="normal" font-family='"Liberation Sans", sans-serif' >80</text>
<text x="444.8" y="19.3" font-size="7.6" text-anchor="end" fill="#333" font-weight="normal" font-family='"Liberation Sans", sans-serif' >100</text>
<text x="448.9" y="176" font-size="7.8" text-anchor="middle" fill="#333" font-family='"Liberation Sans", sans-serif'>10<tspan font-size="5.6" dy="-3">-10</tspan></text>
<text x="498.9" y="176" font-size="7.8" text-anchor="middle" fill="#333" font-family='"Liberation Sans", sans-serif'>10<tspan font-size="5.6" dy="-3">-5</tspan></text>
<text x="548.9" y="176" font-size="7.8" text-anchor="middle" fill="#333" font-family='"Liberation Sans", sans-serif'>10<tspan font-size="5.6" dy="-3">0</tspan></text>
<text x="598.9" y="176" font-size="7.8" text-anchor="middle" fill="#333" font-family='"Liberation Sans", sans-serif'>10<tspan font-size="5.6" dy="-3">5</tspan></text>
<text x="648.9" y="176" font-size="7.8" text-anchor="middle" fill="#333" font-family='"Liberation Sans", sans-serif'>10<tspan font-size="5.6" dy="-3">10</tspan></text>
<text x="548" y="185.5" font-size="8" text-anchor="middle" fill="#333" font-family='"Liberation Sans", sans-serif'>Time <tspan font-style="italic">t</tspan> [s]</text>
<text transform="translate(430.2,91.5) rotate(-90)" font-size="8" text-anchor="middle" fill="#333" font-family='"Liberation Sans", sans-serif'>Temperature <tspan font-style="italic">T</tspan> [°C]</text>
<defs><linearGradient id="parula" x1="0" x2="0" y1="1" y2="0">
<stop offset="0.000" stop-color="#3d26a8"/>
<stop offset="0.048" stop-color="#4332ca"/>
<stop offset="0.095" stop-color="#4641e5"/>
<stop offset="0.143" stop-color="#4752f4"/>
<stop offset="0.190" stop-color="#4463fc"/>
<stop offset="0.238" stop-color="#3875fe"/>
<stop offset="0.286" stop-color="#2d86f6"/>
<stop offset="0.333" stop-color="#2796eb"/>
<stop offset="0.381" stop-color="#1fa4e2"/>
<stop offset="0.429" stop-color="#11b1d6"/>
<stop offset="0.476" stop-color="#01bac3"/>
<stop offset="0.524" stop-color="#23c1ae"/>
<stop offset="0.571" stop-color="#37c797"/>
<stop offset="0.619" stop-color="#56cc7a"/>
<stop offset="0.667" stop-color="#80cb58"/>
<stop offset="0.714" stop-color="#abc638"/>
<stop offset="0.762" stop-color="#d1bf27"/>
<stop offset="0.810" stop-color="#efb935"/>
<stop offset="0.857" stop-color="#fec338"/>
<stop offset="0.905" stop-color="#f9d52d"/>
<stop offset="0.952" stop-color="#f4e824"/>
<stop offset="1.000" stop-color="#f9fa14"/>
<stop offset="1" stop-color="#f9fa14"/>
</linearGradient></defs>
<rect x="653.9" y="17.2" width="4.399999999999977" height="148.10000000000002" fill="url(#parula)" stroke="#444" stroke-width="0.6"/>
<line x1="653.9" y1="161.13" x2="654.9" y2="161.13" stroke="#333" stroke-width="0.5" />
<line x1="658.3" y1="161.13" x2="657.3" y2="161.13" stroke="#333" stroke-width="0.5" />
<text x="660.9" y="163.93" font-size="7.6" text-anchor="start" fill="#333" font-weight="normal" font-family='"Liberation Sans", sans-serif' >0.5</text>
<line x1="653.9" y1="140.27" x2="654.9" y2="140.27" stroke="#333" stroke-width="0.5" />
<line x1="658.3" y1="140.27" x2="657.3" y2="140.27" stroke="#333" stroke-width="0.5" />
<text x="660.9" y="143.07" font-size="7.6" text-anchor="start" fill="#333" font-weight="normal" font-family='"Liberation Sans", sans-serif' >1</text>
<line x1="653.9" y1="119.41" x2="654.9" y2="119.41" stroke="#333" stroke-width="0.5" />
<line x1="658.3" y1="119.41" x2="657.3" y2="119.41" stroke="#333" stroke-width="0.5" />
<text x="660.9" y="122.21" font-size="7.6" text-anchor="start" fill="#333" font-weight="normal" font-family='"Liberation Sans", sans-serif' >1.5</text>
<line x1="653.9" y1="98.55" x2="654.9" y2="98.55" stroke="#333" stroke-width="0.5" />
<line x1="658.3" y1="98.55" x2="657.3" y2="98.55" stroke="#333" stroke-width="0.5" />
<text x="660.9" y="101.35" font-size="7.6" text-anchor="start" fill="#333" font-weight="normal" font-family='"Liberation Sans", sans-serif' >2</text>
<line x1="653.9" y1="77.69" x2="654.9" y2="77.69" stroke="#333" stroke-width="0.5" />
<line x1="658.3" y1="77.69" x2="657.3" y2="77.69" stroke="#333" stroke-width="0.5" />
<text x="660.9" y="80.49" font-size="7.6" text-anchor="start" fill="#333" font-weight="normal" font-family='"Liberation Sans", sans-serif' >2.5</text>
<line x1="653.9" y1="56.83" x2="654.9" y2="56.83" stroke="#333" stroke-width="0.5" />
<line x1="658.3" y1="56.83" x2="657.3" y2="56.83" stroke="#333" stroke-width="0.5" />
<text x="660.9" y="59.63" font-size="7.6" text-anchor="start" fill="#333" font-weight="normal" font-family='"Liberation Sans", sans-serif' >3</text>
<line x1="653.9" y1="35.97" x2="654.9" y2="35.97" stroke="#333" stroke-width="0.5" />
<line x1="658.3" y1="35.97" x2="657.3" y2="35.97" stroke="#333" stroke-width="0.5" />
<text x="660.9" y="38.77" font-size="7.6" text-anchor="start" fill="#333" font-weight="normal" font-family='"Liberation Sans", sans-serif' >3.5</text>
<text transform="translate(679.8,91) rotate(-90)" font-size="8" text-anchor="middle" fill="#333" font-family='"Liberation Sans", sans-serif'>Percolation Exponent <tspan font-style="italic">μ</tspan> [-]</text>
<text x="422.7" y="202.7" font-size="13" text-anchor="start" fill="#111" font-weight="bold" font-family='"Liberation Sans", sans-serif' >d</text>
<text x="563.1" y="203.1" font-size="8" text-anchor="middle" fill="#222" font-weight="normal" font-family='"Liberation Sans", sans-serif' >Comparison at 22°C</text>
<rect x="452.6" y="207.9" width="220.69999999999993" height="182.70000000000002" fill="none" stroke="#444" stroke-width="0.9"/>
<line x1="463.63" y1="390.6" x2="463.63" y2="389.4" stroke="#444" stroke-width="0.7" />
<line x1="463.63" y1="207.9" x2="463.63" y2="209.1" stroke="#444" stroke-width="0.7" />
<line x1="474.67" y1="390.6" x2="474.67" y2="389.4" stroke="#444" stroke-width="0.7" />
<line x1="474.67" y1="207.9" x2="474.67" y2="209.1" stroke="#444" stroke-width="0.7" />
<line x1="485.71" y1="390.6" x2="485.71" y2="389.4" stroke="#444" stroke-width="0.7" />
<line x1="485.71" y1="207.9" x2="485.71" y2="209.1" stroke="#444" stroke-width="0.7" />
<line x1="496.74" y1="390.6" x2="496.74" y2="389.4" stroke="#444" stroke-width="0.7" />
<line x1="496.74" y1="207.9" x2="496.74" y2="209.1" stroke="#444" stroke-width="0.7" />
<line x1="507.77" y1="390.6" x2="507.77" y2="388.6" stroke="#444" stroke-width="0.7" />
<line x1="507.77" y1="207.9" x2="507.77" y2="209.9" stroke="#444" stroke-width="0.7" />
<line x1="518.81" y1="390.6" x2="518.81" y2="389.4" stroke="#444" stroke-width="0.7" />
<line x1="518.81" y1="207.9" x2="518.81" y2="209.1" stroke="#444" stroke-width="0.7" />
<line x1="529.85" y1="390.6" x2="529.85" y2="389.4" stroke="#444" stroke-width="0.7" />
<line x1="529.85" y1="207.9" x2="529.85" y2="209.1" stroke="#444" stroke-width="0.7" />
<line x1="540.88" y1="390.6" x2="540.88" y2="389.4" stroke="#444" stroke-width="0.7" />
<line x1="540.88" y1="207.9" x2="540.88" y2="209.1" stroke="#444" stroke-width="0.7" />
<line x1="551.91" y1="390.6" x2="551.91" y2="389.4" stroke="#444" stroke-width="0.7" />
<line x1="551.91" y1="207.9" x2="551.91" y2="209.1" stroke="#444" stroke-width="0.7" />
<line x1="562.95" y1="390.6" x2="562.95" y2="388.6" stroke="#444" stroke-width="0.7" />
<line x1="562.95" y1="207.9" x2="562.95" y2="209.9" stroke="#444" stroke-width="0.7" />
<line x1="573.99" y1="390.6" x2="573.99" y2="389.4" stroke="#444" stroke-width="0.7" />
<line x1="573.99" y1="207.9" x2="573.99" y2="209.1" stroke="#444" stroke-width="0.7" />
<line x1="585.02" y1="390.6" x2="585.02" y2="389.4" stroke="#444" stroke-width="0.7" />
<line x1="585.02" y1="207.9" x2="585.02" y2="209.1" stroke="#444" stroke-width="0.7" />
<line x1="596.05" y1="390.6" x2="596.05" y2="389.4" stroke="#444" stroke-width="0.7" />
<line x1="596.05" y1="207.9" x2="596.05" y2="209.1" stroke="#444" stroke-width="0.7" />
<line x1="607.09" y1="390.6" x2="607.09" y2="389.4" stroke="#444" stroke-width="0.7" />
<line x1="607.09" y1="207.9" x2="607.09" y2="209.1" stroke="#444" stroke-width="0.7" />
<line x1="618.12" y1="390.6" x2="618.12" y2="388.6" stroke="#444" stroke-width="0.7" />
<line x1="618.12" y1="207.9" x2="618.12" y2="209.9" stroke="#444" stroke-width="0.7" />
<line x1="629.16" y1="390.6" x2="629.16" y2="389.4" stroke="#444" stroke-width="0.7" />
<line x1="629.16" y1="207.9" x2="629.16" y2="209.1" stroke="#444" stroke-width="0.7" />
<line x1="640.19" y1="390.6" x2="640.19" y2="389.4" stroke="#444" stroke-width="0.7" />
<line x1="640.19" y1="207.9" x2="640.19" y2="209.1" stroke="#444" stroke-width="0.7" />
<line x1="651.23" y1="390.6" x2="651.23" y2="389.4" stroke="#444" stroke-width="0.7" />
<line x1="651.23" y1="207.9" x2="651.23" y2="209.1" stroke="#444" stroke-width="0.7" />
<line x1="662.26" y1="390.6" x2="662.26" y2="389.4" stroke="#444" stroke-width="0.7" />
<line x1="662.26" y1="207.9" x2="662.26" y2="209.1" stroke="#444" stroke-width="0.7" />
<text x="449.8" y="393.4" font-size="7.8" text-anchor="end" fill="#333" font-weight="normal" font-family='"Liberation Sans", sans-serif' >0</text>
<line x1="452.6" y1="344.93" x2="454.8" y2="344.93" stroke="#444" stroke-width="0.8" />
<line x1="673.3" y1="344.93" x2="671.1" y2="344.93" stroke="#444" stroke-width="0.8" />
<text x="449.8" y="347.73" font-size="7.8" text-anchor="end" fill="#333" font-weight="normal" font-family='"Liberation Sans", sans-serif' >500</text>
<line x1="452.6" y1="299.25" x2="454.8" y2="299.25" stroke="#444" stroke-width="0.8" />
<line x1="673.3" y1="299.25" x2="671.1" y2="299.25" stroke="#444" stroke-width="0.8" />
<text x="449.8" y="302.05" font-size="7.8" text-anchor="end" fill="#333" font-weight="normal" font-family='"Liberation Sans", sans-serif' >1000</text>
<line x1="452.6" y1="253.58" x2="454.8" y2="253.58" stroke="#444" stroke-width="0.8" />
<line x1="673.3" y1="253.58" x2="671.1" y2="253.58" stroke="#444" stroke-width="0.8" />
<text x="449.8" y="256.38" font-size="7.8" text-anchor="end" fill="#333" font-weight="normal" font-family='"Liberation Sans", sans-serif' >1500</text>
<text x="449.8" y="210.7" font-size="7.8" text-anchor="end" fill="#333" font-weight="normal" font-family='"Liberation Sans", sans-serif' >2000</text>
<text x="452.6" y="403.9" font-size="8.4" text-anchor="middle" fill="#333" font-family='"Liberation Sans", sans-serif'>10<tspan font-size="6.7" dy="-3.8">-10</tspan></text>
<text x="507.77" y="403.9" font-size="8.4" text-anchor="middle" fill="#333" font-family='"Liberation Sans", sans-serif'>10<tspan font-size="6.7" dy="-3.8">-5</tspan></text>
<text x="562.95" y="403.9" font-size="8.4" text-anchor="middle" fill="#333" font-family='"Liberation Sans", sans-serif'>10<tspan font-size="6.7" dy="-3.8">0</tspan></text>
<text x="618.12" y="403.9" font-size="8.4" text-anchor="middle" fill="#333" font-family='"Liberation Sans", sans-serif'>10<tspan font-size="6.7" dy="-3.8">5</tspan></text>
<text x="672.9" y="403.9" font-size="8.4" text-anchor="middle" fill="#333" font-family='"Liberation Sans", sans-serif'>10<tspan font-size="6.7" dy="-3.8">10</tspan></text>
<text x="562.5" y="415" font-size="8" text-anchor="middle" fill="#333" font-family='"Liberation Sans", sans-serif'>Time <tspan font-style="italic">t</tspan> [s]</text>
<text transform="translate(429.5,299) rotate(-90)" font-size="8" text-anchor="middle" fill="#333" font-family='"Liberation Sans", sans-serif'>Storage Modulus <tspan font-style="italic">E'</tspan> [MPa]</text>
<path d="M452.6,213.4 L453.15,213.47 L453.71,213.54 L454.26,213.61 L454.81,213.69 L455.37,213.77 L455.92,213.86 L456.47,213.95 L457.03,214.05 L457.58,214.14 L458.13,214.25 L458.68,214.35 L459.24,214.46 L459.79,214.58 L460.34,214.7 L460.9,214.82 L461.45,214.95 L462,215.08 L462.56,215.21 L463.11,215.35 L463.66,215.49 L464.22,215.63 L464.77,215.78 L465.32,215.93 L465.88,216.09 L466.43,216.25 L466.98,216.41 L467.53,216.58 L468.09,216.75 L468.64,216.92 L469.19,217.1 L469.75,217.28 L470.3,217.46 L470.85,217.65 L471.41,217.84 L471.96,218.04 L472.51,218.23 L473.07,218.43 L473.62,218.64 L474.17,218.84 L474.73,219.05 L475.28,219.27 L475.83,219.48 L476.38,219.7 L476.94,219.93 L477.49,220.15 L478.04,220.38 L478.6,220.61 L479.15,220.85 L479.7,221.09 L480.26,221.33 L480.81,221.57 L481.36,221.82 L481.92,222.07 L482.47,222.32 L483.02,222.58 L483.58,222.84 L484.13,223.1 L484.68,223.36 L485.23,223.63 L485.79,223.9 L486.34,224.17 L486.89,224.44 L487.45,224.72 L488,225 L488.55,225.28 L489.11,225.57 L489.66,225.86 L490.21,226.15 L490.77,226.44 L491.32,226.73 L491.87,227.03 L492.43,227.33 L492.98,227.64 L493.53,227.94 L494.08,228.25 L494.64,228.56 L495.19,228.87 L495.74,229.18 L496.3,229.5 L496.85,229.82 L497.4,230.14 L497.96,230.46 L498.51,230.79 L499.06,231.11 L499.62,231.44 L500.17,231.77 L500.72,232.11 L501.28,232.44 L501.83,232.78 L502.38,233.12 L502.94,233.46 L503.49,233.8 L504.04,234.15 L504.59,234.5 L505.15,234.84 L505.7,235.2 L506.25,235.55 L506.81,235.9 L507.36,236.26 L507.91,236.62 L508.47,236.98 L509.02,237.34 L509.57,237.7 L510.13,238.06 L510.68,238.43 L511.23,238.8 L511.79,239.17 L512.34,239.54 L512.89,239.91 L513.44,240.28 L514,240.66 L514.55,241.03 L515.1,241.41 L515.66,241.79 L516.21,242.17 L516.76,242.55 L517.32,242.94 L517.87,243.32 L518.42,243.71 L518.98,244.09 L519.53,244.48 L520.08,244.87 L520.64,245.26 L521.19,245.65 L521.74,246.04 L522.29,246.44 L522.85,246.83 L523.4,247.23 L523.95,247.63 L524.51,248.02 L525.06,248.42 L525.61,248.82 L526.17,249.22 L526.72,249.62 L527.27,250.03 L527.83,250.43 L528.38,250.83 L528.93,251.24 L529.49,251.64 L530.04,252.05 L530.59,252.46 L531.14,252.86 L531.7,253.27 L532.25,253.68 L532.8,254.09 L533.36,254.51 L533.91,254.92 L534.46,255.34 L535.02,255.75 L535.57,256.17 L536.12,256.59 L536.68,257.01 L537.23,257.44 L537.78,257.86 L538.34,258.29 L538.89,258.72 L539.44,259.15 L539.99,259.58 L540.55,260.02 L541.1,260.45 L541.65,260.89 L542.21,261.34 L542.76,261.78 L543.31,262.23 L543.87,262.68 L544.42,263.13 L544.97,263.59 L545.53,264.04 L546.08,264.5 L546.63,264.97 L547.19,265.44 L547.74,265.91 L548.29,266.38 L548.85,266.86 L549.4,267.34 L549.95,267.82 L550.5,268.31 L551.06,268.8 L551.61,269.29 L552.16,269.79 L552.72,270.29 L553.27,270.79 L553.82,271.3 L554.38,271.82 L554.93,272.33 L555.48,272.85 L556.04,273.38 L556.59,273.91 L557.14,274.44 L557.7,274.98 L558.25,275.53 L558.8,276.07 L559.35,276.63 L559.91,277.18 L560.46,277.74 L561.01,278.31 L561.57,278.88 L562.12,279.46 L562.67,280.04 L563.23,280.63 L563.78,281.22 L564.33,281.81 L564.89,282.42 L565.44,283.02 L565.99,283.64 L566.55,284.26 L567.1,284.88 L567.65,285.51 L568.2,286.15 L568.76,286.79 L569.31,287.44 L569.86,288.09 L570.42,288.75 L570.97,289.42 L571.52,290.09 L572.08,290.77 L572.63,291.45 L573.18,292.14 L573.74,292.84 L574.29,293.54 L574.84,294.26 L575.4,294.97 L575.95,295.7 L576.5,296.43 L577.05,297.17 L577.61,297.91 L578.16,298.66 L578.71,299.42 L579.27,300.19 L579.82,300.96 L580.37,301.75 L580.93,302.53 L581.48,303.33 L582.03,304.13 L582.59,304.95 L583.14,305.76 L583.69,306.59 L584.25,307.42 L584.8,308.26 L585.35,309.11 L585.91,309.96 L586.46,310.82 L587.01,311.69 L587.56,312.56 L588.12,313.43 L588.67,314.31 L589.22,315.19 L589.78,316.08 L590.33,316.98 L590.88,317.87 L591.44,318.77 L591.99,319.68 L592.54,320.58 L593.1,321.49 L593.65,322.4 L594.2,323.31 L594.76,324.23 L595.31,325.15 L595.86,326.07 L596.41,326.98 L596.97,327.91 L597.52,328.83 L598.07,329.75 L598.63,330.67 L599.18,331.59 L599.73,332.51 L600.29,333.43 L600.84,334.35 L601.39,335.26 L601.95,336.18 L602.5,337.09 L603.05,338.01 L603.61,338.91 L604.16,339.82 L604.71,340.72 L605.26,341.63 L605.82,342.52 L606.37,343.42 L606.92,344.3 L607.48,345.19 L608.03,346.07 L608.58,346.95 L609.14,347.82 L609.69,348.68 L610.24,349.54 L610.8,350.39 L611.35,351.24 L611.9,352.08 L612.46,352.92 L613.01,353.74 L613.56,354.56 L614.11,355.38 L614.67,356.18 L615.22,356.98 L615.77,357.77 L616.33,358.55 L616.88,359.32 L617.43,360.08 L617.99,360.83 L618.54,361.57 L619.09,362.31 L619.65,363.03 L620.2,363.74 L620.75,364.44 L621.31,365.13 L621.86,365.81 L622.41,366.48 L622.96,367.14 L623.52,367.78 L624.07,368.41 L624.62,369.03 L625.18,369.64 L625.73,370.23 L626.28,370.81 L626.84,371.38 L627.39,371.93 L627.94,372.47 L628.5,373 L629.05,373.51 L629.6,374.02 L630.16,374.51 L630.71,374.99 L631.26,375.45 L631.82,375.91 L632.37,376.35 L632.92,376.78 L633.47,377.2 L634.03,377.61 L634.58,378.01 L635.13,378.4 L635.69,378.78 L636.24,379.15 L636.79,379.5 L637.35,379.85 L637.9,380.19 L638.45,380.51 L639.01,380.83 L639.56,381.14 L640.11,381.44 L640.67,381.72 L641.22,382 L641.77,382.28 L642.32,382.54 L642.88,382.79 L643.43,383.04 L643.98,383.28 L644.54,383.51 L645.09,383.73 L645.64,383.94 L646.2,384.15 L646.75,384.35 L647.3,384.54 L647.86,384.72 L648.41,384.9 L648.96,385.07 L649.52,385.23 L650.07,385.39 L650.62,385.54 L651.17,385.69 L651.73,385.83 L652.28,385.96 L652.83,386.09 L653.39,386.21 L653.94,386.32 L654.49,386.44 L655.05,386.54 L655.6,386.64 L656.15,386.74 L656.71,386.83 L657.26,386.92 L657.81,387 L658.37,387.08 L658.92,387.16 L659.47,387.23 L660.02,387.3 L660.58,387.36 L661.13,387.43 L661.68,387.48 L662.24,387.54 L662.79,387.59 L663.34,387.64 L663.9,387.69 L664.45,387.73 L665,387.78 L665.56,387.82 L666.11,387.86 L666.66,387.89 L667.22,387.93 L667.77,387.96 L668.32,388 L668.87,388.03 L669.43,388.06 L669.98,388.09 L670.53,388.12 L671.09,388.15 L671.64,388.18 L672.19,388.21 L672.75,388.24 L673.3,388.27" fill="none" stroke="#a8c2c1" stroke-width="1.75"/>
<path d="M452.6,226.6 L453.15,226.71 L453.71,226.81 L454.26,226.92 L454.81,227.04 L455.37,227.15 L455.92,227.28 L456.47,227.4 L457.03,227.53 L457.58,227.67 L458.13,227.8 L458.68,227.95 L459.24,228.09 L459.79,228.24 L460.34,228.39 L460.9,228.55 L461.45,228.71 L462,228.87 L462.56,229.04 L463.11,229.21 L463.66,229.39 L464.22,229.57 L464.77,229.75 L465.32,229.94 L465.88,230.13 L466.43,230.32 L466.98,230.52 L467.53,230.72 L468.09,230.93 L468.64,231.13 L469.19,231.35 L469.75,231.56 L470.3,231.78 L470.85,232 L471.41,232.23 L471.96,232.46 L472.51,232.69 L473.07,232.93 L473.62,233.17 L474.17,233.41 L474.73,233.66 L475.28,233.91 L475.83,234.16 L476.38,234.42 L476.94,234.68 L477.49,234.94 L478.04,235.21 L478.6,235.48 L479.15,235.75 L479.7,236.03 L480.26,236.31 L480.81,236.59 L481.36,236.88 L481.92,237.17 L482.47,237.46 L483.02,237.76 L483.58,238.06 L484.13,238.36 L484.68,238.67 L485.23,238.97 L485.79,239.29 L486.34,239.6 L486.89,239.92 L487.45,240.24 L488,240.57 L488.55,240.9 L489.11,241.23 L489.66,241.56 L490.21,241.9 L490.77,242.24 L491.32,242.58 L491.87,242.93 L492.43,243.27 L492.98,243.63 L493.53,243.98 L494.08,244.34 L494.64,244.7 L495.19,245.06 L495.74,245.43 L496.3,245.8 L496.85,246.17 L497.4,246.55 L497.96,246.92 L498.51,247.31 L499.06,247.69 L499.62,248.08 L500.17,248.46 L500.72,248.86 L501.28,249.25 L501.83,249.65 L502.38,250.05 L502.94,250.45 L503.49,250.86 L504.04,251.27 L504.59,251.68 L505.15,252.09 L505.7,252.51 L506.25,252.92 L506.81,253.35 L507.36,253.77 L507.91,254.2 L508.47,254.63 L509.02,255.06 L509.57,255.49 L510.13,255.93 L510.68,256.37 L511.23,256.81 L511.79,257.25 L512.34,257.7 L512.89,258.15 L513.44,258.6 L514,259.06 L514.55,259.51 L515.1,259.97 L515.66,260.43 L516.21,260.9 L516.76,261.36 L517.32,261.83 L517.87,262.3 L518.42,262.77 L518.98,263.25 L519.53,263.73 L520.08,264.21 L520.64,264.69 L521.19,265.17 L521.74,265.66 L522.29,266.15 L522.85,266.64 L523.4,267.13 L523.95,267.63 L524.51,268.13 L525.06,268.62 L525.61,269.13 L526.17,269.63 L526.72,270.14 L527.27,270.64 L527.83,271.15 L528.38,271.67 L528.93,272.18 L529.49,272.7 L530.04,273.22 L530.59,273.74 L531.14,274.26 L531.7,274.78 L532.25,275.31 L532.8,275.84 L533.36,276.37 L533.91,276.9 L534.46,277.43 L535.02,277.97 L535.57,278.51 L536.12,279.05 L536.68,279.59 L537.23,280.13 L537.78,280.68 L538.34,281.22 L538.89,281.77 L539.44,282.32 L539.99,282.88 L540.55,283.43 L541.1,283.99 L541.65,284.54 L542.21,285.1 L542.76,285.66 L543.31,286.23 L543.87,286.79 L544.42,287.36 L544.97,287.92 L545.53,288.49 L546.08,289.06 L546.63,289.64 L547.19,290.21 L547.74,290.78 L548.29,291.36 L548.85,291.94 L549.4,292.52 L549.95,293.1 L550.5,293.69 L551.06,294.27 L551.61,294.86 L552.16,295.44 L552.72,296.03 L553.27,296.62 L553.82,297.21 L554.38,297.81 L554.93,298.4 L555.48,299 L556.04,299.6 L556.59,300.19 L557.14,300.79 L557.7,301.4 L558.25,302 L558.8,302.6 L559.35,303.21 L559.91,303.81 L560.46,304.42 L561.01,305.03 L561.57,305.64 L562.12,306.25 L562.67,306.86 L563.23,307.48 L563.78,308.09 L564.33,308.71 L564.89,309.33 L565.44,309.94 L565.99,310.56 L566.55,311.18 L567.1,311.81 L567.65,312.43 L568.2,313.05 L568.76,313.68 L569.31,314.3 L569.86,314.93 L570.42,315.56 L570.97,316.19 L571.52,316.81 L572.08,317.45 L572.63,318.08 L573.18,318.71 L573.74,319.34 L574.29,319.98 L574.84,320.62 L575.4,321.25 L575.95,321.89 L576.5,322.53 L577.05,323.17 L577.61,323.82 L578.16,324.46 L578.71,325.11 L579.27,325.76 L579.82,326.41 L580.37,327.06 L580.93,327.72 L581.48,328.37 L582.03,329.03 L582.59,329.69 L583.14,330.36 L583.69,331.02 L584.25,331.69 L584.8,332.36 L585.35,333.03 L585.91,333.71 L586.46,334.39 L587.01,335.07 L587.56,335.75 L588.12,336.44 L588.67,337.13 L589.22,337.82 L589.78,338.52 L590.33,339.21 L590.88,339.91 L591.44,340.62 L591.99,341.33 L592.54,342.04 L593.1,342.75 L593.65,343.47 L594.2,344.19 L594.76,344.91 L595.31,345.63 L595.86,346.35 L596.41,347.08 L596.97,347.8 L597.52,348.53 L598.07,349.25 L598.63,349.97 L599.18,350.69 L599.73,351.41 L600.29,352.13 L600.84,352.84 L601.39,353.55 L601.95,354.26 L602.5,354.96 L603.05,355.66 L603.61,356.35 L604.16,357.04 L604.71,357.73 L605.26,358.4 L605.82,359.08 L606.37,359.74 L606.92,360.4 L607.48,361.05 L608.03,361.69 L608.58,362.32 L609.14,362.95 L609.69,363.56 L610.24,364.17 L610.8,364.77 L611.35,365.35 L611.9,365.93 L612.46,366.49 L613.01,367.04 L613.56,367.59 L614.11,368.12 L614.67,368.64 L615.22,369.16 L615.77,369.66 L616.33,370.15 L616.88,370.64 L617.43,371.11 L617.99,371.57 L618.54,372.03 L619.09,372.48 L619.65,372.91 L620.2,373.34 L620.75,373.76 L621.31,374.17 L621.86,374.57 L622.41,374.96 L622.96,375.34 L623.52,375.72 L624.07,376.08 L624.62,376.44 L625.18,376.79 L625.73,377.14 L626.28,377.47 L626.84,377.8 L627.39,378.12 L627.94,378.43 L628.5,378.73 L629.05,379.03 L629.6,379.32 L630.16,379.6 L630.71,379.88 L631.26,380.15 L631.82,380.41 L632.37,380.67 L632.92,380.92 L633.47,381.16 L634.03,381.39 L634.58,381.62 L635.13,381.85 L635.69,382.07 L636.24,382.28 L636.79,382.49 L637.35,382.69 L637.9,382.88 L638.45,383.07 L639.01,383.26 L639.56,383.44 L640.11,383.61 L640.67,383.78 L641.22,383.95 L641.77,384.11 L642.32,384.26 L642.88,384.41 L643.43,384.56 L643.98,384.7 L644.54,384.84 L645.09,384.97 L645.64,385.1 L646.2,385.23 L646.75,385.35 L647.3,385.47 L647.86,385.58 L648.41,385.7 L648.96,385.8 L649.52,385.91 L650.07,386.01 L650.62,386.11 L651.17,386.21 L651.73,386.3 L652.28,386.39 L652.83,386.48 L653.39,386.57 L653.94,386.65 L654.49,386.73 L655.05,386.81 L655.6,386.89 L656.15,386.97 L656.71,387.04 L657.26,387.11 L657.81,387.18 L658.37,387.25 L658.92,387.32 L659.47,387.39 L660.02,387.45 L660.58,387.52 L661.13,387.58 L661.68,387.65 L662.24,387.71 L662.79,387.77 L663.34,387.83 L663.9,387.89 L664.45,387.96 L665,388.02 L665.56,388.08 L666.11,388.14 L666.66,388.2 L667.22,388.26 L667.77,388.33 L668.32,388.39 L668.87,388.45 L669.43,388.52 L669.98,388.58 L670.53,388.65 L671.09,388.72 L671.64,388.79 L672.19,388.86 L672.75,388.93 L673.3,389" fill="none" stroke="#8ba3a2" stroke-width="1.75"/>
<path d="M452.6,247.03 L453.15,247.14 L453.71,247.26 L454.26,247.39 L454.81,247.52 L455.37,247.66 L455.92,247.8 L456.47,247.95 L457.03,248.11 L457.58,248.27 L458.13,248.44 L458.68,248.61 L459.24,248.79 L459.79,248.97 L460.34,249.16 L460.9,249.35 L461.45,249.55 L462,249.76 L462.56,249.97 L463.11,250.18 L463.66,250.4 L464.22,250.63 L464.77,250.86 L465.32,251.1 L465.88,251.34 L466.43,251.58 L466.98,251.83 L467.53,252.09 L468.09,252.35 L468.64,252.62 L469.19,252.89 L469.75,253.16 L470.3,253.44 L470.85,253.73 L471.41,254.02 L471.96,254.31 L472.51,254.61 L473.07,254.91 L473.62,255.22 L474.17,255.53 L474.73,255.85 L475.28,256.17 L475.83,256.49 L476.38,256.82 L476.94,257.16 L477.49,257.5 L478.04,257.84 L478.6,258.19 L479.15,258.54 L479.7,258.89 L480.26,259.25 L480.81,259.61 L481.36,259.98 L481.92,260.35 L482.47,260.72 L483.02,261.1 L483.58,261.48 L484.13,261.87 L484.68,262.26 L485.23,262.65 L485.79,263.05 L486.34,263.45 L486.89,263.86 L487.45,264.26 L488,264.67 L488.55,265.09 L489.11,265.51 L489.66,265.93 L490.21,266.35 L490.77,266.78 L491.32,267.21 L491.87,267.65 L492.43,268.09 L492.98,268.53 L493.53,268.97 L494.08,269.42 L494.64,269.87 L495.19,270.32 L495.74,270.78 L496.3,271.24 L496.85,271.7 L497.4,272.16 L497.96,272.63 L498.51,273.1 L499.06,273.57 L499.62,274.05 L500.17,274.53 L500.72,275.01 L501.28,275.49 L501.83,275.98 L502.38,276.47 L502.94,276.96 L503.49,277.45 L504.04,277.95 L504.59,278.45 L505.15,278.95 L505.7,279.45 L506.25,279.95 L506.81,280.46 L507.36,280.97 L507.91,281.48 L508.47,282 L509.02,282.51 L509.57,283.03 L510.13,283.55 L510.68,284.07 L511.23,284.59 L511.79,285.12 L512.34,285.64 L512.89,286.17 L513.44,286.7 L514,287.24 L514.55,287.77 L515.1,288.3 L515.66,288.84 L516.21,289.38 L516.76,289.92 L517.32,290.46 L517.87,291 L518.42,291.55 L518.98,292.09 L519.53,292.64 L520.08,293.19 L520.64,293.74 L521.19,294.29 L521.74,294.84 L522.29,295.39 L522.85,295.94 L523.4,296.5 L523.95,297.05 L524.51,297.61 L525.06,298.17 L525.61,298.73 L526.17,299.28 L526.72,299.84 L527.27,300.4 L527.83,300.97 L528.38,301.53 L528.93,302.09 L529.49,302.65 L530.04,303.22 L530.59,303.78 L531.14,304.35 L531.7,304.91 L532.25,305.48 L532.8,306.04 L533.36,306.61 L533.91,307.17 L534.46,307.74 L535.02,308.31 L535.57,308.88 L536.12,309.44 L536.68,310.01 L537.23,310.58 L537.78,311.14 L538.34,311.71 L538.89,312.28 L539.44,312.85 L539.99,313.41 L540.55,313.98 L541.1,314.55 L541.65,315.11 L542.21,315.68 L542.76,316.24 L543.31,316.81 L543.87,317.37 L544.42,317.94 L544.97,318.5 L545.53,319.07 L546.08,319.63 L546.63,320.19 L547.19,320.75 L547.74,321.31 L548.29,321.87 L548.85,322.43 L549.4,322.99 L549.95,323.55 L550.5,324.11 L551.06,324.66 L551.61,325.22 L552.16,325.77 L552.72,326.32 L553.27,326.87 L553.82,327.42 L554.38,327.97 L554.93,328.52 L555.48,329.07 L556.04,329.62 L556.59,330.16 L557.14,330.7 L557.7,331.24 L558.25,331.79 L558.8,332.32 L559.35,332.86 L559.91,333.4 L560.46,333.93 L561.01,334.47 L561.57,335 L562.12,335.53 L562.67,336.06 L563.23,336.58 L563.78,337.11 L564.33,337.63 L564.89,338.16 L565.44,338.68 L565.99,339.2 L566.55,339.71 L567.1,340.23 L567.65,340.74 L568.2,341.25 L568.76,341.77 L569.31,342.27 L569.86,342.78 L570.42,343.29 L570.97,343.79 L571.52,344.29 L572.08,344.79 L572.63,345.29 L573.18,345.78 L573.74,346.28 L574.29,346.77 L574.84,347.26 L575.4,347.75 L575.95,348.23 L576.5,348.72 L577.05,349.2 L577.61,349.68 L578.16,350.16 L578.71,350.63 L579.27,351.11 L579.82,351.58 L580.37,352.05 L580.93,352.51 L581.48,352.98 L582.03,353.44 L582.59,353.9 L583.14,354.36 L583.69,354.81 L584.25,355.27 L584.8,355.72 L585.35,356.17 L585.91,356.61 L586.46,357.06 L587.01,357.5 L587.56,357.94 L588.12,358.37 L588.67,358.81 L589.22,359.24 L589.78,359.67 L590.33,360.09 L590.88,360.52 L591.44,360.94 L591.99,361.36 L592.54,361.77 L593.1,362.19 L593.65,362.6 L594.2,363.01 L594.76,363.41 L595.31,363.81 L595.86,364.21 L596.41,364.61 L596.97,365.01 L597.52,365.4 L598.07,365.79 L598.63,366.17 L599.18,366.56 L599.73,366.94 L600.29,367.31 L600.84,367.69 L601.39,368.06 L601.95,368.43 L602.5,368.79 L603.05,369.16 L603.61,369.52 L604.16,369.87 L604.71,370.23 L605.26,370.58 L605.82,370.92 L606.37,371.27 L606.92,371.61 L607.48,371.95 L608.03,372.28 L608.58,372.61 L609.14,372.94 L609.69,373.27 L610.24,373.59 L610.8,373.91 L611.35,374.22 L611.9,374.53 L612.46,374.84 L613.01,375.15 L613.56,375.45 L614.11,375.75 L614.67,376.04 L615.22,376.33 L615.77,376.62 L616.33,376.91 L616.88,377.19 L617.43,377.46 L617.99,377.74 L618.54,378.01 L619.09,378.28 L619.65,378.54 L620.2,378.8 L620.75,379.05 L621.31,379.31 L621.86,379.56 L622.41,379.8 L622.96,380.04 L623.52,380.28 L624.07,380.51 L624.62,380.74 L625.18,380.97 L625.73,381.19 L626.28,381.41 L626.84,381.63 L627.39,381.84 L627.94,382.05 L628.5,382.25 L629.05,382.45 L629.6,382.65 L630.16,382.85 L630.71,383.04 L631.26,383.23 L631.82,383.41 L632.37,383.59 L632.92,383.77 L633.47,383.94 L634.03,384.12 L634.58,384.28 L635.13,384.45 L635.69,384.61 L636.24,384.77 L636.79,384.92 L637.35,385.07 L637.9,385.22 L638.45,385.37 L639.01,385.51 L639.56,385.65 L640.11,385.79 L640.67,385.92 L641.22,386.05 L641.77,386.18 L642.32,386.3 L642.88,386.42 L643.43,386.54 L643.98,386.65 L644.54,386.77 L645.09,386.88 L645.64,386.98 L646.2,387.09 L646.75,387.19 L647.3,387.29 L647.86,387.38 L648.41,387.48 L648.96,387.57 L649.52,387.65 L650.07,387.74 L650.62,387.82 L651.17,387.9 L651.73,387.98 L652.28,388.05 L652.83,388.12 L653.39,388.19 L653.94,388.26 L654.49,388.32 L655.05,388.39 L655.6,388.44 L656.15,388.5 L656.71,388.56 L657.26,388.61 L657.81,388.66 L658.37,388.71 L658.92,388.75 L659.47,388.79 L660.02,388.83 L660.58,388.87 L661.13,388.91 L661.68,388.94 L662.24,388.97 L662.79,389 L663.34,389.03 L663.9,389.06 L664.45,389.08 L665,389.1 L665.56,389.12 L666.11,389.14 L666.66,389.15 L667.22,389.16 L667.77,389.18 L668.32,389.18 L668.87,389.19 L669.43,389.2 L669.98,389.2 L670.53,389.2 L671.09,389.2 L671.64,389.2 L672.19,389.2 L672.75,389.2 L673.3,389.2" fill="none" stroke="#6e8281" stroke-width="1.75"/>
<path d="M452.6,267.24 L453.15,267.43 L453.71,267.63 L454.26,267.84 L454.81,268.06 L455.37,268.3 L455.92,268.54 L456.47,268.8 L457.03,269.06 L457.58,269.34 L458.13,269.62 L458.68,269.91 L459.24,270.22 L459.79,270.53 L460.34,270.85 L460.9,271.19 L461.45,271.53 L462,271.88 L462.56,272.24 L463.11,272.61 L463.66,272.98 L464.22,273.37 L464.77,273.76 L465.32,274.17 L465.88,274.58 L466.43,275 L466.98,275.42 L467.53,275.86 L468.09,276.3 L468.64,276.75 L469.19,277.21 L469.75,277.68 L470.3,278.15 L470.85,278.63 L471.41,279.12 L471.96,279.62 L472.51,280.12 L473.07,280.63 L473.62,281.15 L474.17,281.67 L474.73,282.2 L475.28,282.73 L475.83,283.28 L476.38,283.82 L476.94,284.38 L477.49,284.94 L478.04,285.5 L478.6,286.08 L479.15,286.65 L479.7,287.24 L480.26,287.82 L480.81,288.42 L481.36,289.02 L481.92,289.62 L482.47,290.23 L483.02,290.84 L483.58,291.46 L484.13,292.09 L484.68,292.71 L485.23,293.34 L485.79,293.98 L486.34,294.62 L486.89,295.27 L487.45,295.91 L488,296.57 L488.55,297.22 L489.11,297.88 L489.66,298.55 L490.21,299.21 L490.77,299.88 L491.32,300.55 L491.87,301.23 L492.43,301.91 L492.98,302.59 L493.53,303.28 L494.08,303.96 L494.64,304.65 L495.19,305.34 L495.74,306.04 L496.3,306.73 L496.85,307.43 L497.4,308.13 L497.96,308.83 L498.51,309.54 L499.06,310.24 L499.62,310.95 L500.17,311.66 L500.72,312.37 L501.28,313.08 L501.83,313.79 L502.38,314.5 L502.94,315.22 L503.49,315.93 L504.04,316.64 L504.59,317.36 L505.15,318.07 L505.7,318.79 L506.25,319.51 L506.81,320.22 L507.36,320.94 L507.91,321.65 L508.47,322.37 L509.02,323.08 L509.57,323.8 L510.13,324.51 L510.68,325.22 L511.23,325.93 L511.79,326.65 L512.34,327.35 L512.89,328.06 L513.44,328.77 L514,329.48 L514.55,330.18 L515.1,330.88 L515.66,331.58 L516.21,332.28 L516.76,332.98 L517.32,333.67 L517.87,334.36 L518.42,335.05 L518.98,335.74 L519.53,336.43 L520.08,337.11 L520.64,337.79 L521.19,338.47 L521.74,339.14 L522.29,339.81 L522.85,340.48 L523.4,341.14 L523.95,341.8 L524.51,342.46 L525.06,343.11 L525.61,343.76 L526.17,344.4 L526.72,345.04 L527.27,345.68 L527.83,346.31 L528.38,346.94 L528.93,347.57 L529.49,348.19 L530.04,348.8 L530.59,349.41 L531.14,350.02 L531.7,350.62 L532.25,351.21 L532.8,351.8 L533.36,352.38 L533.91,352.96 L534.46,353.53 L535.02,354.1 L535.57,354.66 L536.12,355.22 L536.68,355.77 L537.23,356.31 L537.78,356.85 L538.34,357.38 L538.89,357.9 L539.44,358.42 L539.99,358.93 L540.55,359.43 L541.1,359.93 L541.65,360.42 L542.21,360.9 L542.76,361.38 L543.31,361.85 L543.87,362.31 L544.42,362.76 L544.97,363.21 L545.53,363.65 L546.08,364.09 L546.63,364.52 L547.19,364.94 L547.74,365.36 L548.29,365.77 L548.85,366.17 L549.4,366.57 L549.95,366.96 L550.5,367.34 L551.06,367.72 L551.61,368.09 L552.16,368.46 L552.72,368.82 L553.27,369.18 L553.82,369.53 L554.38,369.87 L554.93,370.21 L555.48,370.54 L556.04,370.87 L556.59,371.19 L557.14,371.5 L557.7,371.81 L558.25,372.12 L558.8,372.42 L559.35,372.71 L559.91,373 L560.46,373.29 L561.01,373.57 L561.57,373.84 L562.12,374.11 L562.67,374.38 L563.23,374.64 L563.78,374.89 L564.33,375.14 L564.89,375.39 L565.44,375.63 L565.99,375.87 L566.55,376.1 L567.1,376.33 L567.65,376.55 L568.2,376.77 L568.76,376.98 L569.31,377.19 L569.86,377.4 L570.42,377.6 L570.97,377.8 L571.52,378 L572.08,378.19 L572.63,378.38 L573.18,378.56 L573.74,378.74 L574.29,378.92 L574.84,379.09 L575.4,379.26 L575.95,379.42 L576.5,379.58 L577.05,379.74 L577.61,379.9 L578.16,380.05 L578.71,380.2 L579.27,380.35 L579.82,380.49 L580.37,380.63 L580.93,380.76 L581.48,380.9 L582.03,381.03 L582.59,381.16 L583.14,381.28 L583.69,381.41 L584.25,381.53 L584.8,381.64 L585.35,381.76 L585.91,381.87 L586.46,381.98 L587.01,382.09 L587.56,382.2 L588.12,382.3 L588.67,382.4 L589.22,382.5 L589.78,382.6 L590.33,382.7 L590.88,382.79 L591.44,382.88 L591.99,382.97 L592.54,383.06 L593.1,383.14 L593.65,383.23 L594.2,383.31 L594.76,383.39 L595.31,383.47 L595.86,383.54 L596.41,383.62 L596.97,383.69 L597.52,383.76 L598.07,383.83 L598.63,383.9 L599.18,383.97 L599.73,384.03 L600.29,384.1 L600.84,384.16 L601.39,384.22 L601.95,384.28 L602.5,384.34 L603.05,384.39 L603.61,384.45 L604.16,384.5 L604.71,384.55 L605.26,384.61 L605.82,384.66 L606.37,384.7 L606.92,384.75 L607.48,384.8 L608.03,384.84 L608.58,384.89 L609.14,384.93 L609.69,384.97 L610.24,385.01 L610.8,385.05 L611.35,385.09 L611.9,385.13 L612.46,385.16 L613.01,385.2 L613.56,385.23 L614.11,385.27 L614.67,385.3 L615.22,385.33 L615.77,385.37 L616.33,385.4 L616.88,385.43 L617.43,385.46 L617.99,385.49 L618.54,385.51 L619.09,385.54 L619.65,385.57 L620.2,385.59 L620.75,385.62 L621.31,385.65 L621.86,385.67 L622.41,385.69 L622.96,385.72 L623.52,385.74 L624.07,385.77 L624.62,385.79 L625.18,385.81 L625.73,385.83 L626.28,385.85 L626.84,385.88 L627.39,385.9 L627.94,385.92 L628.5,385.94 L629.05,385.96 L629.6,385.98 L630.16,386 L630.71,386.02 L631.26,386.04 L631.82,386.07 L632.37,386.09 L632.92,386.11 L633.47,386.13 L634.03,386.15 L634.58,386.17 L635.13,386.19 L635.69,386.21 L636.24,386.24 L636.79,386.26 L637.35,386.28 L637.9,386.3 L638.45,386.33 L639.01,386.35 L639.56,386.37 L640.11,386.4 L640.67,386.42 L641.22,386.45 L641.77,386.47 L642.32,386.5 L642.88,386.52 L643.43,386.55 L643.98,386.58 L644.54,386.61 L645.09,386.64 L645.64,386.67 L646.2,386.7 L646.75,386.73 L647.3,386.76 L647.86,386.79 L648.41,386.82 L648.96,386.86 L649.52,386.89 L650.07,386.93 L650.62,386.97 L651.17,387.01 L651.73,387.04 L652.28,387.08 L652.83,387.13 L653.39,387.17 L653.94,387.21 L654.49,387.25 L655.05,387.3 L655.6,387.35 L656.15,387.39 L656.71,387.44 L657.26,387.49 L657.81,387.54 L658.37,387.6 L658.92,387.65 L659.47,387.71 L660.02,387.76 L660.58,387.82 L661.13,387.88 L661.68,387.94 L662.24,388 L662.79,388.07 L663.34,388.13 L663.9,388.2 L664.45,388.27 L665,388.34 L665.56,388.41 L666.11,388.49 L666.66,388.56 L667.22,388.64 L667.77,388.72 L668.32,388.8 L668.87,388.88 L669.43,388.97 L669.98,389.05 L670.53,389.14 L671.09,389.23 L671.64,389.32 L672.19,389.42 L672.75,389.51 L673.3,389.61" fill="none" stroke="#515c5b" stroke-width="1.75"/>
<path d="M452.6,338.58 L453.15,339.46 L453.71,340.33 L454.26,341.18 L454.81,342.02 L455.37,342.84 L455.92,343.66 L456.47,344.45 L457.03,345.24 L457.58,346.01 L458.13,346.77 L458.68,347.51 L459.24,348.25 L459.79,348.96 L460.34,349.67 L460.9,350.37 L461.45,351.05 L462,351.72 L462.56,352.38 L463.11,353.02 L463.66,353.66 L464.22,354.28 L464.77,354.9 L465.32,355.5 L465.88,356.09 L466.43,356.67 L466.98,357.24 L467.53,357.79 L468.09,358.34 L468.64,358.88 L469.19,359.41 L469.75,359.93 L470.3,360.43 L470.85,360.93 L471.41,361.42 L471.96,361.9 L472.51,362.37 L473.07,362.83 L473.62,363.29 L474.17,363.73 L474.73,364.17 L475.28,364.59 L475.83,365.01 L476.38,365.42 L476.94,365.83 L477.49,366.22 L478.04,366.61 L478.6,366.99 L479.15,367.36 L479.7,367.73 L480.26,368.09 L480.81,368.44 L481.36,368.79 L481.92,369.13 L482.47,369.46 L483.02,369.78 L483.58,370.11 L484.13,370.42 L484.68,370.73 L485.23,371.03 L485.79,371.33 L486.34,371.62 L486.89,371.91 L487.45,372.19 L488,372.47 L488.55,372.74 L489.11,373.01 L489.66,373.27 L490.21,373.53 L490.77,373.79 L491.32,374.04 L491.87,374.29 L492.43,374.53 L492.98,374.78 L493.53,375.01 L494.08,375.25 L494.64,375.48 L495.19,375.71 L495.74,375.93 L496.3,376.16 L496.85,376.38 L497.4,376.6 L497.96,376.82 L498.51,377.03 L499.06,377.25 L499.62,377.46 L500.17,377.67 L500.72,377.87 L501.28,378.08 L501.83,378.29 L502.38,378.49 L502.94,378.69 L503.49,378.89 L504.04,379.09 L504.59,379.28 L505.15,379.48 L505.7,379.67 L506.25,379.86 L506.81,380.05 L507.36,380.24 L507.91,380.42 L508.47,380.6 L509.02,380.78 L509.57,380.96 L510.13,381.14 L510.68,381.32 L511.23,381.49 L511.79,381.66 L512.34,381.83 L512.89,382 L513.44,382.17 L514,382.33 L514.55,382.5 L515.1,382.66 L515.66,382.82 L516.21,382.98 L516.76,383.13 L517.32,383.28 L517.87,383.44 L518.42,383.59 L518.98,383.73 L519.53,383.88 L520.08,384.02 L520.64,384.17 L521.19,384.31 L521.74,384.45 L522.29,384.58 L522.85,384.72 L523.4,384.85 L523.95,384.98 L524.51,385.11 L525.06,385.24 L525.61,385.36 L526.17,385.48 L526.72,385.6 L527.27,385.72 L527.83,385.84 L528.38,385.96 L528.93,386.07 L529.49,386.18 L530.04,386.29 L530.59,386.4 L531.14,386.5 L531.7,386.61 L532.25,386.71 L532.8,386.81 L533.36,386.91 L533.91,387 L534.46,387.1 L535.02,387.19 L535.57,387.28 L536.12,387.37 L536.68,387.46 L537.23,387.55 L537.78,387.63 L538.34,387.71 L538.89,387.8 L539.44,387.88 L539.99,387.95 L540.55,388.03 L541.1,388.1 L541.65,388.18 L542.21,388.25 L542.76,388.32 L543.31,388.39 L543.87,388.45 L544.42,388.52 L544.97,388.58 L545.53,388.64 L546.08,388.71 L546.63,388.76 L547.19,388.82 L547.74,388.88 L548.29,388.93 L548.85,388.99 L549.4,389.04 L549.95,389.09 L550.5,389.14 L551.06,389.19 L551.61,389.23 L552.16,389.28 L552.72,389.32 L553.27,389.36 L553.82,389.41 L554.38,389.45 L554.93,389.48 L555.48,389.52 L556.04,389.56 L556.59,389.59 L557.14,389.62 L557.7,389.66 L558.25,389.69 L558.8,389.72 L559.35,389.75 L559.91,389.77 L560.46,389.8 L561.01,389.83 L561.57,389.85 L562.12,389.87 L562.67,389.89 L563.23,389.92 L563.78,389.94 L564.33,389.95 L564.89,389.97 L565.44,389.99 L565.99,390 L566.55,390.02 L567.1,390.03 L567.65,390.04 L568.2,390.06 L568.76,390.07 L569.31,390.08 L569.86,390.09 L570.42,390.09 L570.97,390.1 L571.52,390.11 L572.08,390.11 L572.63,390.12 L573.18,390.12 L573.74,390.12 L574.29,390.12 L574.84,390.12 L575.4,390.12 L575.95,390.12 L576.5,390.12 L577.05,390.12 L577.61,390.12 L578.16,390.12 L578.71,390.12 L579.27,390.12 L579.82,390.12 L580.37,390.12 L580.93,390.12 L581.48,390.12 L582.03,390.12 L582.59,390.12 L583.14,390.12 L583.69,390.12 L584.25,390.12 L584.8,390.12 L585.35,390.12 L585.91,390.12 L586.46,390.12 L587.01,390.12 L587.56,390.12 L588.12,390.12 L588.67,390.12 L589.22,390.12 L589.78,390.12 L590.33,390.12 L590.88,390.12 L591.44,390.12 L591.99,390.12 L592.54,390.12 L593.1,390.12 L593.65,390.12 L594.2,390.12 L594.76,390.12 L595.31,390.12 L595.86,390.12 L596.41,390.12 L596.97,390.12 L597.52,390.12 L598.07,390.12 L598.63,390.12 L599.18,390.12 L599.73,390.12 L600.29,390.12 L600.84,390.12 L601.39,390.12 L601.95,390.12 L602.5,390.12 L603.05,390.12 L603.61,390.12 L604.16,390.12 L604.71,390.12 L605.26,390.12 L605.82,390.12 L606.37,390.12 L606.92,390.12 L607.48,390.12 L608.03,390.12 L608.58,390.12 L609.14,390.12 L609.69,390.12 L610.24,390.12 L610.8,390.12 L611.35,390.12 L611.9,390.12 L612.46,390.12 L613.01,390.12 L613.56,390.12 L614.11,390.12 L614.67,390.12 L615.22,390.12 L615.77,390.12 L616.33,390.12 L616.88,390.12 L617.43,390.12 L617.99,390.12 L618.54,390.12 L619.09,390.12 L619.65,390.12 L620.2,390.12 L620.75,390.12 L621.31,390.12 L621.86,390.12 L622.41,390.12 L622.96,390.12 L623.52,390.12 L624.07,390.12 L624.62,390.12 L625.18,390.12 L625.73,390.12 L626.28,390.12 L626.84,390.12 L627.39,390.12 L627.94,390.12 L628.5,390.12 L629.05,390.12 L629.6,390.12 L630.16,390.12 L630.71,390.12 L631.26,390.12 L631.82,390.12 L632.37,390.12 L632.92,390.12 L633.47,390.12 L634.03,390.12 L634.58,390.12 L635.13,390.12 L635.69,390.12 L636.24,390.12 L636.79,390.12 L637.35,390.12 L637.9,390.12 L638.45,390.12 L639.01,390.12 L639.56,390.12 L640.11,390.12 L640.67,390.12 L641.22,390.12 L641.77,390.12 L642.32,390.12 L642.88,390.12 L643.43,390.12 L643.98,390.12 L644.54,390.12 L645.09,390.12 L645.64,390.12 L646.2,390.12 L646.75,390.12 L647.3,390.12 L647.86,390.12 L648.41,390.12 L648.96,390.12 L649.52,390.12 L650.07,390.12 L650.62,390.12 L651.17,390.12 L651.73,390.12 L652.28,390.12 L652.83,390.12 L653.39,390.12 L653.94,390.12 L654.49,390.12 L655.05,390.12 L655.6,390.12 L656.15,390.12 L656.71,390.12 L657.26,390.12 L657.81,390.12 L658.37,390.12 L658.92,390.12 L659.47,390.12 L660.02,390.12 L660.58,390.12 L661.13,390.12 L661.68,390.12 L662.24,390.12 L662.79,390.12 L663.34,390.12 L663.9,390.12 L664.45,390.12 L665,390.12 L665.56,390.12 L666.11,390.12 L666.66,390.12 L667.22,390.12 L667.77,390.12 L668.32,390.12 L668.87,390.12 L669.43,390.12 L669.98,390.12 L670.53,390.12 L671.09,390.12 L671.64,390.12 L672.19,390.12 L672.75,390.12 L673.3,390.12" fill="none" stroke="#363c3c" stroke-width="1.75"/>
<path d="M452.6,211.49 L453.15,211.49 L453.71,211.49 L454.26,211.51 L454.81,211.55 L455.37,211.6 L455.92,211.66 L456.47,211.72 L457.03,211.79 L457.58,211.86 L458.13,211.94 L458.68,212.02 L459.24,212.11 L459.79,212.21 L460.34,212.31 L460.9,212.42 L461.45,212.53 L462,212.64 L462.56,212.76 L463.11,212.89 L463.66,213.02 L464.22,213.16 L464.77,213.3 L465.32,213.45 L465.88,213.6 L466.43,213.75 L466.98,213.91 L467.53,214.08 L468.09,214.25 L468.64,214.42 L469.19,214.6 L469.75,214.78 L470.3,214.97 L470.85,215.16 L471.41,215.35 L471.96,215.55 L472.51,215.76 L473.07,215.97 L473.62,216.18 L474.17,216.39 L474.73,216.61 L475.28,216.83 L475.83,217.06 L476.38,217.29 L476.94,217.53 L477.49,217.76 L478.04,218 L478.6,218.25 L479.15,218.5 L479.7,218.75 L480.26,219 L480.81,219.26 L481.36,219.52 L481.92,219.78 L482.47,220.05 L483.02,220.32 L483.58,220.59 L484.13,220.87 L484.68,221.15 L485.23,221.43 L485.79,221.71 L486.34,222 L486.89,222.29 L487.45,222.58 L488,222.87 L488.55,223.17 L489.11,223.47 L489.66,223.77 L490.21,224.07 L490.77,224.37 L491.32,224.68 L491.87,224.99 L492.43,225.3 L492.98,225.62 L493.53,225.93 L494.08,226.25 L494.64,226.57 L495.19,226.89 L495.74,227.21 L496.3,227.53 L496.85,227.86 L497.4,228.18 L497.96,228.51 L498.51,228.84 L499.06,229.17 L499.62,229.5 L500.17,229.83 L500.72,230.17 L501.28,230.5 L501.83,230.84 L502.38,231.17 L502.94,231.51 L503.49,231.85 L504.04,232.19 L504.59,232.53 L505.15,232.87 L505.7,233.21 L506.25,233.55 L506.81,233.89 L507.36,234.23 L507.91,234.58 L508.47,234.92 L509.02,235.26 L509.57,235.61 L510.13,235.95 L510.68,236.29 L511.23,236.64 L511.79,236.98 L512.34,237.32 L512.89,237.67 L513.44,238.01 L514,238.35 L514.55,238.7 L515.1,239.04 L515.66,239.38 L516.21,239.73 L516.76,240.07 L517.32,240.42 L517.87,240.76 L518.42,241.11 L518.98,241.45 L519.53,241.8 L520.08,242.15 L520.64,242.5 L521.19,242.85 L521.74,243.2 L522.29,243.55 L522.85,243.9 L523.4,244.26 L523.95,244.61 L524.51,244.97 L525.06,245.33 L525.61,245.68 L526.17,246.04 L526.72,246.41 L527.27,246.77 L527.83,247.14 L528.38,247.5 L528.93,247.87 L529.49,248.24 L530.04,248.62 L530.59,248.99 L531.14,249.37 L531.7,249.75 L532.25,250.13 L532.8,250.51 L533.36,250.9 L533.91,251.28 L534.46,251.67 L535.02,252.07 L535.57,252.46 L536.12,252.86 L536.68,253.26 L537.23,253.67 L537.78,254.07 L538.34,254.48 L538.89,254.89 L539.44,255.31 L539.99,255.73 L540.55,256.15 L541.1,256.58 L541.65,257 L542.21,257.44 L542.76,257.87 L543.31,258.31 L543.87,258.75 L544.42,259.2 L544.97,259.65 L545.53,260.1 L546.08,260.56 L546.63,261.02 L547.19,261.48 L547.74,261.95 L548.29,262.43 L548.85,262.9 L549.4,263.38 L549.95,263.87 L550.5,264.36 L551.06,264.85 L551.61,265.35 L552.16,265.86 L552.72,266.36 L553.27,266.88 L553.82,267.39 L554.38,267.92 L554.93,268.44 L555.48,268.98 L556.04,269.51 L556.59,270.06 L557.14,270.6 L557.7,271.15 L558.25,271.71 L558.8,272.28 L559.35,272.84 L559.91,273.42 L560.46,274 L561.01,274.58 L561.57,275.17 L562.12,275.77 L562.67,276.37 L563.23,276.98 L563.78,277.59 L564.33,278.21 L564.89,278.84 L565.44,279.47 L565.99,280.11 L566.55,280.75 L567.1,281.4 L567.65,282.06 L568.2,282.72 L568.76,283.39 L569.31,284.07 L569.86,284.75 L570.42,285.44 L570.97,286.13 L571.52,286.83 L572.08,287.53 L572.63,288.24 L573.18,288.95 L573.74,289.67 L574.29,290.4 L574.84,291.13 L575.4,291.86 L575.95,292.6 L576.5,293.35 L577.05,294.09 L577.61,294.85 L578.16,295.6 L578.71,296.37 L579.27,297.13 L579.82,297.9 L580.37,298.68 L580.93,299.45 L581.48,300.24 L582.03,301.02 L582.59,301.81 L583.14,302.6 L583.69,303.4 L584.25,304.2 L584.8,305 L585.35,305.81 L585.91,306.62 L586.46,307.43 L587.01,308.24 L587.56,309.06 L588.12,309.88 L588.67,310.7 L589.22,311.52 L589.78,312.35 L590.33,313.18 L590.88,314.01 L591.44,314.84 L591.99,315.68 L592.54,316.52 L593.1,317.36 L593.65,318.2 L594.2,319.04 L594.76,319.88 L595.31,320.73 L595.86,321.57 L596.41,322.42 L596.97,323.27 L597.52,324.12 L598.07,324.96 L598.63,325.82 L599.18,326.67 L599.73,327.52 L600.29,328.37 L600.84,329.22 L601.39,330.08 L601.95,330.93 L602.5,331.78 L603.05,332.63 L603.61,333.49 L604.16,334.34 L604.71,335.19 L605.26,336.04 L605.82,336.89 L606.37,337.74 L606.92,338.59 L607.48,339.44 L608.03,340.29 L608.58,341.14 L609.14,341.98 L609.69,342.83 L610.24,343.67 L610.8,344.51 L611.35,345.35 L611.9,346.19 L612.46,347.03 L613.01,347.86 L613.56,348.69 L614.11,349.52 L614.67,350.35 L615.22,351.18 L615.77,352 L616.33,352.82 L616.88,353.64 L617.43,354.46 L617.99,355.27 L618.54,356.08 L619.09,356.89 L619.65,357.7 L620.2,358.5 L620.75,359.3 L621.31,360.09 L621.86,360.88 L622.41,361.67 L622.96,362.46 L623.52,363.24 L624.07,364.01 L624.62,364.78 L625.18,365.55 L625.73,366.31 L626.28,367.06 L626.84,367.81 L627.39,368.55 L627.94,369.28 L628.5,370 L629.05,370.71 L629.6,371.42 L630.16,372.11 L630.71,372.8 L631.26,373.47 L631.82,374.13 L632.37,374.78 L632.92,375.42 L633.47,376.04 L634.03,376.65 L634.58,377.25 L635.13,377.83 L635.69,378.39 L636.24,378.95 L636.79,379.48 L637.35,380 L637.9,380.5 L638.45,380.99 L639.01,381.45 L639.56,381.9 L640.11,382.33 L640.67,382.74 L641.22,383.13 L641.77,383.5 L642.32,383.85 L642.88,384.18 L643.43,384.48 L643.98,384.77 L644.54,385.03 L645.09,385.26 L645.64,385.48 L646.2,385.67 L646.75,385.83 L647.3,385.97 L647.86,386.08 L648.41,386.17 L648.96,386.23 L649.52,386.26 L650.07,386.26 L650.62,386.26 L651.17,386.26 L651.73,386.26 L652.28,386.26 L652.83,386.26 L653.39,386.26 L653.94,386.26 L654.49,386.26 L655.05,386.26 L655.6,386.26 L656.15,386.26 L656.71,386.26 L657.26,386.26 L657.81,386.26 L658.37,386.26 L658.92,386.26 L659.47,386.26 L660.02,386.26 L660.58,386.26 L661.13,386.26 L661.68,386.26 L662.24,386.26 L662.79,386.26 L663.34,386.26 L663.9,386.26 L664.45,386.26 L665,386.26 L665.56,386.26 L666.11,386.26 L666.66,386.26 L667.22,386.26 L667.77,386.26 L668.32,386.26 L668.87,386.26 L669.43,386.26 L669.98,386.26 L670.53,386.26 L671.09,386.28 L671.64,386.84 L672.19,387.46 L672.75,388.14 L673.3,388.89" fill="none" stroke="#f4a428" stroke-width="1.35" stroke-dasharray="2.6,1.9"/>
<path d="M452.6,225.71 L453.15,225.8 L453.71,225.9 L454.26,226 L454.81,226.1 L455.37,226.22 L455.92,226.34 L456.47,226.46 L457.03,226.59 L457.58,226.72 L458.13,226.87 L458.68,227.01 L459.24,227.16 L459.79,227.32 L460.34,227.48 L460.9,227.65 L461.45,227.83 L462,228 L462.56,228.19 L463.11,228.38 L463.66,228.57 L464.22,228.77 L464.77,228.98 L465.32,229.18 L465.88,229.4 L466.43,229.62 L466.98,229.84 L467.53,230.07 L468.09,230.31 L468.64,230.54 L469.19,230.79 L469.75,231.03 L470.3,231.29 L470.85,231.54 L471.41,231.81 L471.96,232.07 L472.51,232.34 L473.07,232.62 L473.62,232.9 L474.17,233.18 L474.73,233.47 L475.28,233.76 L475.83,234.06 L476.38,234.36 L476.94,234.66 L477.49,234.97 L478.04,235.29 L478.6,235.6 L479.15,235.93 L479.7,236.25 L480.26,236.58 L480.81,236.91 L481.36,237.25 L481.92,237.59 L482.47,237.93 L483.02,238.28 L483.58,238.63 L484.13,238.99 L484.68,239.34 L485.23,239.71 L485.79,240.07 L486.34,240.44 L486.89,240.81 L487.45,241.19 L488,241.57 L488.55,241.95 L489.11,242.33 L489.66,242.72 L490.21,243.11 L490.77,243.51 L491.32,243.91 L491.87,244.31 L492.43,244.71 L492.98,245.12 L493.53,245.53 L494.08,245.94 L494.64,246.35 L495.19,246.77 L495.74,247.19 L496.3,247.61 L496.85,248.04 L497.4,248.47 L497.96,248.9 L498.51,249.33 L499.06,249.77 L499.62,250.2 L500.17,250.65 L500.72,251.09 L501.28,251.53 L501.83,251.98 L502.38,252.43 L502.94,252.88 L503.49,253.34 L504.04,253.79 L504.59,254.25 L505.15,254.71 L505.7,255.17 L506.25,255.63 L506.81,256.1 L507.36,256.57 L507.91,257.04 L508.47,257.51 L509.02,257.98 L509.57,258.45 L510.13,258.93 L510.68,259.41 L511.23,259.89 L511.79,260.37 L512.34,260.85 L512.89,261.33 L513.44,261.82 L514,262.3 L514.55,262.79 L515.1,263.28 L515.66,263.77 L516.21,264.26 L516.76,264.75 L517.32,265.25 L517.87,265.75 L518.42,266.24 L518.98,266.74 L519.53,267.24 L520.08,267.74 L520.64,268.25 L521.19,268.75 L521.74,269.26 L522.29,269.77 L522.85,270.28 L523.4,270.79 L523.95,271.3 L524.51,271.81 L525.06,272.33 L525.61,272.85 L526.17,273.36 L526.72,273.88 L527.27,274.41 L527.83,274.93 L528.38,275.45 L528.93,275.98 L529.49,276.51 L530.04,277.03 L530.59,277.57 L531.14,278.1 L531.7,278.63 L532.25,279.17 L532.8,279.7 L533.36,280.24 L533.91,280.78 L534.46,281.32 L535.02,281.86 L535.57,282.41 L536.12,282.95 L536.68,283.5 L537.23,284.05 L537.78,284.6 L538.34,285.15 L538.89,285.7 L539.44,286.26 L539.99,286.81 L540.55,287.37 L541.1,287.93 L541.65,288.49 L542.21,289.05 L542.76,289.62 L543.31,290.18 L543.87,290.75 L544.42,291.32 L544.97,291.89 L545.53,292.46 L546.08,293.03 L546.63,293.61 L547.19,294.19 L547.74,294.76 L548.29,295.34 L548.85,295.93 L549.4,296.51 L549.95,297.09 L550.5,297.68 L551.06,298.27 L551.61,298.86 L552.16,299.45 L552.72,300.04 L553.27,300.63 L553.82,301.23 L554.38,301.83 L554.93,302.43 L555.48,303.03 L556.04,303.63 L556.59,304.23 L557.14,304.84 L557.7,305.44 L558.25,306.05 L558.8,306.66 L559.35,307.27 L559.91,307.89 L560.46,308.5 L561.01,309.11 L561.57,309.73 L562.12,310.34 L562.67,310.96 L563.23,311.58 L563.78,312.2 L564.33,312.82 L564.89,313.44 L565.44,314.06 L565.99,314.68 L566.55,315.3 L567.1,315.92 L567.65,316.55 L568.2,317.17 L568.76,317.79 L569.31,318.41 L569.86,319.04 L570.42,319.66 L570.97,320.28 L571.52,320.91 L572.08,321.53 L572.63,322.15 L573.18,322.77 L573.74,323.39 L574.29,324.01 L574.84,324.64 L575.4,325.26 L575.95,325.87 L576.5,326.49 L577.05,327.11 L577.61,327.73 L578.16,328.34 L578.71,328.96 L579.27,329.57 L579.82,330.18 L580.37,330.8 L580.93,331.41 L581.48,332.02 L582.03,332.62 L582.59,333.23 L583.14,333.84 L583.69,334.44 L584.25,335.04 L584.8,335.65 L585.35,336.25 L585.91,336.85 L586.46,337.45 L587.01,338.04 L587.56,338.64 L588.12,339.23 L588.67,339.83 L589.22,340.42 L589.78,341.01 L590.33,341.6 L590.88,342.19 L591.44,342.77 L591.99,343.36 L592.54,343.94 L593.1,344.52 L593.65,345.1 L594.2,345.68 L594.76,346.26 L595.31,346.84 L595.86,347.41 L596.41,347.99 L596.97,348.56 L597.52,349.13 L598.07,349.7 L598.63,350.27 L599.18,350.83 L599.73,351.4 L600.29,351.96 L600.84,352.52 L601.39,353.08 L601.95,353.64 L602.5,354.2 L603.05,354.75 L603.61,355.3 L604.16,355.86 L604.71,356.41 L605.26,356.96 L605.82,357.5 L606.37,358.05 L606.92,358.59 L607.48,359.13 L608.03,359.67 L608.58,360.21 L609.14,360.75 L609.69,361.28 L610.24,361.81 L610.8,362.35 L611.35,362.87 L611.9,363.4 L612.46,363.93 L613.01,364.45 L613.56,364.97 L614.11,365.49 L614.67,366.01 L615.22,366.52 L615.77,367.03 L616.33,367.54 L616.88,368.04 L617.43,368.54 L617.99,369.04 L618.54,369.53 L619.09,370.02 L619.65,370.51 L620.2,370.99 L620.75,371.46 L621.31,371.94 L621.86,372.4 L622.41,372.87 L622.96,373.32 L623.52,373.78 L624.07,374.22 L624.62,374.66 L625.18,375.1 L625.73,375.53 L626.28,375.95 L626.84,376.37 L627.39,376.78 L627.94,377.19 L628.5,377.59 L629.05,377.98 L629.6,378.36 L630.16,378.74 L630.71,379.11 L631.26,379.47 L631.82,379.83 L632.37,380.17 L632.92,380.51 L633.47,380.84 L634.03,381.17 L634.58,381.48 L635.13,381.79 L635.69,382.09 L636.24,382.38 L636.79,382.66 L637.35,382.93 L637.9,383.2 L638.45,383.46 L639.01,383.71 L639.56,383.96 L640.11,384.2 L640.67,384.43 L641.22,384.65 L641.77,384.87 L642.32,385.08 L642.88,385.28 L643.43,385.47 L643.98,385.66 L644.54,385.85 L645.09,386.03 L645.64,386.2 L646.2,386.36 L646.75,386.52 L647.3,386.68 L647.86,386.82 L648.41,386.97 L648.96,387.1 L649.52,387.23 L650.07,387.36 L650.62,387.48 L651.17,387.6 L651.73,387.71 L652.28,387.82 L652.83,387.92 L653.39,388.02 L653.94,388.11 L654.49,388.2 L655.05,388.28 L655.6,388.36 L656.15,388.44 L656.71,388.51 L657.26,388.58 L657.81,388.64 L658.37,388.7 L658.92,388.76 L659.47,388.82 L660.02,388.87 L660.58,388.92 L661.13,388.96 L661.68,389 L662.24,389.04 L662.79,389.08 L663.34,389.12 L663.9,389.15 L664.45,389.18 L665,389.2 L665.56,389.23 L666.11,389.25 L666.66,389.27 L667.22,389.29 L667.77,389.31 L668.32,389.33 L668.87,389.34 L669.43,389.36 L669.98,389.37 L670.53,389.38 L671.09,389.39 L671.64,389.4 L672.19,389.41 L672.75,389.42 L673.3,389.42" fill="none" stroke="#f4a428" stroke-width="1.35" stroke-dasharray="2.6,1.9"/>
<path d="M452.6,244.2 L453.15,244.2 L453.71,244.2 L454.26,244.2 L454.81,244.2 L455.37,244.2 L455.92,244.2 L456.47,244.2 L457.03,244.2 L457.58,244.2 L458.13,244.24 L458.68,244.36 L459.24,244.49 L459.79,244.64 L460.34,244.79 L460.9,244.96 L461.45,245.13 L462,245.32 L462.56,245.52 L463.11,245.72 L463.66,245.94 L464.22,246.17 L464.77,246.4 L465.32,246.65 L465.88,246.91 L466.43,247.17 L466.98,247.45 L467.53,247.73 L468.09,248.03 L468.64,248.33 L469.19,248.65 L469.75,248.97 L470.3,249.3 L470.85,249.64 L471.41,249.99 L471.96,250.34 L472.51,250.71 L473.07,251.09 L473.62,251.47 L474.17,251.86 L474.73,252.26 L475.28,252.67 L475.83,253.09 L476.38,253.51 L476.94,253.94 L477.49,254.38 L478.04,254.83 L478.6,255.29 L479.15,255.75 L479.7,256.22 L480.26,256.7 L480.81,257.18 L481.36,257.68 L481.92,258.18 L482.47,258.68 L483.02,259.2 L483.58,259.72 L484.13,260.24 L484.68,260.77 L485.23,261.31 L485.79,261.86 L486.34,262.41 L486.89,262.96 L487.45,263.52 L488,264.09 L488.55,264.66 L489.11,265.23 L489.66,265.81 L490.21,266.39 L490.77,266.98 L491.32,267.57 L491.87,268.16 L492.43,268.76 L492.98,269.36 L493.53,269.97 L494.08,270.58 L494.64,271.19 L495.19,271.8 L495.74,272.41 L496.3,273.03 L496.85,273.65 L497.4,274.27 L497.96,274.89 L498.51,275.52 L499.06,276.14 L499.62,276.77 L500.17,277.4 L500.72,278.02 L501.28,278.65 L501.83,279.28 L502.38,279.91 L502.94,280.54 L503.49,281.17 L504.04,281.79 L504.59,282.42 L505.15,283.05 L505.7,283.67 L506.25,284.3 L506.81,284.92 L507.36,285.54 L507.91,286.16 L508.47,286.78 L509.02,287.39 L509.57,288 L510.13,288.61 L510.68,289.22 L511.23,289.83 L511.79,290.43 L512.34,291.02 L512.89,291.62 L513.44,292.21 L514,292.8 L514.55,293.38 L515.1,293.97 L515.66,294.55 L516.21,295.12 L516.76,295.7 L517.32,296.27 L517.87,296.84 L518.42,297.4 L518.98,297.97 L519.53,298.53 L520.08,299.09 L520.64,299.64 L521.19,300.2 L521.74,300.75 L522.29,301.3 L522.85,301.85 L523.4,302.39 L523.95,302.94 L524.51,303.48 L525.06,304.02 L525.61,304.56 L526.17,305.1 L526.72,305.64 L527.27,306.17 L527.83,306.71 L528.38,307.24 L528.93,307.77 L529.49,308.3 L530.04,308.83 L530.59,309.36 L531.14,309.89 L531.7,310.42 L532.25,310.94 L532.8,311.47 L533.36,311.99 L533.91,312.52 L534.46,313.04 L535.02,313.57 L535.57,314.09 L536.12,314.62 L536.68,315.14 L537.23,315.67 L537.78,316.19 L538.34,316.71 L538.89,317.24 L539.44,317.76 L539.99,318.29 L540.55,318.81 L541.1,319.34 L541.65,319.87 L542.21,320.39 L542.76,320.92 L543.31,321.45 L543.87,321.98 L544.42,322.51 L544.97,323.04 L545.53,323.58 L546.08,324.11 L546.63,324.65 L547.19,325.18 L547.74,325.72 L548.29,326.26 L548.85,326.8 L549.4,327.35 L549.95,327.89 L550.5,328.43 L551.06,328.98 L551.61,329.53 L552.16,330.08 L552.72,330.63 L553.27,331.18 L553.82,331.73 L554.38,332.28 L554.93,332.84 L555.48,333.39 L556.04,333.95 L556.59,334.5 L557.14,335.06 L557.7,335.61 L558.25,336.17 L558.8,336.72 L559.35,337.28 L559.91,337.84 L560.46,338.39 L561.01,338.95 L561.57,339.5 L562.12,340.06 L562.67,340.62 L563.23,341.17 L563.78,341.73 L564.33,342.28 L564.89,342.83 L565.44,343.39 L565.99,343.94 L566.55,344.49 L567.1,345.04 L567.65,345.59 L568.2,346.14 L568.76,346.68 L569.31,347.23 L569.86,347.77 L570.42,348.32 L570.97,348.86 L571.52,349.4 L572.08,349.94 L572.63,350.47 L573.18,351.01 L573.74,351.54 L574.29,352.07 L574.84,352.6 L575.4,353.13 L575.95,353.65 L576.5,354.18 L577.05,354.7 L577.61,355.21 L578.16,355.73 L578.71,356.24 L579.27,356.75 L579.82,357.26 L580.37,357.77 L580.93,358.27 L581.48,358.77 L582.03,359.27 L582.59,359.76 L583.14,360.25 L583.69,360.74 L584.25,361.22 L584.8,361.7 L585.35,362.18 L585.91,362.65 L586.46,363.12 L587.01,363.59 L587.56,364.05 L588.12,364.51 L588.67,364.97 L589.22,365.42 L589.78,365.87 L590.33,366.31 L590.88,366.75 L591.44,367.19 L591.99,367.62 L592.54,368.05 L593.1,368.47 L593.65,368.89 L594.2,369.3 L594.76,369.71 L595.31,370.12 L595.86,370.52 L596.41,370.91 L596.97,371.3 L597.52,371.69 L598.07,372.07 L598.63,372.45 L599.18,372.82 L599.73,373.18 L600.29,373.54 L600.84,373.9 L601.39,374.25 L601.95,374.59 L602.5,374.93 L603.05,375.26 L603.61,375.59 L604.16,375.91 L604.71,376.22 L605.26,376.53 L605.82,376.84 L606.37,377.13 L606.92,377.43 L607.48,377.71 L608.03,377.99 L608.58,378.27 L609.14,378.54 L609.69,378.8 L610.24,379.06 L610.8,379.31 L611.35,379.56 L611.9,379.81 L612.46,380.04 L613.01,380.28 L613.56,380.5 L614.11,380.73 L614.67,380.94 L615.22,381.16 L615.77,381.37 L616.33,381.57 L616.88,381.77 L617.43,381.96 L617.99,382.16 L618.54,382.34 L619.09,382.52 L619.65,382.7 L620.2,382.87 L620.75,383.04 L621.31,383.21 L621.86,383.37 L622.41,383.52 L622.96,383.68 L623.52,383.83 L624.07,383.97 L624.62,384.11 L625.18,384.25 L625.73,384.39 L626.28,384.52 L626.84,384.65 L627.39,384.77 L627.94,384.89 L628.5,385.01 L629.05,385.12 L629.6,385.24 L630.16,385.35 L630.71,385.45 L631.26,385.55 L631.82,385.65 L632.37,385.75 L632.92,385.85 L633.47,385.94 L634.03,386.03 L634.58,386.11 L635.13,386.2 L635.69,386.28 L636.24,386.36 L636.79,386.44 L637.35,386.51 L637.9,386.58 L638.45,386.66 L639.01,386.72 L639.56,386.79 L640.11,386.86 L640.67,386.92 L641.22,386.98 L641.77,387.04 L642.32,387.1 L642.88,387.16 L643.43,387.21 L643.98,387.27 L644.54,387.32 L645.09,387.37 L645.64,387.42 L646.2,387.47 L646.75,387.52 L647.3,387.57 L647.86,387.61 L648.41,387.66 L648.96,387.7 L649.52,387.75 L650.07,387.79 L650.62,387.83 L651.17,387.87 L651.73,387.92 L652.28,387.96 L652.83,388 L653.39,388.04 L653.94,388.08 L654.49,388.12 L655.05,388.16 L655.6,388.2 L656.15,388.24 L656.71,388.28 L657.26,388.32 L657.81,388.36 L658.37,388.4 L658.92,388.44 L659.47,388.48 L660.02,388.52 L660.58,388.56 L661.13,388.61 L661.68,388.65 L662.24,388.7 L662.79,388.74 L663.34,388.79 L663.9,388.83 L664.45,388.88 L665,388.93 L665.56,388.98 L666.11,389.03 L666.66,389.09 L667.22,389.14 L667.77,389.2 L668.32,389.25 L668.87,389.31 L669.43,389.37 L669.98,389.43 L670.53,389.5 L671.09,389.56 L671.64,389.63 L672.19,389.7 L672.75,389.77 L673.3,389.84" fill="none" stroke="#f4a428" stroke-width="1.35" stroke-dasharray="2.6,1.9"/>
<path d="M452.6,266.44 L453.15,266.63 L453.71,266.84 L454.26,267.05 L454.81,267.28 L455.37,267.51 L455.92,267.76 L456.47,268.02 L457.03,268.29 L457.58,268.56 L458.13,268.85 L458.68,269.15 L459.24,269.46 L459.79,269.78 L460.34,270.11 L460.9,270.45 L461.45,270.8 L462,271.15 L462.56,271.52 L463.11,271.9 L463.66,272.28 L464.22,272.68 L464.77,273.08 L465.32,273.49 L465.88,273.91 L466.43,274.34 L466.98,274.77 L467.53,275.22 L468.09,275.67 L468.64,276.13 L469.19,276.6 L469.75,277.07 L470.3,277.55 L470.85,278.04 L471.41,278.54 L471.96,279.04 L472.51,279.56 L473.07,280.07 L473.62,280.6 L474.17,281.13 L474.73,281.67 L475.28,282.21 L475.83,282.76 L476.38,283.32 L476.94,283.88 L477.49,284.44 L478.04,285.02 L478.6,285.6 L479.15,286.18 L479.7,286.77 L480.26,287.36 L480.81,287.96 L481.36,288.57 L481.92,289.18 L482.47,289.79 L483.02,290.41 L483.58,291.03 L484.13,291.65 L484.68,292.28 L485.23,292.92 L485.79,293.55 L486.34,294.2 L486.89,294.84 L487.45,295.48 L488,296.13 L488.55,296.79 L489.11,297.44 L489.66,298.1 L490.21,298.76 L490.77,299.42 L491.32,300.08 L491.87,300.74 L492.43,301.41 L492.98,302.08 L493.53,302.75 L494.08,303.42 L494.64,304.09 L495.19,304.76 L495.74,305.43 L496.3,306.1 L496.85,306.77 L497.4,307.44 L497.96,308.11 L498.51,308.79 L499.06,309.46 L499.62,310.13 L500.17,310.8 L500.72,311.47 L501.28,312.14 L501.83,312.81 L502.38,313.47 L502.94,314.14 L503.49,314.8 L504.04,315.47 L504.59,316.13 L505.15,316.79 L505.7,317.45 L506.25,318.11 L506.81,318.76 L507.36,319.41 L507.91,320.07 L508.47,320.72 L509.02,321.36 L509.57,322.01 L510.13,322.65 L510.68,323.29 L511.23,323.93 L511.79,324.56 L512.34,325.19 L512.89,325.82 L513.44,326.44 L514,327.06 L514.55,327.68 L515.1,328.3 L515.66,328.91 L516.21,329.52 L516.76,330.12 L517.32,330.72 L517.87,331.31 L518.42,331.91 L518.98,332.49 L519.53,333.08 L520.08,333.65 L520.64,334.23 L521.19,334.8 L521.74,335.36 L522.29,335.92 L522.85,336.48 L523.4,337.02 L523.95,337.57 L524.51,338.11 L525.06,338.64 L525.61,339.17 L526.17,339.69 L526.72,340.21 L527.27,340.72 L527.83,341.23 L528.38,341.73 L528.93,342.22 L529.49,342.71 L530.04,343.2 L530.59,343.68 L531.14,344.16 L531.7,344.63 L532.25,345.1 L532.8,345.56 L533.36,346.02 L533.91,346.48 L534.46,346.93 L535.02,347.38 L535.57,347.82 L536.12,348.26 L536.68,348.7 L537.23,349.13 L537.78,349.56 L538.34,349.98 L538.89,350.41 L539.44,350.82 L539.99,351.24 L540.55,351.65 L541.1,352.06 L541.65,352.47 L542.21,352.87 L542.76,353.27 L543.31,353.67 L543.87,354.07 L544.42,354.46 L544.97,354.85 L545.53,355.24 L546.08,355.62 L546.63,356 L547.19,356.38 L547.74,356.76 L548.29,357.13 L548.85,357.5 L549.4,357.87 L549.95,358.23 L550.5,358.59 L551.06,358.95 L551.61,359.31 L552.16,359.67 L552.72,360.02 L553.27,360.37 L553.82,360.71 L554.38,361.06 L554.93,361.4 L555.48,361.74 L556.04,362.08 L556.59,362.41 L557.14,362.74 L557.7,363.07 L558.25,363.4 L558.8,363.72 L559.35,364.05 L559.91,364.37 L560.46,364.68 L561.01,365 L561.57,365.31 L562.12,365.62 L562.67,365.93 L563.23,366.24 L563.78,366.54 L564.33,366.84 L564.89,367.14 L565.44,367.44 L565.99,367.73 L566.55,368.02 L567.1,368.31 L567.65,368.6 L568.2,368.89 L568.76,369.17 L569.31,369.45 L569.86,369.73 L570.42,370.01 L570.97,370.29 L571.52,370.56 L572.08,370.83 L572.63,371.1 L573.18,371.37 L573.74,371.63 L574.29,371.9 L574.84,372.16 L575.4,372.42 L575.95,372.67 L576.5,372.93 L577.05,373.18 L577.61,373.44 L578.16,373.69 L578.71,373.93 L579.27,374.18 L579.82,374.42 L580.37,374.67 L580.93,374.91 L581.48,375.15 L582.03,375.38 L582.59,375.62 L583.14,375.85 L583.69,376.09 L584.25,376.32 L584.8,376.55 L585.35,376.77 L585.91,377 L586.46,377.22 L587.01,377.44 L587.56,377.67 L588.12,377.88 L588.67,378.1 L589.22,378.32 L589.78,378.53 L590.33,378.75 L590.88,378.96 L591.44,379.17 L591.99,379.37 L592.54,379.58 L593.1,379.79 L593.65,379.99 L594.2,380.19 L594.76,380.39 L595.31,380.59 L595.86,380.78 L596.41,380.98 L596.97,381.17 L597.52,381.36 L598.07,381.55 L598.63,381.74 L599.18,381.92 L599.73,382.11 L600.29,382.29 L600.84,382.47 L601.39,382.64 L601.95,382.82 L602.5,382.99 L603.05,383.16 L603.61,383.33 L604.16,383.5 L604.71,383.66 L605.26,383.83 L605.82,383.99 L606.37,384.15 L606.92,384.3 L607.48,384.46 L608.03,384.61 L608.58,384.76 L609.14,384.91 L609.69,385.05 L610.24,385.2 L610.8,385.34 L611.35,385.48 L611.9,385.61 L612.46,385.74 L613.01,385.88 L613.56,386.01 L614.11,386.13 L614.67,386.26 L615.22,386.38 L615.77,386.5 L616.33,386.61 L616.88,386.73 L617.43,386.84 L617.99,386.95 L618.54,387.06 L619.09,387.16 L619.65,387.26 L620.2,387.36 L620.75,387.46 L621.31,387.55 L621.86,387.64 L622.41,387.73 L622.96,387.81 L623.52,387.89 L624.07,387.97 L624.62,388.05 L625.18,388.13 L625.73,388.2 L626.28,388.26 L626.84,388.33 L627.39,388.39 L627.94,388.45 L628.5,388.51 L629.05,388.56 L629.6,388.61 L630.16,388.66 L630.71,388.71 L631.26,388.75 L631.82,388.79 L632.37,388.82 L632.92,388.86 L633.47,388.89 L634.03,388.92 L634.58,388.94 L635.13,388.97 L635.69,388.99 L636.24,389.01 L636.79,389.03 L637.35,389.04 L637.9,389.06 L638.45,389.07 L639.01,389.08 L639.56,389.09 L640.11,389.09 L640.67,389.1 L641.22,389.1 L641.77,389.1 L642.32,389.11 L642.88,389.11 L643.43,389.11 L643.98,389.11 L644.54,389.11 L645.09,389.11 L645.64,389.11 L646.2,389.11 L646.75,389.11 L647.3,389.11 L647.86,389.11 L648.41,389.11 L648.96,389.11 L649.52,389.11 L650.07,389.11 L650.62,389.11 L651.17,389.11 L651.73,389.11 L652.28,389.11 L652.83,389.11 L653.39,389.11 L653.94,389.11 L654.49,389.11 L655.05,389.11 L655.6,389.11 L656.15,389.11 L656.71,389.11 L657.26,389.11 L657.81,389.11 L658.37,389.11 L658.92,389.11 L659.47,389.11 L660.02,389.11 L660.58,389.11 L661.13,389.11 L661.68,389.11 L662.24,389.11 L662.79,389.11 L663.34,389.11 L663.9,389.11 L664.45,389.11 L665,389.11 L665.56,389.13 L666.11,389.15 L666.66,389.18 L667.22,389.21 L667.77,389.24 L668.32,389.28 L668.87,389.32 L669.43,389.36 L669.98,389.4 L670.53,389.45 L671.09,389.5 L671.64,389.56 L672.19,389.61 L672.75,389.67 L673.3,389.74" fill="none" stroke="#f4a428" stroke-width="1.35" stroke-dasharray="2.6,1.9"/>
<path d="M452.6,333.18 L453.15,333.99 L453.71,334.78 L454.26,335.57 L454.81,336.34 L455.37,337.11 L455.92,337.87 L456.47,338.63 L457.03,339.37 L457.58,340.11 L458.13,340.83 L458.68,341.55 L459.24,342.26 L459.79,342.97 L460.34,343.66 L460.9,344.35 L461.45,345.03 L462,345.7 L462.56,346.37 L463.11,347.02 L463.66,347.67 L464.22,348.31 L464.77,348.95 L465.32,349.57 L465.88,350.19 L466.43,350.81 L466.98,351.41 L467.53,352.01 L468.09,352.6 L468.64,353.18 L469.19,353.76 L469.75,354.33 L470.3,354.89 L470.85,355.45 L471.41,355.99 L471.96,356.54 L472.51,357.07 L473.07,357.6 L473.62,358.12 L474.17,358.64 L474.73,359.15 L475.28,359.65 L475.83,360.15 L476.38,360.64 L476.94,361.12 L477.49,361.6 L478.04,362.07 L478.6,362.54 L479.15,363 L479.7,363.45 L480.26,363.9 L480.81,364.34 L481.36,364.78 L481.92,365.21 L482.47,365.64 L483.02,366.06 L483.58,366.47 L484.13,366.88 L484.68,367.28 L485.23,367.68 L485.79,368.07 L486.34,368.46 L486.89,368.84 L487.45,369.22 L488,369.59 L488.55,369.96 L489.11,370.32 L489.66,370.67 L490.21,371.03 L490.77,371.37 L491.32,371.72 L491.87,372.05 L492.43,372.39 L492.98,372.72 L493.53,373.04 L494.08,373.36 L494.64,373.67 L495.19,373.99 L495.74,374.29 L496.3,374.59 L496.85,374.89 L497.4,375.18 L497.96,375.47 L498.51,375.76 L499.06,376.04 L499.62,376.31 L500.17,376.59 L500.72,376.85 L501.28,377.12 L501.83,377.38 L502.38,377.63 L502.94,377.89 L503.49,378.14 L504.04,378.38 L504.59,378.62 L505.15,378.86 L505.7,379.09 L506.25,379.32 L506.81,379.55 L507.36,379.77 L507.91,379.99 L508.47,380.21 L509.02,380.42 L509.57,380.63 L510.13,380.83 L510.68,381.04 L511.23,381.23 L511.79,381.43 L512.34,381.62 L512.89,381.81 L513.44,382 L514,382.18 L514.55,382.36 L515.1,382.54 L515.66,382.71 L516.21,382.89 L516.76,383.06 L517.32,383.22 L517.87,383.38 L518.42,383.55 L518.98,383.7 L519.53,383.86 L520.08,384.01 L520.64,384.16 L521.19,384.31 L521.74,384.45 L522.29,384.6 L522.85,384.74 L523.4,384.87 L523.95,385.01 L524.51,385.14 L525.06,385.27 L525.61,385.4 L526.17,385.53 L526.72,385.66 L527.27,385.78 L527.83,385.9 L528.38,386.02 L528.93,386.13 L529.49,386.25 L530.04,386.36 L530.59,386.47 L531.14,386.58 L531.7,386.69 L532.25,386.79 L532.8,386.89 L533.36,386.99 L533.91,387.09 L534.46,387.19 L535.02,387.29 L535.57,387.38 L536.12,387.47 L536.68,387.56 L537.23,387.65 L537.78,387.73 L538.34,387.82 L538.89,387.9 L539.44,387.98 L539.99,388.06 L540.55,388.14 L541.1,388.21 L541.65,388.29 L542.21,388.36 L542.76,388.43 L543.31,388.5 L543.87,388.56 L544.42,388.63 L544.97,388.69 L545.53,388.76 L546.08,388.82 L546.63,388.88 L547.19,388.93 L547.74,388.99 L548.29,389.04 L548.85,389.1 L549.4,389.15 L549.95,389.2 L550.5,389.25 L551.06,389.29 L551.61,389.34 L552.16,389.38 L552.72,389.43 L553.27,389.47 L553.82,389.51 L554.38,389.55 L554.93,389.58 L555.48,389.62 L556.04,389.65 L556.59,389.69 L557.14,389.72 L557.7,389.75 L558.25,389.78 L558.8,389.81 L559.35,389.84 L559.91,389.86 L560.46,389.89 L561.01,389.91 L561.57,389.93 L562.12,389.95 L562.67,389.97 L563.23,389.99 L563.78,390.01 L564.33,390.02 L564.89,390.04 L565.44,390.05 L565.99,390.07 L566.55,390.08 L567.1,390.09 L567.65,390.1 L568.2,390.11 L568.76,390.12 L569.31,390.12 L569.86,390.13 L570.42,390.14 L570.97,390.14 L571.52,390.14 L572.08,390.15 L572.63,390.15 L573.18,390.15 L573.74,390.15 L574.29,390.15 L574.84,390.15 L575.4,390.15 L575.95,390.15 L576.5,390.15 L577.05,390.15 L577.61,390.15 L578.16,390.15 L578.71,390.15 L579.27,390.15 L579.82,390.15 L580.37,390.15 L580.93,390.15 L581.48,390.15 L582.03,390.15 L582.59,390.15 L583.14,390.15 L583.69,390.15 L584.25,390.15 L584.8,390.15 L585.35,390.15 L585.91,390.15 L586.46,390.15 L587.01,390.15 L587.56,390.15 L588.12,390.15 L588.67,390.15 L589.22,390.15 L589.78,390.15 L590.33,390.15 L590.88,390.15 L591.44,390.15 L591.99,390.15 L592.54,390.15 L593.1,390.15 L593.65,390.15 L594.2,390.15 L594.76,390.15 L595.31,390.15 L595.86,390.15 L596.41,390.15 L596.97,390.15 L597.52,390.15 L598.07,390.15 L598.63,390.15 L599.18,390.15 L599.73,390.15 L600.29,390.15 L600.84,390.15 L601.39,390.15 L601.95,390.15 L602.5,390.15 L603.05,390.15 L603.61,390.15 L604.16,390.15 L604.71,390.15 L605.26,390.15 L605.82,390.15 L606.37,390.15 L606.92,390.15 L607.48,390.15 L608.03,390.15 L608.58,390.15 L609.14,390.15 L609.69,390.15 L610.24,390.15 L610.8,390.15 L611.35,390.15 L611.9,390.15 L612.46,390.15 L613.01,390.15 L613.56,390.15 L614.11,390.15 L614.67,390.15 L615.22,390.15 L615.77,390.15 L616.33,390.15 L616.88,390.15 L617.43,390.15 L617.99,390.15 L618.54,390.15 L619.09,390.15 L619.65,390.15 L620.2,390.15 L620.75,390.15 L621.31,390.15 L621.86,390.15 L622.41,390.15 L622.96,390.15 L623.52,390.15 L624.07,390.15 L624.62,390.15 L625.18,390.15 L625.73,390.15 L626.28,390.15 L626.84,390.15 L627.39,390.15 L627.94,390.15 L628.5,390.15 L629.05,390.15 L629.6,390.15 L630.16,390.15 L630.71,390.15 L631.26,390.15 L631.82,390.15 L632.37,390.15 L632.92,390.15 L633.47,390.15 L634.03,390.15 L634.58,390.15 L635.13,390.15 L635.69,390.15 L636.24,390.15 L636.79,390.15 L637.35,390.15 L637.9,390.15 L638.45,390.15 L639.01,390.15 L639.56,390.15 L640.11,390.15 L640.67,390.15 L641.22,390.15 L641.77,390.15 L642.32,390.15 L642.88,390.15 L643.43,390.15 L643.98,390.15 L644.54,390.15 L645.09,390.15 L645.64,390.15 L646.2,390.15 L646.75,390.15 L647.3,390.15 L647.86,390.15 L648.41,390.15 L648.96,390.15 L649.52,390.15 L650.07,390.15 L650.62,390.15 L651.17,390.15 L651.73,390.15 L652.28,390.15 L652.83,390.15 L653.39,390.15 L653.94,390.15 L654.49,390.15 L655.05,390.15 L655.6,390.15 L656.15,390.15 L656.71,390.15 L657.26,390.15 L657.81,390.15 L658.37,390.15 L658.92,390.15 L659.47,390.15 L660.02,390.15 L660.58,390.15 L661.13,390.15 L661.68,390.15 L662.24,390.15 L662.79,390.15 L663.34,390.15 L663.9,390.15 L664.45,390.15 L665,390.15 L665.56,390.15 L666.11,390.15 L666.66,390.15 L667.22,390.15 L667.77,390.15 L668.32,390.15 L668.87,390.15 L669.43,390.15 L669.98,390.15 L670.53,390.15 L671.09,390.15 L671.64,390.15 L672.19,390.15 L672.75,390.15 L673.3,390.15" fill="none" stroke="#f4a428" stroke-width="1.35" stroke-dasharray="2.6,1.9"/>
<line x1="535.1" y1="255.3" x2="541.2" y2="247.6" stroke="#222" stroke-width="0.6" />
<circle cx="535.1" cy="255.3" r="0.9" fill="#222"/>
<text x="541.3" y="249.9" font-size="8" text-anchor="start" fill="#444" font-weight="normal" font-family='"Liberation Serif", serif' >VI<tspan font-size="6" dy="-2.5">*</tspan></text>
<line x1="540.5" y1="282.8" x2="545.8" y2="277.2" stroke="#222" stroke-width="0.6" />
<circle cx="540.5" cy="282.8" r="0.9" fill="#222"/>
<text x="546.5" y="278.2" font-size="8" text-anchor="start" fill="#444" font-weight="normal" font-family='"Liberation Serif", serif' >V</text>
<line x1="538.2" y1="311.1" x2="543.5" y2="305.3" stroke="#222" stroke-width="0.6" />
<circle cx="538.2" cy="311.1" r="0.9" fill="#222"/>
<text x="542.2" y="307.6" font-size="8" text-anchor="start" fill="#444" font-weight="normal" font-family='"Liberation Serif", serif' >IV<tspan font-size="6" dy="-2.5">*</tspan></text>
<line x1="533.8" y1="353.8" x2="541" y2="346.3" stroke="#222" stroke-width="0.6" />
<circle cx="533.8" cy="353.8" r="0.9" fill="#222"/>
<text x="541" y="348.2" font-size="8" text-anchor="start" fill="#444" font-weight="normal" font-family='"Liberation Serif", serif' >III</text>
<line x1="498.5" y1="376" x2="505" y2="369.5" stroke="#222" stroke-width="0.6" />
<circle cx="498.5" cy="376" r="0.9" fill="#222"/>
<text x="505" y="371.8" font-size="8" text-anchor="start" fill="#444" font-weight="normal" font-family='"Liberation Serif", serif' >II</text>
<rect x="602.2" y="211.8" width="67.6" height="21.5" fill="#fff" stroke="#444" stroke-width="0.8"/>
<rect x="605.6" y="215.5" width="13.6" height="3.4" rx="1.7" fill="url(#gExp)"/>
<text x="621.8" y="219.8" font-size="7.9" text-anchor="start" fill="#222" font-weight="normal" font-family='"Liberation Sans", sans-serif' >Experimental</text>
<rect x="605.9" y="226.2" width="4.6" height="3.4" rx="1.7" fill="#f5a52a"/><rect x="614.4" y="226.2" width="4.6" height="3.4" rx="1.7" fill="#f5a52a"/>
<text x="621.8" y="230.5" font-size="7.9" text-anchor="start" fill="#222" font-weight="normal" font-family='"Liberation Sans", sans-serif' >Percolation</text>
<rect x="602.2" y="236" width="67.6" height="64" fill="#fff" stroke="#444" stroke-width="0.8"/>
<text x="604.6" y="242.9" font-size="6.6" text-anchor="start" fill="#111" font-weight="bold" font-family='"Liberation Sans", sans-serif' >RMSE</text>
<line x1="607.3" y1="249.8" x2="617.5" y2="249.8" stroke="#a8c2c1" stroke-width="3.4" stroke-linecap="round"/>
<text x="625.4" y="252.5" font-size="7.9" text-anchor="start" fill="#222" font-weight="normal" font-family='"Liberation Sans", sans-serif' >37.89 MPa</text>
<line x1="607.3" y1="260.75" x2="617.5" y2="260.75" stroke="#8ba3a2" stroke-width="3.4" stroke-linecap="round"/>
<text x="625.4" y="263.45" font-size="7.9" text-anchor="start" fill="#222" font-weight="normal" font-family='"Liberation Sans", sans-serif' >33.98 MPa</text>
<line x1="607.3" y1="271.7" x2="617.5" y2="271.7" stroke="#6e8281" stroke-width="3.4" stroke-linecap="round"/>
<text x="625.4" y="274.4" font-size="7.9" text-anchor="start" fill="#222" font-weight="normal" font-family='"Liberation Sans", sans-serif' >50.44 MPa</text>
<line x1="607.3" y1="282.65" x2="617.5" y2="282.65" stroke="#515c5b" stroke-width="3.4" stroke-linecap="round"/>
<text x="625.4" y="285.35" font-size="7.9" text-anchor="start" fill="#222" font-weight="normal" font-family='"Liberation Sans", sans-serif' >31.65 MPa</text>
<line x1="607.3" y1="293.6" x2="617.5" y2="293.6" stroke="#363c3c" stroke-width="3.4" stroke-linecap="round"/>
<text x="625.4" y="296.3" font-size="7.9" text-anchor="start" fill="#222" font-weight="normal" font-family='"Liberation Sans", sans-serif' >30.11 MPa</text>
</svg>
</body></html>
